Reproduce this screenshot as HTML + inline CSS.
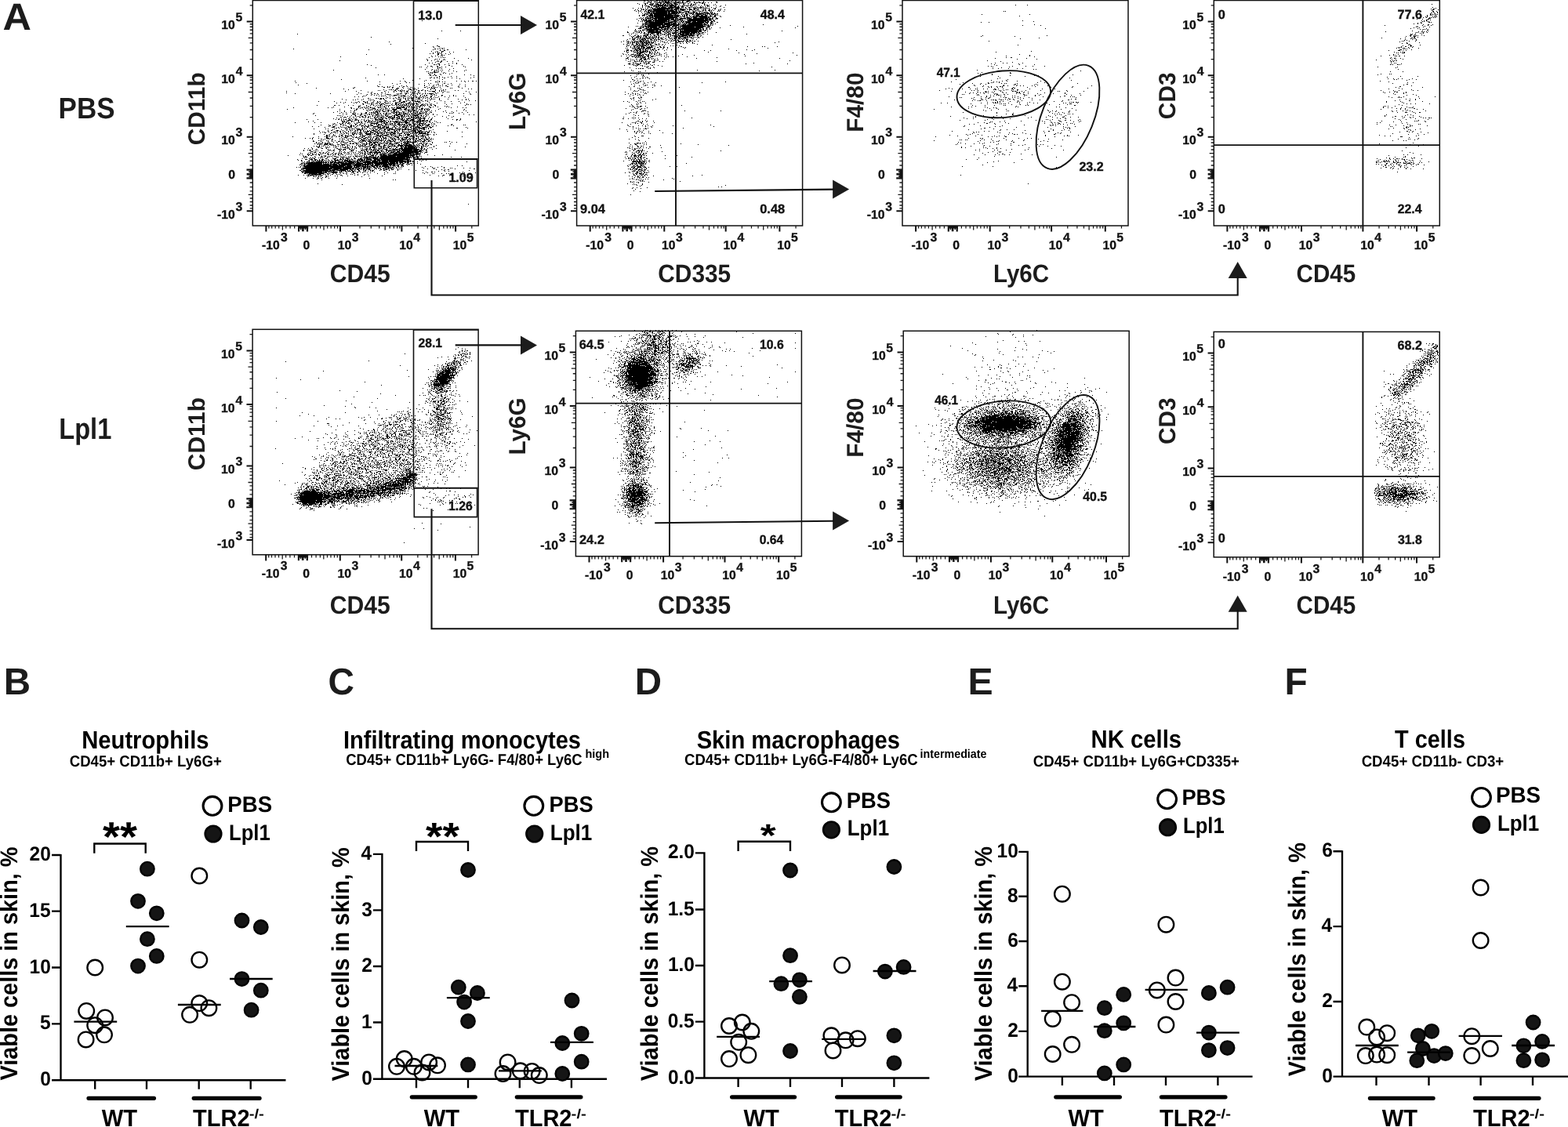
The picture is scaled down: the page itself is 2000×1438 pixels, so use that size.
<!DOCTYPE html>
<html><head><meta charset="utf-8"><title>Figure</title>
<style>html,body{margin:0;padding:0;background:#fff;width:2000px;height:1438px;overflow:hidden}svg{display:block}text{text-rendering:geometricPrecision}</style>
</head><body>
<svg xmlns="http://www.w3.org/2000/svg" width="2000" height="1438" viewBox="0 0 2000 1438" font-family="Liberation Sans, Arial, sans-serif" font-weight="bold">
<rect width="2000" height="1438" fill="#fff"/>
<path d="M821 1.5h2m3 0h1m3 0h1m6 0h2m2 0h1m2 0h2m1 0h3m2 0h2m3 0h1m3 0h1m8 0h2m4 0h4m17 0h1m-71 1h2m1 0h1m3 0h3m4 0h1m1 0h1m1 0h2m1 0h6m1 0h2m2 0h1m4 0h4m2 0h1m4 0h3m2 0h1m4 0h1m5 0h1m5 0h1m15 0h2m-94 1h1m3 0h2m2 0h2m6 0h7m1 0h1m1 0h8m2 0h1m1 0h2m2 0h3m1 0h1m1 0h4m1 0h1m4 0h1m5 0h2m1 0h2m1 0h3m1 0h3m1 0h1m3 0h1m3 0h1m6 0h1m-102 1h1m8 0h2m1 0h1m4 0h1m1 0h2m2 0h1m1 0h1m3 0h2m2 0h2m2 0h3m1 0h3m2 0h2m1 0h1m3 0h1m1 0h1m2 0h1m1 0h1m3 0h2m2 0h1m5 0h1m7 0h2m1 0h1m-84 1h1m7 0h1m4 0h5m3 0h5m1 0h1m2 0h2m1 0h2m1 0h4m1 0h2m2 0h5m1 0h1m4 0h2m8 0h2m1 0h1m1 0h1m11 0h1m13 0h1m913 0h1m-1008 1h1m2 0h2m5 0h1m1 0h3m1 0h1m1 0h13m1 0h1m2 0h6m1 0h2m8 0h1m1 0h1m3 0h2m1 0h2m2 0h2m1 0h1m3 0h1m6 0h2m1 0h2m1 0h1m5 0h1m14 0h1m369 0h1m14 0h1m-492 1h1m4 0h2m1 0h1m2 0h2m2 0h4m1 0h7m1 0h16m2 0h2m1 0h1m1 0h2m1 0h1m1 0h2m3 0h1m1 0h2m10 0h1m7 0h2m9 0h1m5 0h1m-101 1h1m3 0h1m2 0h3m4 0h2m1 0h5m1 0h1m1 0h4m1 0h1m1 0h1m2 0h4m1 0h2m1 0h1m1 0h2m3 0h3m5 0h1m3 0h1m4 0h1m1 0h1m4 0h1m2 0h1m2 0h1m2 0h1m1 0h1m13 0h1m-100 1h1m6 0h1m1 0h1m1 0h2m4 0h3m1 0h2m1 0h7m2 0h15m2 0h3m2 0h1m3 0h3m1 0h1m1 0h1m1 0h1m2 0h2m1 0h4m1 0h1m2 0h1m6 0h1m5 0h1m9 0h1m903 0h1m-1021 1h1m6 0h1m2 0h1m5 0h1m2 0h1m2 0h1m1 0h2m1 0h1m1 0h1m1 0h21m2 0h6m1 0h1m5 0h2m3 0h1m4 0h5m2 0h1m1 0h2m1 0h1m1 0h1m1 0h1m1 0h1m1 0h1m5 0h1m1 0h1m918 0h1m-1014 1h1m1 0h1m4 0h1m6 0h23m1 0h2m1 0h7m1 0h6m4 0h1m1 0h3m3 0h2m2 0h2m6 0h1m1 0h2m3 0h1m6 0h2m6 0h1m905 0h1m2 0h2m-1020 1h1m2 0h1m4 0h1m1 0h2m1 0h2m2 0h5m1 0h16m1 0h3m1 0h5m1 0h2m1 0h1m1 0h1m1 0h8m1 0h1m2 0h4m1 0h3m1 0h1m1 0h1m4 0h1m1 0h1m1 0h1m4 0h2m2 0h1m7 0h1m1 0h1m5 0h1m902 0h2m5 0h1m-1026 1h1m4 0h1m2 0h1m5 0h1m2 0h4m1 0h1m1 0h27m1 0h1m1 0h1m1 0h1m1 0h1m1 0h4m6 0h1m3 0h1m3 0h1m1 0h1m1 0h1m4 0h2m1 0h2m2 0h3m1 0h1m2 0h1m5 0h1m1 0h1m907 0h1m-1016 1h1m2 0h1m1 0h1m5 0h1m1 0h1m1 0h2m1 0h35m1 0h3m5 0h6m5 0h2m1 0h1m2 0h1m1 0h2m1 0h1m4 0h1m4 0h1m1 0h1m7 0h1m1 0h1m5 0h1m356 0h1m1 0h1m544 0h2m3 0h1m-1015 1h1m3 0h1m1 0h1m1 0h4m1 0h1m1 0h2m1 0h15m1 0h3m1 0h5m1 0h3m1 0h4m1 0h1m1 0h1m1 0h1m1 0h4m1 0h5m1 0h1m3 0h1m2 0h1m1 0h2m1 0h1m1 0h1m3 0h1m1 0h1m919 0h1m4 0h1m-1020 1h1m10 0h4m1 0h25m1 0h12m2 0h2m2 0h2m1 0h2m2 0h1m2 0h2m1 0h3m2 0h1m1 0h1m1 0h1m1 0h6m2 0h3m2 0h1m913 0h2m2 0h1m3 0h1m-1015 1h1m2 0h3m1 0h1m1 0h4m1 0h18m1 0h12m1 0h1m3 0h1m4 0h3m2 0h6m2 0h11m1 0h1m1 0h5m1 0h2m1 0h3m1 0h2m908 0h1m5 0h1m-1010 1h2m1 0h3m2 0h4m1 0h23m1 0h1m1 0h3m1 0h1m4 0h1m1 0h1m1 0h1m1 0h3m5 0h2m1 0h1m1 0h7m1 0h5m1 0h1m2 0h1m1 0h4m1 0h1m1 0h1m337 0h1m60 0h1m510 0h2m1 0h1m1 0h1m1 0h1m1 0h1m-1019 1h1m3 0h4m4 0h6m1 0h33m3 0h1m1 0h2m1 0h2m2 0h1m5 0h1m1 0h5m2 0h3m2 0h3m3 0h2m4 0h3m1 0h1m895 0h1m8 0h1m3 0h1m1 0h1m4 0h1m-1017 1h1m3 0h1m1 0h1m2 0h1m1 0h1m1 0h31m1 0h1m1 0h4m1 0h1m2 0h1m1 0h2m1 0h2m2 0h1m1 0h1m2 0h2m1 0h16m3 0h3m2 0h2m5 0h1m381 0h1m519 0h1m8 0h1m1 0h1m-1007 1h2m1 0h2m1 0h2m1 0h13m1 0h14m1 0h3m1 0h1m1 0h1m1 0h3m2 0h1m3 0h1m2 0h7m1 0h11m1 0h4m3 0h3m6 0h1m898 0h1m1 0h1m6 0h1m2 0h1m1 0h1m-1016 1h1m2 0h1m2 0h3m1 0h1m1 0h5m1 0h29m2 0h1m1 0h1m4 0h1m1 0h5m1 0h2m1 0h5m1 0h1m1 0h13m3 0h2m3 0h1m896 0h1m4 0h1m3 0h1m3 0h1m1 0h1m2 0h1m1 0h1m-1016 1h1m1 0h1m1 0h1m3 0h1m1 0h6m1 0h28m1 0h4m2 0h8m1 0h6m2 0h19m1 0h3m1 0h2m3 0h3m906 0h3m-1013 1h1m5 0h1m1 0h2m1 0h3m1 0h1m1 0h1m1 0h2m1 0h4m1 0h16m1 0h4m1 0h2m1 0h7m1 0h1m1 0h1m1 0h1m1 0h20m1 0h10m3 0h1m1 0h1m892 0h1m6 0h1m6 0h2m-1005 1h1m1 0h2m1 0h2m2 0h7m1 0h19m1 0h6m1 0h3m1 0h3m1 0h1m5 0h27m1 0h3m2 0h2m908 0h2m3 0h1m-1287 1h1m275 0h1m4 0h1m1 0h10m2 0h18m1 0h3m4 0h4m1 0h2m2 0h4m1 0h1m3 0h28m1 0h2m2 0h2m392 0h1m508 0h1m2 0h1m2 0h1m-1003 1h1m1 0h1m2 0h1m1 0h10m1 0h19m1 0h9m2 0h1m1 0h2m1 0h2m1 0h8m1 0h5m1 0h12m1 0h2m3 0h3m1 0h1m406 0h1m495 0h1m1 0h1m3 0h1m1 0h1m-1000 1h3m1 0h22m1 0h1m1 0h7m1 0h3m1 0h1m1 0h1m1 0h1m1 0h2m2 0h7m1 0h16m1 0h5m2 0h3m5 0h2m335 0h1m9 0h1m550 0h1m9 0h2m1 0h1m-1013 1h1m5 0h1m2 0h35m1 0h3m1 0h1m2 0h1m1 0h1m2 0h1m1 0h2m1 0h24m1 0h3m3 0h2m1 0h1m898 0h1m3 0h2m-994 1h2m1 0h2m1 0h1m1 0h18m1 0h8m1 0h5m1 0h1m2 0h2m1 0h1m2 0h1m1 0h3m2 0h18m2 0h2m2 0h1m3 0h3m3 0h1m890 0h1m4 0h1m-990 1h2m1 0h39m1 0h5m1 0h1m1 0h5m1 0h26m1 0h1m2 0h1m2 0h1m63 0h1m345 0h1m495 0h1m5 0h2m4 0h1m-1009 1h1m1 0h1m1 0h1m2 0h17m1 0h4m2 0h7m1 0h4m1 0h3m1 0h1m1 0h28m1 0h1m1 0h1m1 0h3m1 0h1m1 0h1m22 0h1m372 0h1m22 0h1m438 0h1m47 0h1m6 0h1m3 0h1m-1015 1h1m1 0h1m3 0h2m1 0h1m1 0h21m1 0h11m2 0h5m1 0h1m1 0h1m1 0h33m2 0h4m111 0h1m789 0h1m9 0h1m-1017 1h1m14 0h1m2 0h3m1 0h2m1 0h12m2 0h15m2 0h2m2 0h2m2 0h2m1 0h1m1 0h16m1 0h11m1 0h1m1 0h1m1 0h2m43 0h1m857 0h1m1 0h1m6 0h1m7 0h1m-1008 1h3m1 0h1m3 0h4m1 0h18m1 0h1m2 0h3m1 0h2m1 0h1m1 0h1m2 0h3m1 0h2m1 0h27m4 0h2m1 0h1m2 0h1m10 0h1m95 0h1m788 0h1m6 0h1m-997 1h4m4 0h4m1 0h5m1 0h8m2 0h2m2 0h6m1 0h1m1 0h2m1 0h2m1 0h1m2 0h2m1 0h26m2 0h2m2 0h2m3 0h1m427 0h1m465 0h1m8 0h1m10 0h1m-1010 1h1m9 0h1m1 0h1m1 0h19m1 0h6m1 0h2m1 0h2m1 0h1m3 0h1m3 0h27m1 0h2m1 0h2m3 0h1m3 0h1m905 0h1m3 0h1m1 0h1m3 0h1m-1012 1h1m5 0h1m2 0h2m1 0h1m2 0h15m1 0h4m2 0h1m1 0h3m3 0h2m1 0h2m1 0h1m1 0h3m1 0h2m1 0h1m1 0h23m1 0h2m1 0h2m1 0h1m911 0h1m5 0h1m-1258 1h1m23 0h1m221 0h1m1 0h1m2 0h1m1 0h2m2 0h1m3 0h2m1 0h8m1 0h4m1 0h2m1 0h1m1 0h2m1 0h1m2 0h3m1 0h1m3 0h5m2 0h23m1 0h4m3 0h2m97 0h1m803 0h1m19 0h1m-1022 1h1m9 0h1m1 0h1m2 0h1m2 0h1m7 0h17m2 0h2m2 0h3m1 0h1m1 0h1m2 0h1m2 0h2m2 0h1m1 0h28m7 0h1m864 0h1m41 0h1m3 0h2m1 0h1m2 0h1m-1020 1h2m6 0h1m3 0h1m1 0h2m2 0h1m2 0h2m3 0h17m4 0h2m2 0h3m1 0h1m1 0h1m1 0h6m2 0h13m1 0h8m1 0h2m3 0h3m1 0h1m13 0h1m892 0h1m1 0h1m6 0h1m4 0h1m-1014 1h1m9 0h1m3 0h2m4 0h1m2 0h5m2 0h4m1 0h2m5 0h2m1 0h1m1 0h1m2 0h4m1 0h1m2 0h4m1 0h17m1 0h2m1 0h3m1 0h1m909 0h1m5 0h1m1 0h1m1 0h1m-1437 1h1m422 0h1m2 0h1m4 0h1m1 0h1m8 0h1m1 0h5m1 0h2m1 0h1m5 0h3m1 0h1m2 0h1m1 0h2m3 0h4m2 0h2m3 0h1m1 0h1m1 0h6m1 0h5m1 0h3m1 0h2m4 0h3m2 0h1m1 0h1m4 0h1m49 0h1m846 0h1m1 0h1m-980 1h1m2 0h2m2 0h1m3 0h3m1 0h3m3 0h1m1 0h1m1 0h1m2 0h3m2 0h1m5 0h2m1 0h2m1 0h18m1 0h1m1 0h3m2 0h1m905 0h2m3 0h2m7 0h1m-1020 1h2m7 0h1m5 0h2m2 0h2m2 0h1m2 0h7m3 0h1m3 0h2m3 0h2m1 0h1m6 0h1m2 0h1m2 0h1m1 0h4m2 0h1m1 0h3m1 0h8m1 0h8m3 0h2m3 0h1m358 0h1m81 0h1m462 0h2m3 0h1m2 0h1m1 0h1m7 0h1m-1012 1h1m1 0h2m3 0h4m1 0h1m3 0h1m1 0h2m2 0h1m1 0h1m2 0h1m1 0h1m1 0h2m2 0h1m8 0h1m2 0h1m2 0h1m4 0h5m1 0h7m1 0h1m1 0h2m1 0h1m3 0h1m5 0h1m3 0h1m357 0h1m42 0h1m498 0h1m5 0h1m3 0h3m-1333 1h1m332 0h1m4 0h2m1 0h1m1 0h2m2 0h1m2 0h2m3 0h1m1 0h1m1 0h1m1 0h1m1 0h2m1 0h2m3 0h1m1 0h1m5 0h2m4 0h1m1 0h4m1 0h2m1 0h1m1 0h1m1 0h6m1 0h4m1 0h2m1 0h1m2 0h2m4 0h1m906 0h2m3 0h1m-1003 1h2m1 0h2m1 0h3m1 0h2m1 0h1m1 0h2m1 0h6m1 0h4m1 0h1m2 0h2m1 0h2m5 0h1m3 0h1m2 0h1m3 0h1m2 0h1m1 0h4m2 0h4m2 0h1m4 0h1m6 0h1m1 0h1m433 0h1m436 0h1m29 0h1m7 0h2m2 0h1m-1247 1h1m244 0h1m3 0h1m1 0h1m5 0h1m1 0h1m1 0h5m1 0h1m1 0h1m1 0h1m1 0h1m1 0h1m2 0h1m2 0h1m3 0h3m2 0h1m5 0h2m1 0h1m1 0h2m4 0h2m2 0h2m1 0h1m1 0h3m4 0h1m1 0h2m416 0h1m484 0h1m12 0h1m3 0h1m1 0h1m-1006 1h1m5 0h4m2 0h2m1 0h1m1 0h4m1 0h2m2 0h1m2 0h3m2 0h2m1 0h1m1 0h3m2 0h1m1 0h1m3 0h1m6 0h1m4 0h1m1 0h1m2 0h1m2 0h1m1 0h1m2 0h3m10 0h1m43 0h1m859 0h1m8 0h1m4 0h1m-1008 1h1m8 0h1m7 0h2m1 0h4m1 0h1m1 0h1m3 0h1m1 0h1m1 0h1m1 0h2m4 0h1m6 0h1m2 0h1m1 0h1m1 0h1m2 0h3m2 0h2m6 0h1m2 0h2m2 0h2m2 0h1m907 0h1m2 0h1m11 0h1m-1012 1h1m5 0h1m3 0h1m1 0h1m1 0h2m1 0h1m1 0h5m1 0h1m2 0h5m2 0h1m3 0h1m4 0h1m4 0h1m11 0h1m1 0h1m2 0h1m1 0h1m1 0h2m1 0h2m1 0h1m2 0h1m1 0h2m2 0h2m3 0h2m3 0h1m370 0h1m526 0h1m1 0h1m6 0h1m7 0h1m-1310 1h1m295 0h1m6 0h3m1 0h1m2 0h1m2 0h1m1 0h3m2 0h7m1 0h1m2 0h2m1 0h1m2 0h1m1 0h2m5 0h1m2 0h1m1 0h1m3 0h1m3 0h1m9 0h4m1 0h2m3 0h2m1 0h2m3 0h1m109 0h1m791 0h1m-985 1h1m2 0h1m1 0h4m1 0h1m1 0h2m1 0h1m1 0h2m1 0h8m1 0h4m13 0h1m1 0h1m13 0h2m10 0h1m7 0h1m104 0h1m805 0h1m15 0h1m-1269 1h1m257 0h2m1 0h1m2 0h1m4 0h2m1 0h1m1 0h1m1 0h4m1 0h4m1 0h1m1 0h1m1 0h1m2 0h1m4 0h1m11 0h1m4 0h1m1 0h1m2 0h1m4 0h2m2 0h1m4 0h1m6 0h1m1 0h1m902 0h1m5 0h2m-1298 1h1m296 0h1m3 0h1m6 0h2m3 0h3m1 0h1m2 0h3m3 0h1m2 0h1m1 0h2m5 0h2m2 0h1m4 0h1m2 0h1m40 0h1m907 0h1m-998 1h1m1 0h1m2 0h1m1 0h1m3 0h1m1 0h1m1 0h3m1 0h9m1 0h2m4 0h1m1 0h1m1 0h1m1 0h1m2 0h1m18 0h1m44 0h1m389 0h1m497 0h1m1 0h2m11 0h1m-1255 1h2m240 0h1m1 0h1m6 0h4m1 0h3m1 0h4m1 0h2m6 0h4m13 0h1m7 0h1m2 0h1m2 0h1m4 0h1m922 0h1m9 0h2m-1249 1h1m6 0h2m238 0h1m4 0h1m3 0h2m2 0h2m1 0h1m1 0h5m2 0h2m1 0h2m1 0h2m3 0h1m5 0h2m3 0h1m21 0h2m83 0h1m18 0h1m2 0h1m15 0h1m795 0h1m4 0h2m5 0h1m2 0h1m-1250 1h1m250 0h1m4 0h1m1 0h1m1 0h3m2 0h1m1 0h3m2 0h8m5 0h2m2 0h2m2 0h2m3 0h1m13 0h1m5 0h1m2 0h1m908 0h1m1 0h1m1 0h1m8 0h1m4 0h1m-1276 1h1m33 0h1m1 0h1m1 0h1m1 0h1m231 0h1m1 0h1m5 0h5m1 0h1m1 0h2m1 0h6m1 0h6m4 0h2m10 0h1m4 0h1m10 0h1m10 0h1m105 0h1m801 0h1m2 0h1m4 0h3m5 0h1m11 0h1m-1436 1h1m179 0h2m2 0h1m5 0h1m245 0h1m1 0h6m2 0h1m2 0h3m1 0h1m1 0h1m2 0h1m1 0h1m5 0h1m4 0h1m83 0h1m862 0h1m1 0h1m-1325 1h1m81 0h1m8 0h1m4 0h1m3 0h2m22 0h1m204 0h3m5 0h1m1 0h4m2 0h3m1 0h2m1 0h2m2 0h1m2 0h1m1 0h3m1 0h1m3 0h2m9 0h1m5 0h1m95 0h1m9 0h1m822 0h3m2 0h1m9 0h1m-1240 1h1m4 0h2m231 0h3m2 0h2m3 0h1m1 0h4m1 0h2m2 0h1m2 0h3m4 0h1m2 0h1m2 0h2m9 0h1m50 0h1m7 0h1m32 0h1m19 0h1m811 0h1m11 0h3m7 0h1m-1244 1h1m6 0h1m5 0h3m230 0h1m2 0h1m5 0h1m1 0h2m3 0h2m1 0h3m1 0h5m1 0h2m1 0h1m2 0h1m3 0h1m479 0h1m473 0h1m-1235 1h1m2 0h1m4 0h1m9 0h1m4 0h1m220 0h1m1 0h1m7 0h3m1 0h1m2 0h6m1 0h3m2 0h2m5 0h1m2 0h1m64 0h1m366 0h1m507 0h1m7 0h1m4 0h1m-1240 1h1m5 0h1m1 0h1m2 0h1m236 0h1m7 0h1m3 0h8m1 0h1m6 0h2m1 0h2m2 0h1m2 0h1m1 0h1m8 0h1m92 0h1m68 0h1m769 0h1m1 0h1m4 0h4m-1244 1h1m3 0h1m5 0h2m2 0h1m5 0h1m5 0h1m219 0h1m17 0h2m1 0h3m4 0h1m5 0h1m1 0h1m3 0h1m2 0h1m3 0h1m5 0h1m117 0h1m-499 1h1m90 0h2m3 0h1m8 0h1m222 0h1m2 0h1m2 0h1m3 0h4m1 0h1m1 0h1m1 0h3m2 0h2m2 0h2m1 0h2m3 0h1m2 0h2m5 0h1m1 0h1m6 0h1m19 0h1m78 0h1m350 0h1m476 0h1m5 0h1m-1226 1h1m4 0h2m1 0h1m237 0h1m4 0h2m1 0h7m1 0h1m3 0h1m1 0h2m1 0h1m7 0h1m1 0h1m1 0h1m43 0h1m130 0h1m296 0h1m458 0h1m4 0h1m1 0h1m-1230 1h1m4 0h1m6 0h1m229 0h1m6 0h1m2 0h1m2 0h1m1 0h1m1 0h1m1 0h2m1 0h3m1 0h3m4 0h3m2 0h1m1 0h2m1 0h1m7 0h1m3 0h1m2 0h1m14 0h1m84 0h1m332 0h1m29 0h1m447 0h1m19 0h1m2 0h2m5 0h1m-1358 1h1m116 0h1m7 0h1m4 0h1m241 0h2m1 0h1m1 0h1m1 0h2m1 0h2m1 0h1m1 0h3m2 0h2m2 0h3m19 0h1m5 0h1m17 0h1m442 0h1m459 0h1m-1233 1h1m14 0h1m2 0h1m1 0h1m232 0h2m8 0h2m1 0h1m1 0h1m1 0h1m1 0h4m4 0h1m1 0h1m19 0h1m64 0h1m368 0h1m5 0h2m483 0h1m-1196 1h1m17 0h1m200 0h3m16 0h2m1 0h1m1 0h2m2 0h2m3 0h1m1 0h1m4 0h1m49 0h1m105 0h1m274 0h1m39 0h1m463 0h1m4 0h2m6 0h1m-1243 1h1m10 0h1m1 0h1m2 0h1m5 0h1m234 0h1m2 0h1m6 0h2m3 0h3m2 0h3m2 0h1m1 0h1m2 0h1m3 0h1m11 0h1m449 0h1m24 0h1m452 0h1m4 0h1m8 0h1m-1245 1h1m8 0h1m10 0h1m1 0h1m33 0h1m196 0h1m7 0h1m1 0h1m6 0h1m1 0h1m3 0h4m9 0h1m3 0h2m915 0h1m-1323 1h1m111 0h1m4 0h1m7 0h1m4 0h1m20 0h1m219 0h1m4 0h1m2 0h1m2 0h1m2 0h2m14 0h1m1 0h1m170 0h1m251 0h1m513 0h1m2 0h1m1 0h1m1 0h2m-1225 1h1m1 0h1m2 0h2m6 0h1m6 0h1m223 0h1m1 0h1m5 0h3m1 0h1m1 0h1m1 0h2m1 0h1m2 0h2m1 0h1m1 0h2m4 0h1m6 0h1m3 0h1m68 0h1m361 0h1m497 0h1m2 0h1m-1223 1h1m5 0h2m244 0h1m13 0h1m1 0h1m3 0h1m4 0h3m456 0h1m482 0h1m-1228 1h1m3 0h1m25 0h1m4 0h1m220 0h1m4 0h1m1 0h2m4 0h2m3 0h1m2 0h1m1 0h3m132 0h1m307 0h1m9 0h1m4 0h1m19 0h1m473 0h1m1 0h1m-1223 1h3m11 0h1m9 0h1m218 0h3m3 0h1m4 0h3m1 0h1m5 0h1m1 0h1m1 0h1m124 0h1m52 0h1m259 0h1m34 0h1m474 0h1m12 0h1m-1320 1h1m73 0h1m10 0h2m1 0h1m3 0h1m6 0h1m21 0h1m213 0h1m2 0h1m1 0h1m2 0h1m1 0h3m8 0h1m4 0h1m4 0h1m433 0h1m31 0h1m18 0h1m453 0h1m2 0h1m5 0h2m1 0h1m-1313 1h1m86 0h1m11 0h2m222 0h1m11 0h1m1 0h1m1 0h2m3 0h1m1 0h1m11 0h2m6 0h1m431 0h1m-727 1h1m3 0h2m6 0h2m17 0h1m14 0h1m219 0h1m7 0h1m2 0h1m3 0h1m17 0h1m415 0h1m3 0h1m26 0h1m16 0h1m8 0h1m14 0h1m-798 1h1m1 0h1m13 0h1m6 0h1m4 0h1m4 0h1m24 0h1m230 0h1m1 0h1m6 0h1m150 0h1m281 0h1m20 0h1m469 0h1m24 0h1m-1304 1h1m64 0h1m13 0h1m1 0h2m241 0h1m21 0h1m3 0h1m4 0h1m442 0h1m502 0h1m-1223 1h1m4 0h1m14 0h1m232 0h1m2 0h1m1 0h2m1 0h2m6 0h1m1 0h1m436 0h1m6 0h1m12 0h1m10 0h1m6 0h1m-763 1h1m8 0h1m7 0h1m13 0h1m744 0h1m2 0h1m461 0h1m-1359 1h1m124 0h1m3 0h1m1 0h2m4 0h1m1 0h1m29 0h1m210 0h1m83 0h1m98 0h1m257 0h1m-693 1h1m4 0h1m12 0h1m5 0h1m13 0h1m214 0h1m15 0h1m144 0h1m307 0h1m101 0h1m-835 1h1m1 0h1m6 0h2m1 0h1m1 0h1m4 0h1m18 0h1m213 0h1m17 0h1m1 0h1m956 0h1m15 0h1m-1241 1h1m1 0h1m1 0h4m1 0h1m7 0h1m271 0h1m413 0h1m35 0h1m-743 1h2m1 0h1m1 0h1m13 0h1m2 0h1m7 0h1m240 0h1m429 0h1m10 0h1m29 0h2m-736 1h1m6 0h1m11 0h1m240 0h1m12 0h1m422 0h1m14 0h1m495 0h1m10 0h1m1 0h1m-1293 1h1m7 0h1m56 0h3m4 0h1m7 0h1m29 0h1m7 0h1m211 0h1m5 0h1m1 0h1m444 0h1m102 0h1m388 0h1m-1209 1h1m2 0h1m2 0h2m47 0h1m199 0h1m15 0h1m467 0h1m30 0h1m4 0h1m-765 1h1m14 0h1m6 0h1m228 0h1m7 0h1m1 0h1m428 0h1m22 0h1m33 0h1m478 0h1m21 0h1m-1259 1h1m6 0h1m2 0h1m3 0h1m6 0h1m32 0h1m204 0h1m15 0h1m943 0h1m-1304 1h1m81 0h2m3 0h2m2 0h1m8 0h2m8 0h1m5 0h1m17 0h1m204 0h1m13 0h2m2 0h1m2 0h1m448 0h1m88 0h1m-851 1h1m20 0h1m24 0h1m25 0h1m225 0h1m3 0h1m11 0h1m443 0h1m497 0h1m6 0h1m5 0h1m4 0h1m12 0h1m-1367 1h1m128 0h1m241 0h2m411 0h1m65 0h1m492 0h1m2 0h1m15 0h1m8 0h1m-1281 1h1m16 0h1m5 0h1m245 0h1m13 0h1m3 0h1m450 0h1m18 0h1m82 0h1m427 0h1m-1419 1h1m91 0h1m41 0h1m5 0h1m10 0h1m13 0h1m16 0h1m1 0h1m21 0h1m5 0h1m3 0h1m4 0h1m4 0h2m3 0h1m200 0h1m8 0h1m2 0h1m413 0h1m43 0h1m5 0h1m12 0h1m29 0h1m432 0h1m-1277 1h1m32 0h1m37 0h2m3 0h1m3 0h1m2 0h1m25 0h1m210 0h1m7 0h1m1 0h1m1 0h1m13 0h1m94 0h1m287 0h1m53 0h1m3 0h1m2 0h1m496 0h1m-1395 1h1m140 0h1m3 0h1m35 0h1m251 0h1m3 0h1m6 0h1m4 0h1m9 0h1m58 0h1m332 0h1m31 0h1m3 0h1m1 0h1m7 0h1m48 0h1m8 0h1m462 0h1m6 0h1m-1412 1h1m108 0h1m9 0h1m30 0h1m4 0h1m2 0h1m16 0h2m7 0h1m232 0h1m2 0h1m1 0h1m8 0h1m417 0h1m10 0h1m8 0h2m15 0h1m3 0h1m1 0h1m13 0h1m76 0h1m401 0h1m-1293 1h1m21 0h1m27 0h1m23 0h2m4 0h1m6 0h1m14 0h1m218 0h1m14 0h1m13 0h1m389 0h1m25 0h1m6 0h1m36 0h2m25 0h1m472 0h2m-1416 1h1m160 0h1m5 0h1m5 0h1m2 0h1m19 0h1m16 0h1m215 0h1m13 0h1m1 0h1m6 0h1m409 0h1m37 0h1m12 0h1m3 0h1m21 0h1m3 0h1m466 0h1m-1310 1h1m19 0h1m10 0h1m5 0h1m8 0h1m13 0h1m10 0h1m6 0h1m1 0h1m2 0h1m3 0h2m15 0h1m229 0h1m5 0h1m1 0h1m10 0h2m7 0h1m399 0h1m10 0h1m24 0h2m4 0h1m10 0h1m4 0h1m3 0h1m10 0h1m19 0h1m55 0h1m407 0h1m-1319 1h2m3 0h1m6 0h1m2 0h1m11 0h1m4 0h2m3 0h1m24 0h1m6 0h1m1 0h1m16 0h2m12 0h1m8 0h1m208 0h1m5 0h2m443 0h1m6 0h1m3 0h1m6 0h1m3 0h2m1 0h1m41 0h1m18 0h1m28 0h1m416 0h2m-1335 1h1m36 0h2m3 0h1m1 0h1m3 0h2m11 0h1m9 0h1m1 0h1m15 0h2m4 0h1m2 0h1m2 0h1m1 0h1m1 0h1m3 0h1m23 0h1m232 0h1m7 0h1m5 0h1m33 0h1m368 0h2m24 0h1m2 0h1m7 0h1m5 0h1m13 0h1m17 0h1m29 0h1m26 0h1m412 0h1m33 0h1m-1412 1h1m46 0h2m48 0h1m5 0h3m5 0h1m5 0h1m7 0h1m4 0h1m11 0h1m4 0h2m1 0h2m19 0h1m1 0h1m12 0h1m214 0h1m8 0h1m1 0h1m394 0h1m35 0h1m44 0h1m1 0h2m92 0h1m396 0h1m-1347 1h1m66 0h2m15 0h2m2 0h1m2 0h1m19 0h1m2 0h1m1 0h1m7 0h1m34 0h1m3 0h1m214 0h1m389 0h1m7 0h1m12 0h1m9 0h1m6 0h1m9 0h1m4 0h1m8 0h2m3 0h1m5 0h1m10 0h2m21 0h1m15 0h1m13 0h1m1 0h1m425 0h1m16 0h1m-1345 1h1m44 0h1m6 0h1m1 0h2m1 0h1m2 0h1m1 0h1m5 0h1m8 0h1m1 0h2m3 0h1m2 0h1m7 0h1m9 0h1m5 0h1m9 0h1m2 0h1m235 0h1m11 0h1m1 0h1m1 0h1m425 0h1m20 0h1m1 0h2m12 0h1m1 0h1m6 0h1m4 0h2m501 0h1m-1341 1h1m21 0h1m1 0h1m7 0h1m10 0h2m3 0h1m1 0h2m1 0h1m1 0h1m4 0h1m4 0h1m7 0h2m2 0h2m3 0h1m2 0h1m9 0h1m4 0h1m2 0h1m1 0h1m14 0h1m3 0h1m224 0h1m4 0h1m5 0h1m1 0h1m375 0h1m40 0h1m2 0h1m4 0h1m26 0h1m1 0h1m3 0h1m9 0h1m6 0h1m10 0h1m18 0h1m12 0h1m19 0h1m400 0h1m15 0h1m6 0h1m17 0h1m5 0h1m-1444 1h1m74 0h1m13 0h1m35 0h1m11 0h1m2 0h1m4 0h1m1 0h1m2 0h1m2 0h2m9 0h1m4 0h1m7 0h1m4 0h1m1 0h1m1 0h4m5 0h1m2 0h1m3 0h1m26 0h1m213 0h1m1 0h1m1 0h1m400 0h1m43 0h1m2 0h1m7 0h1m7 0h1m14 0h2m1 0h2m7 0h1m45 0h1m1 0h1m9 0h1m20 0h1m396 0h1m-1311 1h1m4 0h1m16 0h1m3 0h1m6 0h1m8 0h2m6 0h2m2 0h1m1 0h1m3 0h1m3 0h1m18 0h1m1 0h1m10 0h1m4 0h1m1 0h1m25 0h1m8 0h1m189 0h1m19 0h1m2 0h1m5 0h1m404 0h1m14 0h2m8 0h3m6 0h1m12 0h1m17 0h2m2 0h1m5 0h1m4 0h1m452 0h1m7 0h1m5 0h1m2 0h2m10 0h1m-1429 1h1m91 0h1m15 0h1m12 0h2m28 0h1m1 0h1m7 0h3m4 0h1m1 0h1m6 0h1m12 0h1m2 0h1m5 0h1m241 0h1m16 0h1m30 0h1m37 0h1m344 0h1m3 0h1m8 0h1m3 0h1m5 0h1m6 0h1m11 0h1m3 0h1m13 0h1m1 0h2m4 0h1m26 0h1m25 0h1m407 0h1m23 0h1m2 0h1m-1418 1h1m44 0h1m38 0h1m12 0h1m3 0h2m2 0h1m9 0h1m14 0h1m1 0h1m1 0h3m4 0h2m1 0h1m4 0h1m2 0h1m1 0h1m1 0h1m2 0h1m3 0h1m2 0h1m2 0h1m1 0h6m3 0h1m34 0h1m7 0h1m201 0h1m5 0h1m2 0h1m2 0h1m8 0h1m1 0h1m411 0h1m8 0h1m9 0h1m13 0h1m1 0h1m24 0h1m4 0h1m9 0h1m11 0h1m19 0h1m14 0h1m18 0h1m399 0h1m12 0h1m-1336 1h1m12 0h1m5 0h1m7 0h1m3 0h1m6 0h3m1 0h1m9 0h1m9 0h1m6 0h1m2 0h1m4 0h1m5 0h1m10 0h2m2 0h2m45 0h1m196 0h1m6 0h1m5 0h1m4 0h1m411 0h1m1 0h1m17 0h1m20 0h1m2 0h2m7 0h2m3 0h1m19 0h2m20 0h1m32 0h1m418 0h1m22 0h1m-1336 1h1m5 0h1m3 0h1m2 0h1m10 0h1m4 0h1m1 0h1m3 0h5m1 0h1m1 0h1m1 0h1m1 0h1m1 0h1m6 0h1m2 0h1m2 0h1m6 0h1m4 0h1m1 0h2m6 0h1m4 0h1m6 0h2m13 0h1m228 0h1m5 0h1m2 0h1m3 0h1m425 0h1m1 0h1m14 0h1m7 0h1m1 0h2m1 0h1m30 0h1m1 0h1m10 0h1m4 0h1m40 0h1m11 0h1m415 0h1m11 0h1m-1344 1h1m1 0h1m17 0h1m2 0h2m1 0h1m11 0h1m1 0h1m8 0h1m1 0h3m3 0h1m9 0h1m5 0h1m2 0h1m1 0h1m2 0h1m4 0h2m3 0h1m8 0h1m9 0h1m4 0h1m2 0h1m9 0h1m211 0h1m454 0h1m8 0h1m13 0h1m9 0h1m2 0h1m11 0h1m13 0h1m36 0h2m-907 1h1m4 0h1m4 0h1m29 0h1m4 0h1m10 0h1m1 0h1m1 0h1m2 0h1m1 0h1m4 0h1m1 0h1m2 0h1m1 0h1m1 0h1m3 0h1m3 0h1m2 0h1m6 0h2m8 0h1m7 0h1m249 0h1m392 0h1m40 0h1m6 0h1m4 0h1m12 0h1m21 0h1m31 0h1m21 0h1m12 0h1m2 0h1m1 0h1m400 0h1m12 0h1m5 0h1m18 0h1m20 0h1m-1337 1h1m9 0h1m3 0h2m4 0h1m5 0h1m3 0h1m1 0h1m3 0h2m1 0h1m1 0h1m1 0h1m2 0h1m3 0h2m3 0h1m3 0h1m1 0h1m1 0h1m14 0h1m20 0h1m214 0h1m5 0h1m2 0h2m405 0h1m1 0h1m15 0h1m14 0h1m4 0h1m17 0h1m1 0h2m7 0h1m2 0h1m6 0h1m10 0h1m59 0h1m402 0h1m7 0h1m1 0h1m1 0h1m-1319 1h2m8 0h2m1 0h1m2 0h2m1 0h2m2 0h1m4 0h1m3 0h2m2 0h1m5 0h1m2 0h1m1 0h2m2 0h1m1 0h1m1 0h3m6 0h3m3 0h1m2 0h1m4 0h1m2 0h1m9 0h1m243 0h1m2 0h2m6 0h1m423 0h1m11 0h1m8 0h2m24 0h1m11 0h1m6 0h1m10 0h1m19 0h1m473 0h1m-1375 1h1m19 0h1m6 0h1m8 0h1m11 0h3m2 0h1m17 0h4m6 0h1m2 0h1m4 0h1m1 0h1m2 0h1m1 0h1m1 0h1m10 0h1m4 0h1m1 0h1m1 0h1m5 0h1m10 0h1m12 0h1m9 0h1m2 0h1m207 0h1m11 0h1m18 0h1m404 0h1m10 0h1m4 0h1m16 0h1m7 0h1m4 0h2m3 0h1m8 0h1m64 0h1m4 0h2m420 0h1m4 0h1m6 0h1m-1365 1h1m8 0h1m2 0h1m7 0h1m8 0h1m3 0h1m1 0h1m13 0h1m11 0h1m7 0h2m5 0h1m2 0h1m4 0h3m6 0h1m1 0h1m1 0h1m9 0h2m10 0h1m28 0h1m4 0h1m213 0h1m23 0h1m384 0h1m25 0h1m7 0h1m1 0h1m10 0h1m1 0h2m1 0h2m5 0h2m1 0h1m5 0h1m7 0h1m22 0h1m9 0h1m35 0h2m421 0h1m19 0h1m-1334 1h1m4 0h1m13 0h2m10 0h2m4 0h2m7 0h1m1 0h1m1 0h1m2 0h3m1 0h1m2 0h1m4 0h1m4 0h2m1 0h1m16 0h1m35 0h1m7 0h1m207 0h1m1 0h1m423 0h1m6 0h1m1 0h2m7 0h1m11 0h1m27 0h1m4 0h1m51 0h1m423 0h1m17 0h2m-1393 1h1m19 0h1m30 0h1m5 0h2m3 0h1m7 0h1m4 0h1m2 0h1m7 0h1m1 0h1m2 0h1m3 0h2m6 0h2m3 0h3m1 0h1m4 0h1m5 0h7m3 0h1m5 0h1m8 0h1m12 0h1m7 0h1m9 0h1m209 0h1m4 0h1m10 0h1m7 0h1m1 0h1m450 0h1m2 0h1m3 0h1m8 0h1m9 0h1m45 0h1m9 0h1m413 0h1m17 0h1m27 0h1m-1381 1h1m5 0h1m7 0h1m4 0h1m1 0h1m2 0h1m6 0h2m1 0h1m6 0h1m5 0h2m2 0h1m4 0h2m12 0h1m1 0h1m1 0h1m2 0h6m5 0h1m4 0h1m5 0h1m1 0h1m11 0h1m44 0h1m209 0h1m10 0h1m2 0h1m442 0h1m6 0h1m2 0h1m2 0h1m2 0h1m21 0h1m2 0h1m12 0h1m50 0h1m1 0h1m1 0h2m2 0h2m1 0h1m15 0h1m376 0h1m19 0h1m-1360 1h1m8 0h1m12 0h1m2 0h1m11 0h1m1 0h1m4 0h2m1 0h1m3 0h1m3 0h1m7 0h1m1 0h2m1 0h1m6 0h3m2 0h1m1 0h2m7 0h5m2 0h1m2 0h2m2 0h1m1 0h1m20 0h1m9 0h1m19 0h1m229 0h1m5 0h1m376 0h1m7 0h1m42 0h1m15 0h1m1 0h2m1 0h1m13 0h1m23 0h1m7 0h1m4 0h1m11 0h1m20 0h1m2 0h1m14 0h1m415 0h1m-1329 1h2m5 0h1m1 0h1m2 0h1m4 0h1m1 0h1m2 0h1m1 0h4m1 0h1m1 0h1m6 0h1m3 0h2m2 0h1m1 0h1m3 0h1m2 0h3m1 0h1m3 0h2m1 0h1m2 0h2m6 0h1m2 0h1m1 0h1m3 0h1m1 0h1m25 0h1m18 0h1m216 0h1m1 0h1m407 0h2m14 0h1m20 0h1m15 0h1m1 0h1m2 0h1m1 0h1m17 0h1m63 0h3m427 0h1m4 0h1m5 0h1m17 0h1m-1361 1h1m9 0h2m1 0h1m8 0h2m3 0h1m8 0h1m4 0h2m1 0h2m2 0h1m1 0h1m1 0h1m2 0h1m2 0h1m1 0h2m1 0h1m4 0h1m1 0h1m3 0h3m1 0h1m3 0h1m3 0h1m3 0h1m15 0h1m25 0h1m1 0h1m2 0h1m204 0h1m6 0h1m410 0h2m65 0h1m10 0h1m8 0h1m27 0h1m12 0h1m9 0h1m422 0h1m-1381 1h1m21 0h2m4 0h1m11 0h1m5 0h1m8 0h1m7 0h1m4 0h1m3 0h1m3 0h1m1 0h1m1 0h2m1 0h1m4 0h1m1 0h1m1 0h2m2 0h1m1 0h1m2 0h2m2 0h2m1 0h2m1 0h4m1 0h1m2 0h1m2 0h2m2 0h1m1 0h1m3 0h2m1 0h2m1 0h1m2 0h1m3 0h2m3 0h2m37 0h1m212 0h1m62 0h1m370 0h1m15 0h1m11 0h1m11 0h1m1 0h1m25 0h1m2 0h1m58 0h2m416 0h1m-1332 1h2m8 0h1m1 0h1m8 0h1m6 0h1m4 0h1m1 0h1m2 0h1m12 0h1m2 0h1m2 0h1m4 0h1m1 0h2m2 0h1m4 0h1m2 0h1m1 0h2m1 0h1m2 0h1m5 0h1m7 0h1m11 0h1m2 0h1m232 0h1m3 0h1m4 0h2m2 0h3m4 0h1m420 0h1m51 0h1m35 0h1m432 0h1m1 0h1m2 0h1m8 0h1m-1355 1h1m13 0h1m17 0h1m1 0h1m4 0h1m5 0h1m1 0h1m8 0h1m1 0h1m1 0h1m1 0h1m1 0h2m4 0h1m9 0h3m1 0h1m1 0h6m1 0h1m1 0h1m1 0h1m1 0h2m1 0h2m2 0h2m1 0h2m11 0h1m1 0h1m2 0h1m5 0h1m10 0h1m2 0h1m10 0h1m222 0h1m1 0h1m5 0h1m1 0h1m396 0h1m21 0h1m3 0h1m16 0h1m38 0h1m2 0h1m48 0h1m3 0h1m412 0h1m29 0h1m7 0h1m-1429 1h1m43 0h1m4 0h1m23 0h2m8 0h1m3 0h2m2 0h1m1 0h2m3 0h2m1 0h1m1 0h1m4 0h2m1 0h1m5 0h2m6 0h2m1 0h2m2 0h6m1 0h3m2 0h1m2 0h1m3 0h2m1 0h1m1 0h1m4 0h1m2 0h1m9 0h2m25 0h1m14 0h1m3 0h1m214 0h1m3 0h1m11 0h1m433 0h1m7 0h1m2 0h1m88 0h1m404 0h1m5 0h1m4 0h1m11 0h1m9 0h1m1 0h1m1 0h1m-1354 1h1m2 0h1m3 0h1m3 0h1m6 0h1m3 0h1m4 0h4m7 0h1m1 0h1m2 0h1m1 0h1m2 0h1m4 0h1m3 0h7m4 0h3m5 0h1m1 0h1m4 0h2m4 0h3m2 0h1m1 0h1m1 0h1m14 0h1m236 0h1m11 0h1m1 0h1m5 0h1m3 0h1m412 0h1m26 0h1m8 0h1m95 0h1m413 0h1m4 0h1m5 0h1m10 0h2m-1439 1h1m66 0h1m20 0h2m7 0h1m5 0h1m3 0h1m1 0h1m2 0h1m2 0h1m1 0h1m1 0h1m3 0h1m2 0h1m1 0h1m5 0h6m5 0h1m3 0h4m1 0h1m1 0h1m2 0h3m2 0h1m3 0h2m1 0h2m2 0h1m2 0h2m1 0h1m11 0h1m32 0h1m214 0h1m8 0h2m373 0h1m81 0h1m9 0h1m69 0h1m407 0h1m24 0h1m5 0h1m14 0h1m7 0h1m-1364 1h1m1 0h1m12 0h1m3 0h2m1 0h1m2 0h1m1 0h1m1 0h1m3 0h1m1 0h2m2 0h1m3 0h2m4 0h5m4 0h1m1 0h1m3 0h2m2 0h2m1 0h1m1 0h1m1 0h2m2 0h1m4 0h1m1 0h1m2 0h2m1 0h1m1 0h2m43 0h1m213 0h1m16 0h1m431 0h1m9 0h1m71 0h1m35 0h1m422 0h1m-1363 1h1m5 0h1m7 0h1m4 0h1m15 0h2m10 0h1m1 0h3m3 0h1m4 0h3m2 0h2m2 0h2m3 0h1m10 0h1m1 0h3m1 0h1m1 0h5m2 0h1m3 0h1m7 0h1m4 0h1m4 0h1m12 0h1m13 0h1m11 0h1m224 0h3m1 0h1m49 0h1m45 0h1m337 0h1m26 0h1m1 0h1m50 0h1m4 0h1m4 0h1m16 0h1m410 0h1m5 0h1m7 0h1m3 0h1m4 0h1m19 0h1m-1389 1h1m8 0h1m11 0h1m24 0h1m1 0h4m2 0h1m3 0h4m3 0h1m5 0h3m1 0h2m1 0h1m4 0h2m1 0h1m4 0h1m1 0h2m2 0h1m3 0h2m3 0h2m1 0h1m2 0h3m3 0h1m16 0h1m10 0h1m235 0h1m5 0h1m7 0h1m512 0h1m6 0h1m16 0h1m412 0h1m24 0h1m-1377 1h1m9 0h1m5 0h1m5 0h1m3 0h1m14 0h2m3 0h1m1 0h2m1 0h1m1 0h1m1 0h2m1 0h1m9 0h1m5 0h2m1 0h1m1 0h3m1 0h2m1 0h1m2 0h2m4 0h1m2 0h1m4 0h1m1 0h1m1 0h1m2 0h1m3 0h1m1 0h1m1 0h1m5 0h2m18 0h1m8 0h1m10 0h1m6 0h1m207 0h1m3 0h1m2 0h1m416 0h1m42 0h1m66 0h1m11 0h1m4 0h1m7 0h1m418 0h1m9 0h3m8 0h1m6 0h2m-1412 1h1m32 0h1m3 0h1m12 0h1m1 0h2m6 0h2m4 0h2m6 0h1m1 0h3m2 0h2m2 0h1m3 0h1m2 0h2m1 0h1m1 0h1m3 0h3m1 0h2m2 0h2m1 0h1m1 0h1m1 0h3m1 0h1m4 0h1m3 0h2m1 0h1m1 0h5m1 0h1m2 0h1m3 0h1m25 0h1m1 0h1m1 0h1m7 0h1m216 0h1m8 0h1m10 0h1m3 0h1m444 0h1m20 0h1m49 0h1m14 0h1m447 0h1m-1407 1h1m41 0h2m6 0h3m4 0h1m4 0h1m2 0h1m1 0h1m3 0h2m1 0h1m5 0h1m1 0h1m1 0h1m1 0h1m3 0h1m1 0h3m2 0h1m1 0h1m6 0h1m2 0h2m1 0h1m2 0h4m1 0h1m2 0h1m1 0h2m3 0h1m1 0h1m1 0h1m1 0h2m2 0h1m2 0h2m1 0h1m6 0h1m38 0h1m206 0h1m22 0h1m461 0h1m7 0h1m53 0h1m2 0h1m2 0h1m10 0h1m1 0h1m3 0h1m-932 1h1m13 0h3m5 0h3m6 0h1m2 0h1m2 0h1m1 0h1m2 0h4m3 0h1m4 0h1m1 0h1m1 0h1m7 0h9m1 0h1m1 0h1m2 0h1m1 0h1m1 0h1m3 0h2m1 0h1m1 0h4m2 0h1m5 0h1m2 0h1m5 0h1m4 0h1m40 0h1m5 0h1m203 0h1m17 0h2m463 0h2m60 0h1m414 0h1m26 0h1m3 0h1m-1398 1h1m27 0h1m1 0h1m1 0h1m13 0h1m4 0h1m5 0h1m4 0h3m8 0h1m2 0h1m1 0h1m1 0h1m1 0h1m1 0h1m1 0h1m2 0h2m1 0h1m5 0h1m1 0h2m1 0h3m3 0h3m1 0h2m3 0h1m2 0h1m1 0h1m2 0h5m3 0h2m2 0h1m3 0h1m27 0h1m237 0h1m3 0h1m439 0h1m16 0h1m35 0h1m29 0h1m8 0h1m12 0h1m406 0h1m25 0h1m9 0h1m-1367 1h1m6 0h1m2 0h1m6 0h1m1 0h1m1 0h1m3 0h2m3 0h1m3 0h1m1 0h1m2 0h1m2 0h1m2 0h1m1 0h1m3 0h1m1 0h1m2 0h3m1 0h1m1 0h2m2 0h2m3 0h3m1 0h3m1 0h1m2 0h1m1 0h2m2 0h1m2 0h1m1 0h2m1 0h3m2 0h1m1 0h1m2 0h2m10 0h1m9 0h1m13 0h1m248 0h1m384 0h1m31 0h1m9 0h1m12 0h1m9 0h1m12 0h1m48 0h1m17 0h1m408 0h1m12 0h2m7 0h1m21 0h1m-1377 1h1m4 0h2m9 0h2m6 0h2m2 0h2m2 0h1m2 0h2m6 0h1m1 0h1m1 0h2m2 0h3m1 0h1m5 0h4m1 0h1m1 0h2m2 0h1m1 0h2m2 0h1m1 0h2m1 0h1m4 0h1m1 0h4m3 0h1m1 0h1m2 0h1m3 0h1m6 0h1m21 0h1m6 0h1m218 0h1m12 0h1m432 0h1m2 0h1m15 0h1m54 0h1m18 0h1m7 0h1m12 0h2m8 0h1m9 0h1m400 0h1m14 0h1m6 0h1m3 0h1m9 0h1m-1384 1h1m5 0h1m2 0h1m2 0h1m3 0h2m7 0h1m10 0h1m3 0h1m2 0h1m4 0h2m1 0h1m3 0h1m1 0h2m1 0h1m1 0h2m2 0h1m1 0h1m1 0h5m1 0h3m1 0h1m2 0h2m7 0h1m2 0h1m2 0h10m1 0h1m1 0h3m8 0h1m254 0h1m3 0h1m3 0h1m67 0h1m346 0h1m33 0h1m47 0h1m36 0h1m9 0h1m430 0h1m9 0h1m15 0h1m2 0h1m3 0h2m1 0h1m-1401 1h1m6 0h1m11 0h1m3 0h1m2 0h1m1 0h1m19 0h1m1 0h1m2 0h2m2 0h2m1 0h1m1 0h2m3 0h2m3 0h1m1 0h3m5 0h4m1 0h2m1 0h1m2 0h6m2 0h2m2 0h1m3 0h1m1 0h2m1 0h3m4 0h1m3 0h1m20 0h1m15 0h1m206 0h2m5 0h1m6 0h1m10 0h1m4 0h1m408 0h1m7 0h1m23 0h1m13 0h1m8 0h1m63 0h1m6 0h1m419 0h1m25 0h1m-1415 1h1m13 0h1m22 0h1m2 0h2m2 0h1m2 0h1m1 0h2m3 0h2m2 0h1m3 0h3m5 0h1m2 0h1m4 0h1m8 0h4m1 0h6m7 0h1m3 0h2m1 0h1m1 0h3m3 0h3m1 0h1m3 0h1m4 0h3m1 0h1m3 0h1m1 0h3m4 0h1m7 0h2m26 0h1m4 0h2m3 0h1m227 0h1m443 0h1m7 0h1m66 0h1m1 0h1m5 0h1m34 0h1m406 0h1m8 0h1m27 0h1m-1387 1h1m2 0h1m3 0h1m1 0h4m4 0h3m1 0h2m6 0h1m2 0h1m2 0h1m4 0h1m3 0h1m1 0h1m1 0h1m1 0h2m2 0h2m2 0h1m17 0h1m1 0h3m1 0h5m1 0h4m6 0h4m1 0h4m2 0h2m3 0h1m32 0h1m3 0h1m236 0h1m400 0h1m31 0h1m64 0h1m17 0h1m10 0h1m7 0h2m5 0h1m9 0h1m410 0h1m22 0h1m-1411 1h1m36 0h1m2 0h1m3 0h2m3 0h2m7 0h1m2 0h1m4 0h1m1 0h1m1 0h4m1 0h1m4 0h1m1 0h1m1 0h1m1 0h7m3 0h1m1 0h2m1 0h1m3 0h5m4 0h2m1 0h3m3 0h2m2 0h4m1 0h3m1 0h6m1 0h4m1 0h2m5 0h1m258 0h2m4 0h1m5 0h1m7 0h1m447 0h1m20 0h1m26 0h1m21 0h2m25 0h1m383 0h1m41 0h1m1 0h1m1 0h1m8 0h1m-1425 1h1m42 0h4m1 0h2m5 0h1m2 0h1m5 0h1m3 0h1m3 0h2m3 0h1m2 0h2m1 0h3m2 0h1m1 0h6m1 0h1m1 0h1m2 0h1m2 0h1m2 0h6m2 0h3m3 0h5m1 0h1m3 0h1m1 0h1m1 0h1m1 0h6m2 0h1m1 0h1m5 0h2m7 0h1m50 0h1m203 0h1m4 0h1m2 0h1m4 0h1m438 0h1m1 0h1m9 0h1m56 0h1m7 0h1m12 0h1m15 0h1m6 0h1m400 0h1m9 0h1m30 0h1m-1443 1h1m24 0h1m7 0h1m20 0h1m6 0h1m3 0h1m2 0h2m9 0h1m1 0h2m1 0h2m6 0h2m1 0h2m1 0h1m5 0h3m3 0h1m2 0h2m1 0h3m2 0h1m5 0h1m1 0h5m1 0h4m1 0h5m1 0h1m3 0h2m3 0h2m1 0h1m1 0h1m3 0h1m2 0h2m3 0h1m2 0h1m6 0h1m2 0h1m231 0h1m12 0h1m1 0h1m1 0h1m6 0h2m15 0h1m412 0h1m7 0h1m6 0h1m19 0h1m58 0h1m3 0h1m3 0h1m10 0h1m395 0h1m3 0h1m33 0h1m-1369 1h1m6 0h1m2 0h2m2 0h1m2 0h2m1 0h1m5 0h1m2 0h1m4 0h1m1 0h1m2 0h1m7 0h9m5 0h1m1 0h3m1 0h1m3 0h1m1 0h2m2 0h2m3 0h2m7 0h3m1 0h1m4 0h2m1 0h1m2 0h1m1 0h7m1 0h1m7 0h1m2 0h1m256 0h1m2 0h1m4 0h1m439 0h2m8 0h1m17 0h1m45 0h1m9 0h1m7 0h2m13 0h1m1 0h1m420 0h1m-1365 1h2m1 0h1m6 0h2m1 0h1m7 0h1m7 0h2m4 0h1m4 0h1m7 0h2m3 0h1m2 0h1m1 0h2m2 0h1m4 0h3m1 0h1m1 0h2m1 0h1m2 0h1m2 0h5m1 0h2m1 0h2m1 0h1m2 0h4m3 0h2m1 0h1m2 0h2m2 0h1m2 0h2m3 0h2m6 0h1m21 0h1m227 0h1m15 0h1m4 0h1m410 0h1m5 0h1m26 0h1m76 0h1m2 0h1m2 0h1m3 0h1m13 0h1m385 0h1m38 0h1m13 0h1m1 0h1m-1403 1h1m9 0h1m9 0h1m4 0h1m3 0h1m1 0h1m6 0h2m4 0h1m4 0h2m1 0h1m3 0h1m3 0h2m2 0h1m1 0h1m4 0h1m1 0h5m1 0h1m2 0h2m1 0h1m2 0h1m1 0h1m1 0h1m1 0h2m3 0h3m1 0h1m1 0h3m2 0h2m1 0h2m4 0h2m2 0h5m1 0h3m2 0h5m2 0h1m1 0h1m22 0h2m14 0h1m1 0h1m206 0h1m105 0h1m399 0h1m32 0h1m2 0h2m17 0h1m410 0h1m7 0h1m17 0h1m-1379 1h2m2 0h1m2 0h1m9 0h1m3 0h1m5 0h2m1 0h2m3 0h2m4 0h3m2 0h1m3 0h1m1 0h4m5 0h2m4 0h2m1 0h1m1 0h1m2 0h1m5 0h1m1 0h1m1 0h1m3 0h1m1 0h1m3 0h1m1 0h3m2 0h1m1 0h2m1 0h2m3 0h1m2 0h2m1 0h1m3 0h1m1 0h3m9 0h1m14 0h1m6 0h1m222 0h1m12 0h1m4 0h1m3 0h1m2 0h1m5 0h1m25 0h1m371 0h1m19 0h1m27 0h1m61 0h1m5 0h1m443 0h1m8 0h1m1 0h1m18 0h1m-1423 1h1m7 0h1m12 0h1m5 0h2m7 0h1m8 0h2m1 0h3m2 0h1m2 0h1m6 0h1m2 0h2m1 0h4m5 0h7m1 0h2m3 0h3m1 0h1m1 0h1m6 0h2m2 0h1m3 0h1m2 0h4m1 0h1m1 0h1m3 0h1m1 0h1m2 0h1m1 0h4m2 0h1m5 0h1m1 0h1m1 0h2m2 0h2m250 0h1m3 0h1m15 0h1m6 0h1m79 0h1m318 0h1m39 0h1m5 0h1m80 0h1m14 0h1m401 0h1m1 0h1m18 0h1m3 0h1m-1385 1h1m8 0h4m4 0h1m3 0h1m1 0h1m1 0h1m1 0h1m2 0h2m1 0h2m4 0h1m8 0h1m2 0h1m2 0h2m6 0h1m1 0h1m3 0h4m1 0h4m1 0h4m4 0h1m1 0h1m1 0h1m4 0h1m3 0h3m1 0h2m1 0h1m2 0h2m4 0h7m2 0h7m3 0h3m43 0h1m212 0h1m23 0h1m430 0h1m33 0h1m39 0h1m22 0h1m3 0h1m429 0h2m1 0h1m-1369 1h2m2 0h1m7 0h1m1 0h1m2 0h2m5 0h1m1 0h1m1 0h1m5 0h1m1 0h1m6 0h1m2 0h2m1 0h1m3 0h3m1 0h1m1 0h1m1 0h1m2 0h5m1 0h1m1 0h1m3 0h2m2 0h1m1 0h1m1 0h1m3 0h3m5 0h1m3 0h1m1 0h1m2 0h5m1 0h3m4 0h1m2 0h1m32 0h2m12 0h1m214 0h1m2 0h1m8 0h1m2 0h1m44 0h1m383 0h2m99 0h1m4 0h1m2 0h1m412 0h1m12 0h1m3 0h1m-1395 1h1m14 0h1m2 0h1m7 0h1m13 0h1m1 0h1m5 0h3m4 0h1m1 0h2m2 0h2m3 0h2m4 0h1m3 0h1m1 0h2m4 0h4m1 0h3m1 0h1m2 0h5m3 0h1m1 0h2m1 0h2m2 0h1m2 0h2m1 0h3m2 0h1m1 0h1m1 0h5m2 0h1m1 0h5m1 0h1m2 0h1m243 0h1m16 0h1m8 0h1m4 0h1m1 0h2m426 0h1m15 0h1m72 0h1m23 0h1m406 0h1m19 0h1m19 0h1m-1388 1h1m10 0h1m6 0h1m2 0h2m5 0h1m2 0h6m1 0h1m1 0h1m9 0h1m1 0h1m2 0h3m2 0h1m5 0h2m2 0h4m1 0h5m1 0h1m1 0h4m1 0h7m1 0h5m2 0h2m1 0h1m1 0h1m1 0h1m5 0h2m10 0h1m246 0h1m14 0h1m420 0h1m40 0h1m7 0h1m8 0h1m49 0h1m13 0h1m438 0h1m1 0h1m6 0h1m-1388 1h1m3 0h2m5 0h3m5 0h1m4 0h1m4 0h1m1 0h1m3 0h1m1 0h2m2 0h2m2 0h1m4 0h1m2 0h1m2 0h4m1 0h1m2 0h2m2 0h1m1 0h1m1 0h1m3 0h3m6 0h1m1 0h2m2 0h1m3 0h1m6 0h1m4 0h2m1 0h3m1 0h2m1 0h3m9 0h1m1 0h1m265 0h1m4 0h1m20 0h1m433 0h1m31 0h1m35 0h1m10 0h1m8 0h1m435 0h1m-1393 1h1m10 0h1m8 0h1m1 0h2m2 0h2m2 0h1m1 0h1m4 0h1m2 0h1m4 0h2m5 0h2m2 0h1m1 0h2m1 0h3m1 0h2m2 0h4m1 0h1m1 0h1m5 0h3m4 0h1m1 0h1m3 0h3m2 0h1m1 0h1m3 0h1m1 0h1m5 0h1m1 0h3m2 0h3m2 0h5m1 0h1m1 0h1m1 0h2m2 0h1m22 0h1m229 0h1m8 0h1m3 0h1m3 0h1m9 0h1m386 0h1m40 0h1m5 0h1m69 0h1m5 0h2m455 0h2m6 0h1m-1392 1h1m1 0h1m5 0h1m5 0h2m7 0h1m5 0h1m3 0h1m6 0h1m3 0h2m2 0h1m4 0h1m2 0h3m2 0h1m1 0h1m4 0h3m2 0h2m1 0h1m3 0h1m1 0h2m4 0h2m2 0h2m1 0h1m6 0h2m2 0h3m1 0h2m3 0h1m2 0h2m1 0h4m1 0h3m2 0h1m2 0h3m2 0h1m2 0h1m35 0h1m219 0h1m2 0h1m2 0h1m3 0h1m421 0h1m3 0h1m2 0h1m23 0h1m92 0h1m419 0h1m11 0h1m3 0h1m10 0h1m-1405 1h1m5 0h2m6 0h2m3 0h2m1 0h1m3 0h1m2 0h2m2 0h2m4 0h1m1 0h2m1 0h2m4 0h4m3 0h3m4 0h5m2 0h1m1 0h2m1 0h1m1 0h2m1 0h2m1 0h2m1 0h9m3 0h2m3 0h1m2 0h2m2 0h1m1 0h1m1 0h1m1 0h1m3 0h4m1 0h5m1 0h3m2 0h2m7 0h1m256 0h1m6 0h1m8 0h1m17 0h1m396 0h1m32 0h1m11 0h1m16 0h1m27 0h1m16 0h1m3 0h1m467 0h1m-1422 1h1m20 0h1m13 0h1m3 0h1m2 0h1m1 0h1m4 0h1m1 0h2m1 0h1m1 0h1m2 0h1m1 0h1m4 0h7m4 0h2m2 0h3m1 0h2m1 0h1m1 0h1m2 0h1m4 0h1m2 0h4m2 0h1m1 0h4m2 0h2m1 0h1m1 0h1m2 0h1m1 0h1m1 0h1m1 0h1m1 0h1m2 0h10m1 0h1m265 0h1m9 0h1m7 0h1m27 0h1m382 0h1m50 0h1m16 0h1m37 0h1m5 0h1m423 0h1m31 0h1m-1409 1h1m12 0h1m6 0h1m4 0h1m7 0h1m3 0h1m6 0h1m4 0h3m2 0h1m3 0h3m1 0h1m4 0h7m1 0h1m1 0h2m1 0h1m1 0h1m4 0h2m4 0h3m1 0h5m1 0h1m5 0h1m7 0h1m1 0h4m7 0h1m2 0h2m4 0h1m2 0h1m1 0h3m1 0h1m4 0h1m2 0h1m675 0h1m4 0h1m9 0h1m38 0h1m6 0h2m2 0h1m16 0h1m29 0h2m450 0h1m19 0h1m-1401 1h2m1 0h1m5 0h1m1 0h1m7 0h2m3 0h1m6 0h1m2 0h2m8 0h1m1 0h1m3 0h1m1 0h1m1 0h1m1 0h1m7 0h3m2 0h3m1 0h5m1 0h1m3 0h1m2 0h1m1 0h1m1 0h1m1 0h4m2 0h1m1 0h2m1 0h4m1 0h1m2 0h1m1 0h1m1 0h1m4 0h1m1 0h2m1 0h1m2 0h3m6 0h1m657 0h1m22 0h1m17 0h1m80 0h1m27 0h1m13 0h1m383 0h1m49 0h1m-1394 1h2m2 0h1m3 0h1m1 0h1m5 0h2m1 0h2m3 0h6m1 0h2m10 0h1m2 0h4m5 0h1m1 0h1m4 0h1m1 0h6m1 0h1m1 0h1m1 0h4m2 0h1m1 0h2m1 0h1m1 0h1m4 0h1m1 0h2m7 0h1m3 0h3m3 0h3m1 0h1m2 0h4m1 0h1m266 0h1m8 0h3m400 0h1m22 0h1m23 0h1m5 0h1m6 0h1m51 0h1m23 0h1m3 0h1m1 0h1m402 0h1m6 0h1m32 0h1m-1434 1h1m32 0h1m7 0h1m1 0h2m1 0h1m3 0h1m4 0h2m2 0h1m4 0h1m2 0h1m2 0h1m5 0h1m1 0h1m2 0h1m3 0h1m1 0h1m1 0h1m1 0h1m4 0h2m1 0h1m3 0h1m1 0h1m1 0h1m3 0h2m1 0h2m6 0h2m6 0h6m5 0h1m3 0h2m2 0h3m1 0h1m1 0h1m2 0h1m1 0h1m2 0h1m1 0h1m1 0h1m1 0h1m3 0h1m42 0h1m220 0h1m382 0h1m66 0h1m4 0h1m5 0h1m10 0h2m61 0h1m440 0h3m-1390 1h1m16 0h2m5 0h1m11 0h1m3 0h4m7 0h1m2 0h3m1 0h1m3 0h2m3 0h2m1 0h1m1 0h1m1 0h1m2 0h1m3 0h3m2 0h1m2 0h2m1 0h2m4 0h3m1 0h1m4 0h3m2 0h1m1 0h1m1 0h6m5 0h3m4 0h1m5 0h1m2 0h2m3 0h1m258 0h1m7 0h1m982 0h1m-1409 1h1m5 0h1m2 0h1m7 0h1m9 0h4m1 0h1m11 0h1m3 0h1m4 0h1m3 0h1m1 0h1m7 0h1m1 0h2m3 0h4m1 0h1m3 0h1m2 0h1m3 0h2m2 0h1m2 0h1m2 0h4m5 0h1m1 0h1m1 0h2m4 0h1m3 0h2m3 0h2m3 0h1m1 0h1m1 0h2m2 0h2m1 0h1m3 0h2m1 0h1m2 0h1m3 0h1m2 0h1m276 0h1m407 0h1m14 0h1m2 0h1m26 0h1m18 0h1m10 0h1m4 0h1m493 0h1m-1412 1h1m10 0h2m3 0h1m3 0h1m1 0h1m2 0h2m11 0h1m2 0h1m4 0h1m2 0h1m2 0h1m6 0h1m2 0h2m2 0h1m4 0h1m2 0h1m1 0h1m3 0h6m2 0h1m2 0h1m2 0h1m2 0h1m3 0h3m1 0h2m1 0h1m1 0h2m2 0h5m1 0h1m2 0h3m2 0h1m1 0h1m1 0h2m2 0h1m1 0h1m1 0h1m2 0h1m1 0h4m2 0h1m2 0h1m249 0h1m7 0h1m441 0h1m11 0h1m59 0h1m12 0h1m445 0h1m12 0h1m1 0h1m9 0h1m-1397 1h1m10 0h1m9 0h1m3 0h1m5 0h1m5 0h1m7 0h1m3 0h4m1 0h2m2 0h3m1 0h2m2 0h2m3 0h2m1 0h1m1 0h1m2 0h1m4 0h1m3 0h1m1 0h1m1 0h1m3 0h1m2 0h1m1 0h2m1 0h2m1 0h2m2 0h1m3 0h1m2 0h1m3 0h3m3 0h2m1 0h1m1 0h1m2 0h1m1 0h1m263 0h1m409 0h1m1 0h1m4 0h1m1 0h1m21 0h1m27 0h1m22 0h1m48 0h1m448 0h1m-1406 1h1m6 0h1m1 0h1m1 0h1m5 0h1m1 0h1m4 0h1m3 0h1m8 0h1m4 0h1m2 0h1m3 0h1m10 0h2m1 0h4m3 0h1m1 0h1m1 0h2m1 0h3m1 0h3m1 0h4m1 0h1m1 0h1m2 0h5m2 0h2m1 0h1m5 0h2m1 0h1m1 0h1m3 0h1m2 0h1m6 0h2m1 0h2m3 0h1m3 0h2m3 0h2m267 0h1m375 0h1m58 0h1m15 0h1m7 0h1m16 0h1m13 0h1m25 0h1m444 0h1m13 0h1m2 0h1m-1395 1h2m8 0h1m8 0h1m4 0h1m7 0h3m1 0h2m1 0h1m6 0h3m1 0h2m7 0h1m2 0h3m1 0h2m2 0h4m2 0h1m3 0h1m2 0h1m3 0h1m3 0h1m2 0h1m3 0h4m1 0h2m7 0h2m3 0h1m1 0h4m1 0h1m3 0h1m1 0h3m1 0h1m1 0h2m1 0h4m2 0h1m1 0h2m1 0h1m23 0h1m249 0h1m423 0h1m23 0h1m1 0h1m16 0h1m36 0h1m8 0h1m-934 1h1m7 0h1m7 0h1m5 0h1m3 0h1m7 0h2m4 0h1m8 0h1m4 0h1m1 0h2m6 0h1m3 0h4m1 0h6m2 0h1m4 0h2m2 0h3m1 0h1m5 0h2m1 0h1m1 0h2m4 0h4m1 0h12m8 0h2m10 0h1m15 0h1m1 0h1m6 0h1m5 0h1m639 0h1m40 0h1m3 0h1m24 0h2m-891 1h1m2 0h2m1 0h1m1 0h1m2 0h2m1 0h2m1 0h1m9 0h1m3 0h2m3 0h4m3 0h2m2 0h1m2 0h3m5 0h2m4 0h1m3 0h3m2 0h3m2 0h2m2 0h2m1 0h1m2 0h1m1 0h1m3 0h3m5 0h3m3 0h2m2 0h1m1 0h4m5 0h2m4 0h1m3 0h2m3 0h1m1 0h1m1 0h1m5 0h1m250 0h1m9 0h3m1 0h1m2 0h1m1 0h1m2 0h1m400 0h1m23 0h1m5 0h1m546 0h1m-1402 1h1m3 0h1m2 0h1m1 0h1m3 0h5m1 0h2m1 0h1m22 0h2m1 0h3m2 0h2m1 0h1m5 0h3m1 0h2m1 0h2m2 0h2m1 0h2m4 0h2m1 0h1m1 0h1m1 0h1m1 0h3m1 0h3m1 0h1m1 0h5m1 0h1m3 0h1m2 0h8m3 0h1m7 0h2m1 0h1m1 0h2m2 0h2m3 0h1m25 0h1m20 0h1m213 0h2m1 0h1m3 0h1m51 0h1m352 0h1m9 0h1m10 0h1m10 0h1m19 0h1m15 0h1m469 0h1m-1355 1h1m1 0h2m1 0h1m2 0h5m2 0h3m1 0h1m5 0h3m2 0h5m1 0h1m1 0h1m11 0h1m3 0h1m2 0h1m1 0h1m1 0h2m3 0h1m1 0h3m2 0h3m1 0h3m5 0h1m5 0h1m1 0h4m6 0h2m2 0h1m1 0h2m1 0h3m1 0h4m6 0h1m1 0h1m4 0h2m2 0h2m5 0h2m253 0h1m5 0h2m9 0h1m2 0h1m65 0h1m328 0h1m51 0h1m35 0h1m15 0h1m3 0h1m2 0h1m467 0h1m16 0h1m-1409 1h1m5 0h1m4 0h1m3 0h1m1 0h2m1 0h1m6 0h1m1 0h2m1 0h1m3 0h1m1 0h1m8 0h1m2 0h1m1 0h1m1 0h2m2 0h2m4 0h4m1 0h3m1 0h1m1 0h3m4 0h4m2 0h1m4 0h1m1 0h2m3 0h7m1 0h11m2 0h2m1 0h2m1 0h2m3 0h2m2 0h1m2 0h1m9 0h1m255 0h1m29 0h1m86 0h1m325 0h1m33 0h1m9 0h1m4 0h1m40 0h1m449 0h1m-1396 1h1m2 0h1m3 0h1m2 0h1m1 0h1m2 0h1m11 0h1m3 0h1m11 0h1m5 0h1m7 0h1m1 0h1m1 0h1m1 0h3m4 0h1m5 0h2m1 0h1m4 0h1m1 0h1m2 0h2m3 0h1m1 0h5m1 0h3m2 0h2m1 0h5m1 0h12m1 0h1m3 0h1m3 0h2m1 0h1m1 0h1m2 0h1m7 0h1m19 0h1m229 0h1m2 0h1m6 0h1m3 0h2m1 0h1m417 0h1m15 0h1m7 0h1m62 0h1m10 0h1m16 0h1m455 0h1m-1406 1h4m9 0h1m2 0h1m4 0h1m2 0h2m4 0h1m1 0h2m2 0h2m1 0h1m2 0h1m2 0h1m2 0h2m4 0h2m2 0h1m3 0h4m1 0h2m1 0h4m1 0h1m2 0h1m1 0h3m1 0h2m1 0h1m3 0h2m5 0h1m2 0h2m4 0h2m1 0h1m1 0h3m1 0h13m1 0h1m2 0h2m1 0h1m2 0h1m9 0h1m39 0h1m219 0h2m13 0h2m396 0h1m-830 1h1m8 0h1m2 0h1m5 0h2m1 0h1m8 0h1m10 0h3m2 0h2m4 0h1m4 0h1m10 0h1m6 0h1m2 0h4m7 0h1m2 0h2m1 0h1m1 0h2m3 0h1m5 0h2m4 0h3m1 0h15m1 0h1m2 0h1m2 0h2m9 0h1m1 0h1m249 0h1m1 0h1m3 0h1m9 0h2m2 0h1m3 0h1m18 0h1m382 0h1m4 0h1m22 0h1m2 0h1m13 0h1m40 0h1m480 0h1m-1406 1h1m4 0h1m4 0h1m11 0h2m4 0h1m12 0h2m3 0h1m6 0h1m1 0h1m1 0h1m2 0h1m3 0h1m1 0h1m5 0h1m1 0h1m4 0h2m2 0h2m4 0h1m1 0h1m2 0h5m1 0h2m3 0h1m2 0h3m2 0h1m2 0h1m4 0h5m1 0h17m4 0h3m2 0h1m3 0h1m10 0h1m246 0h1m5 0h1m1 0h1m1 0h1m1 0h1m11 0h1m431 0h1m6 0h1m4 0h1m4 0h1m64 0h1m-944 1h1m4 0h2m13 0h1m7 0h1m4 0h3m1 0h1m2 0h3m4 0h2m2 0h1m1 0h1m10 0h1m2 0h4m2 0h1m1 0h1m2 0h3m1 0h1m2 0h1m4 0h1m1 0h4m6 0h10m1 0h24m2 0h1m2 0h2m1 0h1m7 0h1m254 0h1m2 0h2m8 0h1m429 0h1m40 0h1m20 0h1m-925 1h1m4 0h1m1 0h3m5 0h1m15 0h1m1 0h2m3 0h1m7 0h2m2 0h2m1 0h1m6 0h2m1 0h1m9 0h2m1 0h2m2 0h1m2 0h1m1 0h3m1 0h1m1 0h2m1 0h3m1 0h3m4 0h3m1 0h4m1 0h3m1 0h2m2 0h2m1 0h14m1 0h7m1 0h4m4 0h2m35 0h1m227 0h1m5 0h1m1 0h1m2 0h1m424 0h1m23 0h1m3 0h1m10 0h1m23 0h1m48 0h1m-970 1h1m7 0h1m4 0h1m2 0h1m1 0h1m4 0h1m8 0h1m3 0h1m1 0h2m6 0h1m14 0h3m3 0h1m6 0h2m2 0h1m1 0h2m6 0h3m1 0h1m1 0h2m3 0h1m1 0h1m3 0h2m1 0h2m1 0h1m1 0h2m1 0h2m1 0h5m1 0h21m1 0h3m1 0h1m1 0h1m2 0h1m259 0h1m4 0h1m3 0h4m1 0h3m1 0h1m97 0h1m329 0h1m538 0h1m-1393 1h3m3 0h1m14 0h1m15 0h1m1 0h1m3 0h1m6 0h1m1 0h1m8 0h1m1 0h1m4 0h2m2 0h2m2 0h3m3 0h3m2 0h2m1 0h2m1 0h1m2 0h1m2 0h2m1 0h2m1 0h3m2 0h4m1 0h2m1 0h24m6 0h1m253 0h1m12 0h1m3 0h1m2 0h1m6 0h1m18 0h1m421 0h1m7 0h1m1 0h1m-882 1h1m4 0h3m4 0h2m3 0h1m3 0h1m2 0h1m5 0h1m6 0h1m5 0h1m1 0h1m2 0h2m5 0h1m2 0h1m4 0h1m1 0h1m1 0h1m2 0h2m2 0h1m1 0h4m1 0h10m2 0h1m1 0h1m2 0h2m3 0h5m1 0h7m1 0h22m2 0h1m1 0h1m3 0h3m252 0h1m1 0h1m6 0h1m4 0h1m2 0h2m2 0h1m441 0h1m14 0h1m12 0h1m509 0h1m-1416 1h1m9 0h1m2 0h1m1 0h1m4 0h1m5 0h1m1 0h2m1 0h2m2 0h1m5 0h1m2 0h1m1 0h1m2 0h1m1 0h2m3 0h1m5 0h1m2 0h1m2 0h1m5 0h1m2 0h1m1 0h1m2 0h1m2 0h1m2 0h2m1 0h2m1 0h2m1 0h2m1 0h1m1 0h1m2 0h1m1 0h3m1 0h1m1 0h5m1 0h5m1 0h20m1 0h5m1 0h1m5 0h1m266 0h2m3 0h1m3 0h1m2 0h2m1 0h2m7 0h1m420 0h1m18 0h1m529 0h1m-1418 1h1m6 0h1m2 0h1m2 0h1m1 0h1m5 0h1m1 0h1m8 0h2m3 0h1m1 0h1m2 0h2m2 0h2m2 0h1m5 0h1m1 0h2m8 0h1m1 0h1m3 0h1m2 0h1m1 0h3m2 0h2m1 0h1m4 0h2m1 0h2m3 0h6m1 0h1m2 0h1m1 0h1m3 0h24m1 0h3m1 0h7m262 0h1m6 0h1m7 0h1m1 0h1m3 0h1m457 0h2m22 0h1m-921 1h1m9 0h3m3 0h2m2 0h2m2 0h2m2 0h1m7 0h2m1 0h1m3 0h1m1 0h1m3 0h1m2 0h1m1 0h2m8 0h1m1 0h1m3 0h1m5 0h1m6 0h1m3 0h1m1 0h2m1 0h3m3 0h1m3 0h3m1 0h5m1 0h28m1 0h10m1 0h1m10 0h1m18 0h1m233 0h1m7 0h1m2 0h2m4 0h3m1 0h2m1 0h1m419 0h1m13 0h1m12 0h1m4 0h1m6 0h1m5 0h1m28 0h1m473 0h1m4 0h1m16 0h1m-1446 1h1m18 0h1m6 0h1m2 0h2m9 0h1m5 0h1m1 0h1m8 0h1m7 0h1m7 0h1m12 0h1m1 0h1m4 0h1m1 0h1m1 0h1m2 0h1m5 0h4m1 0h2m5 0h9m1 0h34m2 0h1m3 0h1m18 0h1m250 0h1m2 0h4m1 0h3m1 0h2m2 0h1m2 0h1m23 0h1m14 0h1m907 0h1m-1385 1h1m1 0h2m10 0h1m7 0h2m3 0h2m2 0h1m1 0h1m1 0h1m3 0h3m5 0h1m3 0h1m5 0h1m2 0h1m2 0h1m2 0h3m1 0h3m1 0h1m2 0h2m1 0h1m3 0h2m1 0h1m1 0h1m2 0h1m2 0h2m1 0h20m1 0h16m1 0h1m1 0h3m3 0h3m1 0h1m1 0h1m262 0h1m4 0h1m3 0h3m2 0h1m2 0h2m449 0h1m523 0h1m-1406 1h1m1 0h1m1 0h1m10 0h1m7 0h2m1 0h1m3 0h1m1 0h1m4 0h1m4 0h3m3 0h3m1 0h1m1 0h1m3 0h2m4 0h1m3 0h1m5 0h1m2 0h1m1 0h14m1 0h2m2 0h40m1 0h8m41 0h1m12 0h1m208 0h1m6 0h1m3 0h2m2 0h1m1 0h1m1 0h3m3 0h1m59 0h1m464 0h1m431 0h1m10 0h1m1 0h1m-1405 1h1m1 0h1m4 0h2m1 0h2m1 0h1m4 0h1m1 0h2m7 0h1m10 0h1m5 0h1m2 0h2m2 0h1m1 0h2m7 0h1m6 0h1m1 0h1m1 0h7m1 0h1m1 0h1m1 0h7m1 0h34m1 0h5m1 0h1m2 0h2m3 0h2m3 0h1m263 0h2m3 0h1m3 0h1m2 0h1m2 0h2m2 0h2m426 0h1m519 0h1m3 0h1m27 0h1m2 0h2m-1420 1h1m8 0h1m2 0h1m2 0h2m9 0h1m3 0h2m7 0h5m5 0h1m1 0h2m3 0h3m1 0h1m2 0h1m2 0h3m3 0h1m1 0h3m3 0h1m1 0h7m1 0h8m1 0h37m1 0h1m4 0h1m4 0h2m7 0h1m256 0h1m2 0h1m1 0h2m2 0h1m1 0h2m3 0h1m2 0h2m5 0h2m22 0h1m907 0h1m15 0h1m4 0h1m3 0h2m1 0h1m3 0h1m12 0h1m11 0h1m-1435 1h1m9 0h3m3 0h4m2 0h3m3 0h1m2 0h3m5 0h1m7 0h2m2 0h1m2 0h3m1 0h2m1 0h1m2 0h2m1 0h1m1 0h2m6 0h7m1 0h2m1 0h7m3 0h8m1 0h37m7 0h1m2 0h1m271 0h1m1 0h1m1 0h1m2 0h1m1 0h2m1 0h1m4 0h1m409 0h1m13 0h1m56 0h1m456 0h1m12 0h1m5 0h1m8 0h1m1 0h2m2 0h1m-1415 1h1m3 0h1m9 0h1m2 0h2m2 0h2m1 0h2m1 0h2m1 0h2m2 0h1m1 0h1m2 0h1m2 0h2m2 0h7m1 0h1m1 0h1m2 0h5m1 0h2m2 0h1m1 0h1m1 0h1m1 0h4m1 0h6m1 0h2m1 0h1m1 0h3m1 0h4m1 0h34m1 0h1m1 0h4m1 0h1m11 0h1m3 0h1m3 0h1m258 0h1m2 0h1m2 0h1m2 0h2m2 0h2m1 0h1m3 0h1m5 0h1m929 0h1m7 0h1m1 0h1m2 0h1m8 0h1m2 0h1m7 0h1m5 0h1m3 0h1m-1418 1h2m7 0h2m4 0h2m1 0h1m1 0h1m1 0h2m1 0h4m1 0h1m3 0h1m1 0h1m3 0h1m2 0h2m1 0h1m1 0h1m3 0h2m1 0h10m1 0h1m1 0h1m2 0h2m1 0h5m1 0h1m1 0h7m1 0h11m2 0h8m1 0h22m1 0h6m1 0h1m10 0h1m257 0h1m11 0h4m1 0h2m1 0h2m2 0h2m1 0h1m1 0h1m2 0h1m445 0h1m482 0h1m7 0h2m2 0h1m1 0h1m6 0h1m2 0h1m11 0h1m6 0h1m2 0h1m8 0h1m-1424 1h1m2 0h2m1 0h1m2 0h3m1 0h1m1 0h8m1 0h1m2 0h2m1 0h1m2 0h8m2 0h6m1 0h3m1 0h16m1 0h2m1 0h11m1 0h8m1 0h25m1 0h13m1 0h1m2 0h2m4 0h1m62 0h1m210 0h13m1 0h3m5 0h1m438 0h1m487 0h1m2 0h1m3 0h1m2 0h3m1 0h1m1 0h2m4 0h1m3 0h1m1 0h1m8 0h1m1 0h1m27 0h1m-1438 1h1m1 0h1m2 0h1m1 0h25m1 0h2m1 0h4m1 0h13m1 0h3m1 0h8m1 0h1m1 0h5m1 0h1m1 0h33m1 0h7m1 0h3m1 0h5m2 0h2m1 0h3m285 0h1m3 0h1m2 0h2m1 0h3m1 0h1m2 0h1m434 0h1m33 0h1m461 0h2m3 0h1m16 0h3m2 0h2m1 0h2m3 0h1m2 0h1m3 0h1m1 0h2m1 0h1m7 0h1m2 0h1m-1430 1h2m1 0h2m1 0h21m1 0h1m2 0h1m1 0h1m1 0h1m1 0h2m2 0h3m1 0h4m1 0h19m1 0h9m2 0h2m1 0h8m1 0h17m1 0h13m2 0h2m1 0h3m3 0h2m2 0h3m1 0h2m3 0h1m272 0h3m1 0h1m1 0h2m1 0h8m1 0h1m37 0h1m13 0h1m892 0h2m5 0h1m5 0h1m8 0h3m2 0h4m4 0h1m-1421 1h1m1 0h1m2 0h3m1 0h19m1 0h8m1 0h9m1 0h3m1 0h14m1 0h1m1 0h21m1 0h3m1 0h26m2 0h2m1 0h2m1 0h3m3 0h1m1 0h3m13 0h1m267 0h1m1 0h2m1 0h4m3 0h1m1 0h1m1 0h1m2 0h1m931 0h1m2 0h1m9 0h1m4 0h1m7 0h1m3 0h1m7 0h2m4 0h1m2 0h1m5 0h2m-1428 1h1m1 0h1m2 0h2m2 0h32m1 0h7m1 0h16m1 0h12m1 0h9m1 0h4m2 0h7m1 0h1m1 0h7m1 0h4m1 0h5m1 0h2m2 0h3m5 0h1m5 0h1m2 0h1m273 0h1m1 0h1m8 0h1m2 0h4m1 0h1m431 0h1m508 0h1m3 0h2m6 0h1m2 0h1m5 0h2m15 0h1m5 0h1m9 0h1m-1432 1h1m1 0h54m1 0h7m2 0h13m1 0h2m1 0h2m1 0h1m1 0h10m1 0h2m1 0h9m1 0h2m1 0h4m2 0h3m3 0h3m68 0h1m5 0h1m210 0h1m6 0h3m1 0h3m3 0h2m1 0h1m946 0h1m3 0h1m13 0h1m1 0h1m3 0h1m1 0h1m-1411 1h1m3 0h52m1 0h10m1 0h2m1 0h6m1 0h12m1 0h4m2 0h2m1 0h3m1 0h10m1 0h1m3 0h1m1 0h1m2 0h2m3 0h1m1 0h1m27 0h1m6 0h1m13 0h1m237 0h1m4 0h1m1 0h1m1 0h1m2 0h5m1 0h1m1 0h2m31 0h1m8 0h1m363 0h1m38 0h1m65 0h1m431 0h1m11 0h1m1 0h1m7 0h1m15 0h1m-1425 1h1m2 0h1m1 0h1m2 0h1m1 0h32m1 0h28m2 0h7m1 0h1m1 0h1m1 0h4m1 0h2m1 0h1m1 0h1m2 0h3m1 0h2m2 0h1m1 0h1m3 0h7m1 0h1m1 0h2m3 0h1m2 0h1m1 0h1m1 0h1m25 0h1m12 0h1m6 0h1m7 0h1m238 0h2m1 0h2m3 0h5m2 0h1m1 0h2m3 0h1m519 0h1m419 0h2m5 0h1m11 0h1m4 0h1m3 0h1m-1410 1h50m1 0h15m1 0h3m1 0h2m1 0h2m1 0h10m4 0h3m2 0h2m1 0h1m2 0h2m1 0h2m2 0h6m1 0h1m2 0h1m34 0h1m11 0h1m1 0h1m11 0h1m7 0h1m1 0h1m14 0h1m7 0h1m207 0h3m2 0h2m3 0h2m3 0h1m1 0h1m936 0h1m11 0h1m3 0h1m15 0h1m-1410 1h40m1 0h23m1 0h3m1 0h1m1 0h5m1 0h1m1 0h2m3 0h1m1 0h2m2 0h1m4 0h2m2 0h1m1 0h1m3 0h2m1 0h4m3 0h1m1 0h1m5 0h1m1 0h1m1 0h1m33 0h1m7 0h1m26 0h1m23 0h2m195 0h1m1 0h2m2 0h1m2 0h3m2 0h1m3 0h1m4 0h1m951 0h1m6 0h1m9 0h1m5 0h1m15 0h1m-1432 1h1m1 0h1m3 0h32m1 0h9m1 0h11m2 0h4m1 0h1m1 0h1m1 0h3m2 0h1m2 0h2m1 0h2m1 0h4m4 0h1m7 0h2m2 0h1m1 0h3m2 0h1m2 0h3m5 0h1m13 0h1m34 0h1m6 0h1m3 0h1m3 0h2m231 0h1m1 0h1m2 0h1m1 0h2m1 0h5m2 0h3m-442 1h2m2 0h33m1 0h8m1 0h12m2 0h1m1 0h1m2 0h2m2 0h1m4 0h2m4 0h1m1 0h2m5 0h1m1 0h3m7 0h1m4 0h2m5 0h1m10 0h1m22 0h1m8 0h1m26 0h1m31 0h1m209 0h1m1 0h1m3 0h1m3 0h2m2 0h1m3 0h1m-443 1h2m1 0h36m1 0h3m1 0h1m4 0h1m1 0h2m1 0h1m1 0h2m1 0h5m1 0h3m1 0h1m3 0h2m5 0h1m1 0h1m2 0h1m2 0h1m1 0h2m16 0h1m66 0h1m7 0h1m4 0h1m233 0h1m1 0h2m3 0h1m1 0h3m2 0h2m-437 1h3m1 0h22m1 0h1m1 0h3m1 0h1m1 0h1m1 0h9m2 0h3m5 0h1m7 0h3m3 0h2m2 0h1m3 0h1m1 0h1m11 0h1m26 0h1m38 0h1m6 0h2m2 0h1m35 0h1m211 0h1m4 0h1m3 0h3m4 0h1m3 0h1m4 0h1m954 0h1m-1398 1h1m2 0h29m2 0h1m1 0h1m1 0h7m3 0h1m3 0h1m4 0h1m5 0h1m1 0h1m5 0h1m5 0h1m5 0h1m3 0h1m17 0h1m3 0h1m44 0h1m5 0h1m40 0h1m5 0h1m13 0h1m190 0h1m5 0h1m8 0h2m1 0h1m1 0h1m3 0h2m1 0h2m-438 1h3m1 0h1m1 0h11m1 0h7m4 0h2m1 0h1m4 0h1m2 0h1m5 0h1m3 0h1m2 0h1m9 0h2m28 0h1m20 0h1m1 0h1m36 0h1m9 0h1m1 0h1m9 0h1m5 0h1m2 0h1m234 0h1m2 0h3m2 0h4m1 0h1m-428 1h3m1 0h13m2 0h1m1 0h1m3 0h1m4 0h2m4 0h1m2 0h1m9 0h1m4 0h1m1 0h1m6 0h1m8 0h1m3 0h1m20 0h1m84 0h1m23 0h1m208 0h1m2 0h2m4 0h1m1 0h2m2 0h2m-445 1h1m6 0h1m3 0h3m1 0h5m1 0h3m1 0h1m1 0h3m1 0h1m3 0h1m2 0h1m2 0h1m8 0h1m3 0h2m16 0h1m3 0h1m7 0h1m83 0h1m16 0h2m8 0h1m17 0h1m214 0h2m5 0h1m1 0h2m3 0h1m2 0h1m69 0h1m329 0h1m-833 1h2m1 0h1m2 0h2m2 0h1m2 0h1m2 0h2m5 0h1m10 0h1m8 0h1m6 0h1m26 0h1m16 0h1m71 0h1m4 0h1m25 0h1m211 0h1m7 0h1m2 0h1m5 0h1m2 0h1m10 0h1m49 0h1m-492 1h1m7 0h1m1 0h1m3 0h1m1 0h1m6 0h2m1 0h1m11 0h1m30 0h1m137 0h1m206 0h1m6 0h2m1 0h1m3 0h1m-416 1h1m5 0h1m3 0h1m393 0h1m3 0h1m1 0h1m3 0h2m3 0h1m2 0h1m-439 1h1m9 0h1m5 0h2m2 0h2m8 0h1m9 0h1m41 0h1m334 0h1m8 0h1m1 0h1m39 0h1m-454 1h1m398 0h1m2 0h1m1 0h1m3 0h1m10 0h1m2 0h1m32 0h1m-450 1h1m90 0h1m2 0h1m306 0h1m2 0h1m1 0h1m1 0h1m1 0h1m25 0h1m-31 1h1m2 0h1m-239 1h1m222 0h1m3 0h1m8 0h1m1 0h1m1 0h1m45 0h1m-64 1h1m1 0h1m5 0h1m1 0h1m12 0h1m-20 1h1m5 0h1m-410 1h1m394 0h1m18 0h1m491 0h1m-876 1h1m370 0h1m1 0h1m1 0h1m7 0h1m-8 1h1m5 0h1m106 0h1m-110 1h1m99 1h1m3 0h1m-114 1h1m4 0h1m12 0h1m-20 1h1m10 0h1m-8 1h1m-3 2h1m7 1h1m-13 4h1m-208 12h1m211 161h1m13 0h1m1 0h1m3 0h1m6 0h1m3 0h1m3 0h1m3 0h1m3 0h1m4 0h1m4 0h1m459 0h1m-522 1h1m18 0h1m2 0h2m6 0h1m3 0h2m1 0h1m1 0h1m3 0h2m5 0h1m-33 1h1m2 0h1m5 0h2m2 0h1m6 0h1m1 0h2m1 0h2m23 0h1m69 0h1m348 0h1m-468 1h2m1 0h3m4 0h2m5 0h1m1 0h1m5 0h2m6 0h1m3 0h1m-44 1h1m7 0h1m1 0h2m5 0h1m1 0h1m5 0h1m2 0h3m2 0h1m5 0h1m2 0h1m102 0h1m53 0h1m257 0h1m-461 1h1m4 0h1m3 0h1m3 0h1m2 0h1m7 0h2m3 0h3m31 0h1m10 0h1m386 0h1m18 0h1m-491 1h1m8 0h1m7 0h6m2 0h1m1 0h1m2 0h1m3 0h1m4 0h2m1 0h2m1 0h1m5 0h1m5 0h1m431 0h1m13 0h1m11 0h1m-526 1h1m22 0h1m2 0h1m6 0h6m2 0h8m5 0h1m4 0h1m3 0h3m3 0h1m5 0h1m31 0h1m-116 1h1m5 0h1m17 0h1m10 0h1m5 0h1m3 0h2m2 0h3m4 0h2m1 0h1m8 0h1m2 0h2m2 0h1m3 0h1m12 0h1m9 0h1m370 0h1m47 0h1m-496 1h1m4 0h1m2 0h1m1 0h1m5 0h1m2 0h1m3 0h3m2 0h1m1 0h3m2 0h1m5 0h2m8 0h2m34 0h1m49 0h1m347 0h1m-490 1h1m2 0h2m4 0h1m1 0h2m5 0h2m2 0h2m1 0h1m2 0h2m3 0h2m4 0h1m4 0h1m-48 1h1m1 0h1m1 0h2m3 0h2m9 0h1m8 0h6m1 0h3m2 0h1m1 0h1m2 0h1m9 0h1m5 0h1m12 0h1m-67 1h1m5 0h1m5 0h1m2 0h1m1 0h1m1 0h2m1 0h3m4 0h1m2 0h1m4 0h1m5 0h1m2 0h1m-55 1h1m4 0h1m1 0h2m6 0h1m2 0h2m2 0h1m2 0h1m1 0h1m1 0h1m5 0h1m2 0h2m2 0h1m3 0h1m1 0h1m1 0h1m1 0h1m32 0h1m389 0h1m-488 1h1m8 0h1m17 0h2m2 0h1m1 0h1m3 0h1m2 0h3m1 0h1m2 0h1m2 0h2m3 0h1m1 0h3m2 0h1m9 0h1m20 0h1m5 0h1m407 0h1m6 0h1m19 0h1m-551 1h1m34 0h2m3 0h1m3 0h2m3 0h1m1 0h1m3 0h5m7 0h1m2 0h1m1 0h3m2 0h1m23 0h1m2 0h1m20 0h1m5 0h1m364 0h1m-459 1h2m2 0h1m3 0h1m1 0h1m5 0h5m4 0h2m1 0h1m1 0h1m4 0h2m3 0h1m6 0h1m28 0h1m33 0h1m89 0h1m225 0h1m-441 1h1m9 0h1m2 0h1m1 0h1m3 0h2m2 0h2m1 0h3m2 0h1m1 0h1m1 0h2m4 0h3m3 0h1m1 0h1m2 0h1m1 0h1m2 0h1m2 0h1m8 0h1m1 0h1m17 0h2m417 0h1m510 0h1m3 0h1m3 0h2m-1021 1h1m1 0h1m1 0h1m1 0h1m7 0h1m2 0h2m1 0h3m1 0h3m1 0h1m2 0h3m1 0h1m1 0h2m1 0h3m2 0h1m1 0h1m2 0h1m5 0h1m22 0h1m8 0h1m347 0h1m582 0h1m3 0h1m-1033 1h1m19 0h1m2 0h1m3 0h6m1 0h5m1 0h1m4 0h1m3 0h3m3 0h1m4 0h2m6 0h1m3 0h1m10 0h1m25 0h1m400 0h1m512 0h1m3 0h1m4 0h1m1 0h1m-1029 1h1m3 0h1m8 0h1m1 0h2m3 0h2m2 0h3m1 0h1m1 0h5m2 0h1m2 0h1m5 0h1m1 0h1m1 0h1m18 0h1m7 0h1m5 0h1m323 0h1m617 0h1m1 0h2m-1034 1h2m4 0h1m10 0h1m1 0h1m13 0h4m2 0h2m4 0h2m1 0h1m1 0h2m4 0h1m3 0h1m1 0h1m5 0h1m11 0h1m1 0h1m15 0h1m9 0h1m8 0h1m910 0h3m1 0h2m-1250 1h1m214 0h1m2 0h1m8 0h1m5 0h1m7 0h5m1 0h1m1 0h1m1 0h3m1 0h2m1 0h1m1 0h5m2 0h4m1 0h1m21 0h2m4 0h1m21 0h1m11 0h1m376 0h1m531 0h2m2 0h2m-1244 1h1m196 0h1m24 0h1m4 0h1m8 0h2m1 0h2m1 0h1m2 0h7m3 0h1m6 0h1m4 0h1m7 0h1m4 0h1m16 0h1m17 0h1m54 0h1m54 0h1m212 0h1m597 0h1m3 0h3m-1251 1h1m11 0h1m201 0h1m11 0h1m5 0h2m2 0h1m3 0h3m1 0h2m1 0h1m1 0h3m3 0h1m2 0h2m3 0h2m3 0h1m5 0h1m11 0h1m3 0h1m3 0h1m7 0h1m2 0h1m39 0h1m4 0h1m340 0h1m31 0h1m512 0h1m12 0h1m1 0h1m-1244 1h1m207 0h1m10 0h1m3 0h1m2 0h1m1 0h1m6 0h1m1 0h4m4 0h3m2 0h2m1 0h1m2 0h1m5 0h1m7 0h1m12 0h1m11 0h1m6 0h1m18 0h1m398 0h1m502 0h1m1 0h1m6 0h3m1 0h2m-1238 1h1m3 0h1m1 0h2m182 0h1m11 0h1m14 0h1m3 0h2m1 0h2m3 0h1m2 0h3m1 0h1m4 0h1m3 0h4m1 0h1m1 0h2m1 0h1m2 0h2m2 0h2m3 0h1m7 0h1m9 0h1m12 0h1m33 0h1m8 0h1m38 0h1m264 0h1m59 0h1m34 0h1m484 0h1m9 0h1m1 0h1m1 0h1m3 0h2m-1248 1h1m2 0h1m2 0h1m192 0h1m10 0h1m1 0h2m1 0h1m5 0h1m1 0h1m5 0h1m1 0h3m1 0h4m1 0h3m2 0h1m2 0h4m7 0h2m1 0h3m4 0h1m2 0h1m5 0h1m7 0h1m10 0h1m1 0h1m2 0h1m3 0h1m32 0h1m10 0h1m338 0h1m60 0h1m7 0h1m466 0h1m5 0h1m3 0h1m3 0h1m1 0h1m3 0h3m-1249 1h1m8 0h1m4 0h1m187 0h2m1 0h1m4 0h1m1 0h1m5 0h1m1 0h2m1 0h1m6 0h1m2 0h1m2 0h1m2 0h1m1 0h1m5 0h1m1 0h3m1 0h4m1 0h3m1 0h1m2 0h2m1 0h1m18 0h1m15 0h1m9 0h1m919 0h1m2 0h1m3 0h2m2 0h1m3 0h2m-1249 1h1m3 0h1m8 0h1m190 0h1m5 0h1m1 0h2m1 0h1m1 0h1m5 0h2m4 0h1m2 0h2m1 0h1m1 0h1m1 0h1m2 0h2m2 0h1m1 0h1m4 0h2m2 0h3m3 0h1m2 0h1m3 0h2m6 0h1m8 0h2m2 0h1m8 0h2m1 0h1m2 0h1m62 0h1m318 0h1m65 0h1m479 0h1m1 0h3m2 0h2m1 0h1m2 0h1m-1318 1h1m72 0h1m1 0h3m1 0h2m2 0h1m183 0h1m8 0h1m7 0h1m8 0h1m2 0h1m2 0h1m1 0h1m1 0h1m2 0h4m1 0h2m2 0h1m1 0h5m3 0h3m1 0h1m1 0h1m15 0h1m1 0h1m5 0h1m6 0h1m1 0h1m2 0h1m4 0h2m5 0h1m3 0h1m340 0h1m575 0h1m1 0h1m2 0h1m3 0h2m1 0h1m4 0h1m-1254 1h1m3 0h1m2 0h2m4 0h1m1 0h1m3 0h1m175 0h1m15 0h1m8 0h1m2 0h1m2 0h1m3 0h2m1 0h1m1 0h4m1 0h1m2 0h1m7 0h2m1 0h3m1 0h2m8 0h1m8 0h4m2 0h3m8 0h1m4 0h2m7 0h1m8 0h1m1 0h1m344 0h1m34 0h1m45 0h1m495 0h5m7 0h1m-1253 1h1m2 0h2m2 0h1m2 0h1m190 0h1m11 0h1m9 0h1m3 0h1m4 0h2m2 0h4m1 0h2m1 0h2m2 0h1m5 0h2m5 0h1m2 0h1m6 0h1m2 0h1m2 0h1m12 0h1m1 0h1m1 0h1m1 0h2m1 0h1m10 0h1m8 0h1m4 0h1m337 0h1m572 0h1m1 0h1m1 0h1m3 0h1m1 0h3m2 0h1m2 0h1m-1257 1h1m10 0h1m1 0h1m1 0h2m197 0h2m6 0h1m4 0h2m2 0h1m2 0h1m4 0h1m2 0h4m1 0h1m1 0h1m3 0h2m1 0h1m1 0h1m3 0h1m6 0h1m17 0h2m5 0h2m1 0h1m5 0h3m6 0h1m14 0h1m54 0h1m852 0h1m6 0h3m1 0h1m4 0h1m-1267 1h1m7 0h1m8 0h1m8 0h1m4 0h1m3 0h2m189 0h1m9 0h2m4 0h1m3 0h1m1 0h1m1 0h6m1 0h2m5 0h1m2 0h4m3 0h1m2 0h1m1 0h2m7 0h1m1 0h1m3 0h1m2 0h1m2 0h1m11 0h1m2 0h2m2 0h1m6 0h3m1 0h1m3 0h1m355 0h1m44 0h1m5 0h1m12 0h1m497 0h1m4 0h1m3 0h2m1 0h2m1 0h1m-1273 1h1m21 0h1m2 0h1m1 0h1m2 0h1m5 0h1m1 0h1m182 0h1m5 0h1m4 0h1m5 0h1m4 0h1m1 0h1m1 0h1m2 0h2m1 0h1m2 0h5m1 0h1m1 0h2m1 0h1m1 0h2m1 0h2m2 0h2m3 0h2m5 0h1m2 0h2m2 0h1m1 0h1m7 0h1m2 0h1m2 0h1m2 0h1m2 0h3m1 0h2m1 0h3m1 0h1m6 0h1m1 0h1m2 0h1m425 0h1m489 0h1m2 0h1m5 0h3m2 0h1m-1250 1h3m9 0h1m6 0h1m186 0h1m8 0h1m4 0h1m2 0h1m1 0h1m1 0h4m1 0h3m2 0h6m1 0h1m3 0h1m1 0h1m1 0h1m1 0h2m1 0h1m7 0h1m5 0h1m3 0h1m15 0h1m2 0h1m1 0h13m2 0h2m4 0h1m357 0h1m556 0h1m5 0h5m2 0h1m1 0h1m2 0h2m2 0h1m-1262 1h1m7 0h1m6 0h2m1 0h1m169 0h1m29 0h1m6 0h1m4 0h1m2 0h6m2 0h3m1 0h8m3 0h4m1 0h2m2 0h2m1 0h2m4 0h1m1 0h2m4 0h1m1 0h1m1 0h2m8 0h1m4 0h1m2 0h1m1 0h4m2 0h2m1 0h3m2 0h1m922 0h2m2 0h1m1 0h1m1 0h2m5 0h1m1 0h1m-1254 1h1m8 0h1m1 0h1m2 0h1m198 0h1m5 0h2m7 0h11m2 0h2m2 0h1m1 0h3m2 0h3m1 0h2m1 0h2m1 0h2m14 0h1m9 0h1m1 0h2m1 0h1m3 0h2m1 0h1m1 0h2m1 0h1m1 0h1m1 0h1m1 0h2m3 0h1m371 0h1m24 0h1m513 0h1m1 0h2m1 0h1m1 0h1m3 0h1m2 0h2m1 0h1m2 0h1m1 0h1m-1359 1h1m107 0h3m1 0h2m3 0h1m3 0h1m9 0h1m181 0h1m4 0h1m3 0h1m6 0h3m1 0h3m1 0h2m2 0h3m1 0h8m1 0h2m1 0h8m4 0h3m5 0h1m3 0h2m3 0h1m2 0h1m6 0h2m1 0h4m2 0h2m2 0h1m2 0h8m1 0h1m13 0h1m2 0h1m344 0h1m41 0h1m513 0h1m3 0h3m2 0h1m1 0h1m1 0h2m1 0h2m1 0h1m2 0h2m-1469 1h1m204 0h1m7 0h1m1 0h1m1 0h2m1 0h2m9 0h2m192 0h2m3 0h1m1 0h3m3 0h2m1 0h7m1 0h12m1 0h1m2 0h1m2 0h1m1 0h2m1 0h1m5 0h1m7 0h1m3 0h1m6 0h1m2 0h1m1 0h1m3 0h1m3 0h2m2 0h3m1 0h2m4 0h2m431 0h1m479 0h1m2 0h1m4 0h1m1 0h2m1 0h3m1 0h2m2 0h4m6 0h1m-1261 1h1m1 0h1m1 0h3m1 0h1m2 0h1m1 0h2m4 0h2m192 0h1m7 0h1m2 0h1m2 0h2m1 0h17m1 0h6m1 0h3m3 0h1m1 0h4m1 0h1m7 0h1m2 0h1m13 0h1m3 0h1m4 0h1m1 0h4m1 0h3m1 0h1m1 0h1m1 0h3m914 0h1m2 0h3m2 0h3m1 0h3m1 0h1m4 0h1m2 0h1m1 0h1m-1266 1h1m2 0h2m3 0h1m1 0h2m2 0h2m1 0h2m195 0h1m8 0h1m4 0h2m3 0h4m1 0h2m1 0h8m1 0h10m6 0h2m1 0h2m1 0h1m2 0h1m2 0h1m10 0h1m4 0h1m5 0h2m1 0h5m2 0h3m1 0h5m1 0h2m14 0h1m897 0h1m1 0h1m2 0h1m1 0h1m3 0h2m1 0h2m2 0h1m3 0h1m-1257 1h1m1 0h1m2 0h1m1 0h2m1 0h3m5 0h2m3 0h1m2 0h1m201 0h2m3 0h4m1 0h1m1 0h2m1 0h3m1 0h11m1 0h2m2 0h1m1 0h5m1 0h1m6 0h1m11 0h1m3 0h3m1 0h7m1 0h1m2 0h3m5 0h3m3 0h3m392 0h1m12 0h1m7 0h1m489 0h1m7 0h1m3 0h1m1 0h2m2 0h2m1 0h1m1 0h1m2 0h4m3 0h1m-1273 1h1m5 0h1m5 0h2m3 0h1m3 0h1m2 0h2m3 0h1m201 0h2m1 0h2m1 0h2m4 0h29m1 0h1m1 0h1m1 0h1m1 0h2m2 0h2m1 0h1m2 0h1m5 0h1m5 0h1m6 0h1m2 0h5m1 0h4m1 0h2m1 0h1m3 0h1m5 0h1m12 0h1m84 0h1m267 0h1m15 0h1m529 0h1m1 0h1m1 0h1m1 0h1m1 0h1m1 0h1m4 0h1m1 0h1m2 0h1m-1316 1h1m43 0h1m8 0h1m6 0h5m1 0h2m3 0h1m4 0h3m200 0h1m6 0h21m1 0h1m1 0h1m1 0h8m4 0h1m2 0h3m4 0h1m1 0h1m16 0h2m1 0h1m2 0h4m2 0h2m1 0h6m2 0h1m9 0h1m3 0h1m4 0h1m20 0h1m350 0h1m516 0h1m8 0h2m1 0h1m2 0h2m2 0h3m7 0h1m-1266 1h1m6 0h2m1 0h2m1 0h1m6 0h4m2 0h1m205 0h2m3 0h3m1 0h2m1 0h21m1 0h8m2 0h1m3 0h1m8 0h1m2 0h1m3 0h1m8 0h1m5 0h1m2 0h7m1 0h6m3 0h2m15 0h1m38 0h1m327 0h1m21 0h1m9 0h1m497 0h1m7 0h2m4 0h2m5 0h3m-1264 1h1m1 0h1m3 0h1m1 0h2m1 0h4m3 0h1m3 0h1m203 0h1m2 0h4m1 0h2m1 0h5m1 0h26m1 0h1m1 0h2m4 0h1m3 0h1m12 0h1m1 0h1m1 0h1m1 0h2m1 0h1m6 0h7m1 0h2m6 0h1m352 0h1m8 0h1m9 0h1m10 0h1m520 0h1m9 0h1m1 0h1m5 0h1m3 0h1m8 0h1m-1266 1h1m4 0h1m1 0h2m1 0h3m1 0h2m1 0h6m1 0h1m3 0h2m186 0h1m8 0h1m2 0h1m5 0h1m5 0h34m3 0h1m2 0h1m5 0h1m4 0h1m6 0h1m3 0h1m2 0h2m1 0h1m1 0h1m3 0h1m1 0h1m1 0h1m1 0h1m1 0h2m6 0h4m103 0h1m278 0h2m6 0h1m34 0h1m483 0h1m7 0h3m2 0h1m11 0h1m-1272 1h1m5 0h2m1 0h1m1 0h1m1 0h9m1 0h1m198 0h1m12 0h1m4 0h2m1 0h33m1 0h2m2 0h1m25 0h2m4 0h3m4 0h1m1 0h1m3 0h1m384 0h1m19 0h1m55 0h1m458 0h1m2 0h2m1 0h1m2 0h1m1 0h1m2 0h1m-1272 1h1m17 0h2m1 0h3m1 0h3m1 0h7m1 0h1m5 0h1m201 0h1m2 0h1m1 0h1m2 0h3m1 0h25m1 0h7m2 0h2m2 0h1m4 0h2m1 0h1m11 0h3m3 0h1m2 0h2m1 0h3m1 0h2m2 0h1m3 0h1m1 0h1m373 0h2m526 0h1m3 0h1m4 0h4m1 0h2m1 0h3m1 0h1m1 0h3m2 0h1m2 0h3m-1305 1h1m36 0h1m1 0h2m2 0h1m2 0h10m2 0h4m5 0h1m185 0h1m10 0h1m2 0h1m1 0h1m2 0h1m2 0h1m4 0h32m1 0h1m1 0h3m1 0h3m27 0h1m1 0h1m2 0h3m1 0h1m1 0h1m4 0h1m426 0h1m18 0h1m463 0h1m3 0h1m4 0h10m1 0h2m5 0h1m-1410 1h1m144 0h1m4 0h1m1 0h2m1 0h8m1 0h3m1 0h1m4 0h1m189 0h1m7 0h1m3 0h1m5 0h2m1 0h2m1 0h36m1 0h5m1 0h2m5 0h1m5 0h1m9 0h1m2 0h4m2 0h3m5 0h1m362 0h1m30 0h1m8 0h1m50 0h1m428 0h1m25 0h1m3 0h3m3 0h3m1 0h1m3 0h1m1 0h2m5 0h1m4 0h1m-1272 1h1m4 0h1m1 0h3m1 0h12m1 0h1m1 0h1m1 0h2m1 0h1m194 0h1m12 0h3m1 0h2m1 0h31m1 0h4m1 0h5m6 0h1m1 0h1m14 0h1m8 0h1m4 0h2m2 0h1m2 0h1m8 0h1m21 0h1m98 0h1m271 0h1m17 0h1m489 0h1m2 0h3m1 0h2m2 0h2m1 0h1m2 0h4m-1257 1h1m2 0h6m1 0h12m1 0h2m1 0h1m185 0h1m8 0h1m11 0h1m2 0h2m1 0h3m1 0h26m1 0h7m5 0h1m19 0h1m1 0h2m3 0h1m3 0h3m10 0h1m2 0h1m1 0h1m389 0h1m52 0h1m457 0h1m7 0h2m1 0h2m2 0h2m1 0h3m1 0h2m-1257 1h1m2 0h6m1 0h8m1 0h2m3 0h2m206 0h1m2 0h3m1 0h4m1 0h27m1 0h8m2 0h1m1 0h1m1 0h2m5 0h1m6 0h1m8 0h1m10 0h1m2 0h2m418 0h1m491 0h1m3 0h1m1 0h1m3 0h2m4 0h1m2 0h4m2 0h1m-1263 1h1m1 0h16m1 0h1m1 0h2m2 0h1m1 0h1m208 0h1m4 0h1m1 0h2m2 0h35m2 0h1m10 0h2m1 0h1m4 0h1m14 0h1m2 0h1m9 0h1m315 0h1m570 0h1m3 0h1m13 0h1m4 0h1m1 0h1m3 0h1m2 0h1m4 0h1m9 0h1m4 0h1m-1268 1h4m1 0h10m1 0h7m202 0h1m4 0h2m3 0h4m1 0h42m2 0h3m3 0h1m4 0h1m9 0h1m2 0h1m5 0h1m1 0h1m3 0h1m20 0h1m33 0h1m326 0h1m10 0h1m16 0h1m11 0h1m488 0h2m6 0h1m1 0h2m1 0h2m2 0h1m3 0h2m1 0h1m-1259 1h1m1 0h23m3 0h1m199 0h1m1 0h3m3 0h3m1 0h1m1 0h35m1 0h4m2 0h1m3 0h1m1 0h1m4 0h1m10 0h1m4 0h1m80 0h1m300 0h1m61 0h1m2 0h1m474 0h1m5 0h2m2 0h1m1 0h6m2 0h2m3 0h1m9 0h1m-1303 1h1m27 0h1m3 0h1m1 0h1m1 0h3m1 0h13m1 0h1m2 0h1m207 0h1m1 0h1m2 0h1m1 0h2m3 0h8m1 0h23m1 0h1m1 0h1m2 0h1m1 0h1m25 0h1m1 0h1m2 0h1m4 0h1m14 0h1m5 0h1m379 0h1m514 0h1m5 0h3m3 0h1m1 0h1m4 0h2m-1265 1h1m9 0h23m173 0h1m34 0h2m4 0h2m2 0h37m1 0h1m2 0h1m3 0h1m26 0h1m5 0h1m105 0h1m250 0h1m58 0h1m21 0h1m479 0h1m2 0h1m4 0h3m2 0h3m1 0h2m2 0h1m-1463 1h1m53 0h1m150 0h20m1 0h2m208 0h1m1 0h1m2 0h1m1 0h3m1 0h1m1 0h26m1 0h5m1 0h3m8 0h1m3 0h1m2 0h2m5 0h2m5 0h1m4 0h1m392 0h1m118 0h1m402 0h1m5 0h1m1 0h2m2 0h2m1 0h3m7 0h1m3 0h1m-1269 1h1m6 0h1m1 0h15m1 0h4m195 0h1m9 0h1m7 0h1m3 0h1m4 0h36m2 0h4m1 0h1m2 0h2m1 0h1m1 0h1m15 0h1m368 0h1m36 0h1m2 0h1m34 0h1m480 0h1m1 0h3m1 0h5m1 0h1m1 0h2m-1423 1h1m170 0h18m1 0h1m1 0h1m214 0h2m1 0h1m2 0h3m1 0h32m3 0h4m34 0h1m383 0h1m526 0h2m4 0h1m5 0h3m1 0h2m2 0h1m7 0h1m-1264 1h2m1 0h1m1 0h1m1 0h2m1 0h11m1 0h5m1 0h1m210 0h2m3 0h1m1 0h1m2 0h32m2 0h2m2 0h1m8 0h1m29 0h1m372 0h1m8 0h1m44 0h1m1 0h1m472 0h1m19 0h1m1 0h2m5 0h2m-1257 1h2m1 0h5m1 0h14m2 0h1m1 0h1m184 0h1m14 0h2m7 0h2m6 0h1m1 0h5m1 0h1m1 0h21m1 0h5m2 0h5m2 0h1m39 0h1m396 0h1m35 0h1m463 0h1m2 0h1m7 0h2m2 0h5m1 0h1m4 0h2m1 0h1m-1343 1h1m83 0h1m2 0h1m1 0h5m1 0h13m209 0h1m7 0h1m2 0h2m2 0h3m1 0h38m1 0h1m1 0h1m5 0h1m11 0h1m10 0h1m2 0h1m31 0h1m97 0h1m251 0h1m25 0h2m10 0h1m46 0h1m423 0h1m20 0h1m3 0h1m3 0h1m2 0h3m1 0h3m3 0h1m4 0h1m-1269 1h1m1 0h1m3 0h1m2 0h2m1 0h1m1 0h2m1 0h11m1 0h1m3 0h1m2 0h1m201 0h1m2 0h1m2 0h1m1 0h2m4 0h2m1 0h4m1 0h2m1 0h4m1 0h21m1 0h2m1 0h1m2 0h1m2 0h3m11 0h1m402 0h1m7 0h1m18 0h1m32 0h1m25 0h1m434 0h1m2 0h1m6 0h1m3 0h1m2 0h1m4 0h1m3 0h1m2 0h1m-1262 1h1m3 0h20m203 0h1m10 0h1m2 0h1m5 0h1m4 0h32m1 0h2m2 0h1m9 0h1m8 0h1m6 0h1m114 0h1m235 0h1m50 0h1m28 0h1m25 0h1m39 0h1m408 0h2m8 0h1m3 0h1m2 0h1m2 0h2m1 0h3m4 0h2m2 0h1m-1263 1h1m3 0h1m3 0h1m1 0h15m1 0h3m2 0h2m215 0h1m3 0h2m1 0h1m1 0h2m1 0h10m1 0h14m1 0h1m2 0h3m10 0h1m34 0h1m383 0h1m119 0h1m383 0h1m7 0h1m2 0h1m1 0h1m6 0h3m1 0h7m1 0h1m3 0h1m-1318 1h1m60 0h1m1 0h2m2 0h9m1 0h5m6 0h1m198 0h1m14 0h1m2 0h1m2 0h1m3 0h35m4 0h1m16 0h1m435 0h1m485 0h1m3 0h2m4 0h1m2 0h1m1 0h3m1 0h1m1 0h2m1 0h2m-1255 1h1m5 0h13m3 0h2m10 0h1m207 0h1m1 0h1m2 0h1m3 0h2m2 0h1m1 0h1m1 0h2m1 0h20m2 0h1m4 0h1m1 0h1m12 0h1m393 0h1m532 0h1m3 0h1m1 0h1m1 0h1m1 0h1m2 0h1m2 0h1m4 0h1m1 0h2m3 0h1m1 0h1m-1262 1h1m2 0h2m2 0h1m1 0h1m1 0h2m2 0h1m1 0h3m5 0h3m202 0h1m7 0h1m1 0h1m8 0h3m1 0h1m1 0h1m1 0h2m1 0h18m1 0h2m1 0h1m2 0h3m7 0h1m2 0h1m54 0h1m350 0h1m81 0h1m431 0h1m7 0h1m10 0h2m1 0h1m1 0h4m3 0h1m1 0h1m2 0h1m-1249 1h4m1 0h1m1 0h4m2 0h1m1 0h1m12 0h1m204 0h1m4 0h5m2 0h1m2 0h1m1 0h1m1 0h1m2 0h1m1 0h11m1 0h1m2 0h1m1 0h2m1 0h2m4 0h1m2 0h1m25 0h1m395 0h1m56 0h1m42 0h1m25 0h1m385 0h2m6 0h1m2 0h1m4 0h1m1 0h2m1 0h2m3 0h1m-1261 1h1m10 0h2m2 0h1m1 0h2m1 0h1m2 0h3m1 0h1m3 0h3m1 0h1m218 0h3m1 0h1m1 0h2m1 0h4m1 0h1m1 0h12m1 0h2m1 0h1m1 0h1m15 0h1m2 0h1m27 0h1m115 0h1m280 0h1m10 0h1m9 0h1m21 0h1m87 0h1m370 0h1m3 0h1m1 0h1m3 0h1m1 0h1m3 0h3m6 0h1m-1247 1h3m2 0h2m1 0h5m227 0h1m3 0h3m2 0h1m2 0h2m1 0h1m1 0h10m2 0h1m1 0h1m1 0h1m1 0h3m1 0h2m1 0h2m5 0h1m44 0h1m58 0h1m299 0h1m16 0h1m34 0h1m86 0h1m12 0h1m373 0h1m6 0h1m1 0h2m5 0h2m1 0h1m2 0h1m2 0h1m2 0h1m-1255 1h1m2 0h1m1 0h1m6 0h1m1 0h6m1 0h1m1 0h1m224 0h1m5 0h1m2 0h3m2 0h4m3 0h3m1 0h3m2 0h5m1 0h1m2 0h1m4 0h1m446 0h2m485 0h1m4 0h3m3 0h1m5 0h1m2 0h1m1 0h1m4 0h1m4 0h1m-1371 1h1m116 0h1m4 0h1m2 0h3m3 0h1m1 0h1m2 0h2m2 0h2m3 0h1m3 0h1m216 0h2m2 0h2m1 0h11m1 0h3m3 0h1m2 0h2m3 0h1m5 0h1m6 0h1m9 0h1m12 0h1m386 0h1m17 0h1m24 0h1m52 0h1m6 0h1m19 0h1m10 0h1m1 0h1m380 0h1m4 0h1m3 0h1m2 0h1m1 0h1m1 0h2m-1335 1h1m90 0h1m1 0h1m3 0h2m2 0h2m3 0h3m2 0h5m6 0h1m211 0h1m7 0h1m4 0h1m1 0h1m1 0h1m2 0h2m2 0h1m5 0h4m2 0h2m1 0h2m1 0h1m1 0h1m2 0h1m2 0h1m469 0h1m82 0h1m380 0h1m5 0h1m1 0h2m1 0h1m2 0h1m3 0h3m5 0h1m-1447 1h1m193 0h1m7 0h2m1 0h1m2 0h1m1 0h3m3 0h1m219 0h1m4 0h2m1 0h2m5 0h1m1 0h1m2 0h2m2 0h1m3 0h1m1 0h1m3 0h2m18 0h1m450 0h2m33 0h1m41 0h1m7 0h1m9 0h1m21 0h1m366 0h3m1 0h1m1 0h1m1 0h1m4 0h1m2 0h2m-1257 1h1m6 0h1m1 0h1m7 0h1m1 0h3m1 0h1m5 0h1m6 0h1m226 0h2m2 0h1m1 0h1m1 0h2m2 0h4m1 0h2m3 0h1m1 0h2m2 0h1m4 0h2m5 0h1m56 0h1m353 0h1m37 0h1m18 0h1m26 0h1m25 0h1m14 0h1m394 0h1m1 0h2m1 0h3m2 0h1m3 0h1m1 0h1m3 0h1m-1309 1h1m63 0h1m7 0h2m22 0h1m210 0h1m1 0h1m4 0h2m3 0h3m7 0h1m2 0h2m1 0h1m1 0h2m7 0h1m5 0h2m38 0h1m383 0h1m102 0h1m411 0h1m2 0h1m1 0h5m2 0h1m-1243 1h1m3 0h1m11 0h2m4 0h1m4 0h1m1 0h1m9 0h1m212 0h2m13 0h1m2 0h3m2 0h1m2 0h1m1 0h1m4 0h1m3 0h1m1 0h1m71 0h1m371 0h1m5 0h1m39 0h1m30 0h1m23 0h1m394 0h4m1 0h1m2 0h1m6 0h2m-1290 1h1m30 0h1m4 0h1m1 0h1m8 0h1m7 0h1m2 0h2m3 0h1m8 0h1m1 0h1m203 0h2m7 0h1m7 0h4m3 0h2m2 0h1m1 0h1m2 0h2m1 0h3m1 0h1m2 0h1m1 0h2m2 0h2m3 0h1m4 0h1m125 0h1m286 0h1m31 0h1m74 0h1m12 0h1m1 0h1m2 0h1m13 0h1m372 0h1m7 0h1m2 0h2m2 0h1m1 0h2m1 0h1m-1234 1h1m3 0h1m1 0h1m2 0h2m6 0h1m9 0h1m5 0h1m196 0h1m16 0h1m3 0h1m1 0h1m9 0h2m1 0h4m8 0h2m4 0h1m3 0h1m402 0h1m23 0h2m7 0h1m13 0h1m13 0h2m44 0h1m8 0h1m3 0h1m400 0h1m4 0h1m12 0h2m3 0h1m-1338 1h1m96 0h1m6 0h1m7 0h2m3 0h1m212 0h1m4 0h1m6 0h1m14 0h2m2 0h1m1 0h2m3 0h1m1 0h4m1 0h1m9 0h2m3 0h1m3 0h1m145 0h1m265 0h1m8 0h1m17 0h1m23 0h1m60 0h1m5 0h1m10 0h1m375 0h1m16 0h1m-1225 1h1m1 0h1m1 0h1m6 0h3m5 0h1m180 0h1m47 0h1m3 0h1m4 0h1m4 0h1m3 0h1m13 0h1m3 0h2m404 0h1m46 0h1m66 0h1m9 0h1m22 0h1m369 0h1m15 0h1m3 0h1m5 0h1m-1425 1h1m116 0h1m62 0h1m2 0h1m3 0h1m1 0h2m7 0h1m1 0h1m1 0h2m2 0h1m1 0h1m215 0h1m12 0h1m3 0h1m5 0h1m6 0h2m6 0h1m2 0h1m2 0h1m5 0h1m13 0h1m431 0h2m20 0h1m6 0h1m3 0h1m53 0h1m405 0h1m2 0h1m3 0h1m1 0h1m11 0h1m-1253 1h1m4 0h2m10 0h1m1 0h1m3 0h1m2 0h1m4 0h1m215 0h1m4 0h1m11 0h1m2 0h1m2 0h1m6 0h1m7 0h1m4 0h1m1 0h1m7 0h1m366 0h1m48 0h1m3 0h1m1 0h1m19 0h1m5 0h2m6 0h1m38 0h1m7 0h1m14 0h1m5 0h1m9 0h1m14 0h1m378 0h1m8 0h2m4 0h1m-1243 1h1m9 0h1m3 0h2m2 0h1m5 0h2m218 0h1m6 0h1m12 0h2m2 0h1m3 0h1m4 0h1m81 0h1m318 0h1m24 0h1m8 0h1m17 0h1m4 0h1m2 0h1m1 0h1m6 0h1m16 0h1m33 0h1m3 0h1m3 0h1m14 0h1m20 0h1m8 0h1m374 0h1m-1333 1h1m101 0h1m6 0h1m2 0h1m1 0h1m3 0h1m1 0h3m1 0h3m11 0h1m6 0h1m218 0h1m1 0h1m10 0h1m421 0h1m17 0h1m9 0h1m4 0h1m4 0h1m28 0h2m2 0h1m19 0h1m26 0h1m1 0h1m8 0h1m8 0h1m10 0h1m387 0h1m6 0h1m18 0h1m-1261 1h1m5 0h1m2 0h4m2 0h2m4 0h3m2 0h2m1 0h1m23 0h1m195 0h1m2 0h1m4 0h1m6 0h1m1 0h1m424 0h1m10 0h1m2 0h1m24 0h1m4 0h1m4 0h2m2 0h1m39 0h1m47 0h1m1 0h1m7 0h1m398 0h1m-1311 1h1m47 0h1m22 0h1m6 0h1m1 0h1m3 0h2m2 0h2m3 0h1m1 0h1m4 0h1m2 0h1m214 0h1m19 0h1m438 0h1m4 0h1m2 0h1m6 0h1m7 0h1m3 0h2m5 0h2m1 0h1m10 0h1m4 0h1m4 0h1m14 0h2m28 0h1m22 0h1m2 0h1m398 0h1m8 0h1m2 0h1m2 0h1m1 0h1m-1255 1h1m5 0h1m6 0h1m6 0h2m2 0h2m248 0h1m15 0h1m415 0h1m6 0h1m20 0h1m5 0h2m1 0h1m4 0h1m2 0h1m16 0h1m2 0h1m9 0h1m2 0h1m6 0h1m2 0h1m25 0h1m9 0h1m3 0h1m1 0h1m15 0h1m366 0h1m20 0h1m8 0h1m4 0h1m-1349 1h1m103 0h1m4 0h1m3 0h2m1 0h3m14 0h1m203 0h1m11 0h1m1 0h1m6 0h1m2 0h1m2 0h3m2 0h1m1 0h2m8 0h1m3 0h1m2 0h1m5 0h1m400 0h1m12 0h1m2 0h1m1 0h1m3 0h1m6 0h4m3 0h1m12 0h1m22 0h1m2 0h1m1 0h1m13 0h1m3 0h1m14 0h1m13 0h2m1 0h2m9 0h1m407 0h1m7 0h1m1 0h1m-1266 1h1m22 0h1m1 0h1m2 0h1m1 0h2m7 0h1m3 0h1m1 0h1m219 0h1m6 0h1m1 0h2m3 0h1m2 0h2m3 0h1m1 0h2m429 0h1m6 0h1m6 0h1m4 0h1m6 0h1m2 0h1m2 0h1m3 0h1m3 0h1m1 0h2m2 0h2m7 0h1m9 0h1m22 0h1m7 0h1m8 0h1m15 0h1m1 0h1m1 0h1m3 0h1m391 0h1m-1363 1h1m134 0h1m4 0h1m4 0h4m5 0h2m2 0h2m206 0h1m8 0h1m4 0h1m3 0h1m1 0h1m1 0h1m1 0h1m4 0h1m1 0h3m2 0h1m2 0h2m6 0h1m23 0h1m358 0h1m35 0h1m26 0h1m6 0h1m6 0h1m1 0h1m2 0h1m1 0h2m1 0h1m3 0h1m3 0h2m7 0h1m12 0h1m9 0h1m24 0h1m9 0h2m1 0h1m29 0h1m358 0h1m21 0h1m-1346 1h1m115 0h1m2 0h1m1 0h1m1 0h1m1 0h1m225 0h1m1 0h1m1 0h1m2 0h4m4 0h2m2 0h1m2 0h1m1 0h1m4 0h2m1 0h1m5 0h1m33 0h1m368 0h1m9 0h1m7 0h1m9 0h1m5 0h1m1 0h1m3 0h1m6 0h2m4 0h1m1 0h1m2 0h1m2 0h1m5 0h1m2 0h1m1 0h1m4 0h1m2 0h1m5 0h2m19 0h1m5 0h1m6 0h1m4 0h1m6 0h1m8 0h1m2 0h1m3 0h2m1 0h1m1 0h1m369 0h1m30 0h1m17 0h1m-1353 1h1m18 0h1m81 0h2m3 0h3m1 0h1m3 0h2m9 0h1m218 0h1m8 0h2m1 0h1m2 0h1m1 0h1m1 0h2m1 0h3m2 0h1m1 0h1m401 0h1m1 0h1m4 0h1m4 0h1m17 0h2m1 0h2m3 0h1m1 0h1m1 0h1m4 0h1m3 0h1m4 0h1m7 0h1m6 0h1m2 0h1m2 0h1m29 0h1m1 0h1m10 0h1m14 0h1m7 0h1m1 0h1m18 0h2m388 0h1m3 0h1m10 0h1m-1445 1h1m100 0h1m25 0h1m40 0h1m18 0h1m14 0h1m1 0h3m6 0h2m3 0h1m1 0h2m1 0h1m221 0h1m3 0h2m1 0h3m1 0h1m1 0h1m5 0h1m2 0h3m4 0h1m365 0h1m34 0h1m11 0h1m6 0h1m4 0h1m2 0h1m12 0h1m1 0h1m4 0h2m2 0h1m2 0h1m7 0h1m1 0h6m10 0h2m1 0h1m1 0h1m6 0h1m3 0h1m4 0h2m21 0h2m4 0h1m4 0h1m1 0h1m4 0h1m9 0h1m3 0h1m3 0h1m11 0h1m9 0h1m370 0h1m21 0h1m-1272 1h1m24 0h3m1 0h1m5 0h1m1 0h1m1 0h1m6 0h1m3 0h1m214 0h1m5 0h1m3 0h1m4 0h1m1 0h1m2 0h3m1 0h2m1 0h1m4 0h1m1 0h1m10 0h1m368 0h1m20 0h1m9 0h1m7 0h1m3 0h1m3 0h1m2 0h1m5 0h1m3 0h1m4 0h2m3 0h1m1 0h1m1 0h1m1 0h1m2 0h1m2 0h2m3 0h1m8 0h1m7 0h1m2 0h2m2 0h1m6 0h1m2 0h1m21 0h1m1 0h1m2 0h1m1 0h1m4 0h2m6 0h3m4 0h2m386 0h1m3 0h1m11 0h1m13 0h2m-1307 1h1m29 0h1m11 0h1m5 0h1m14 0h5m1 0h2m1 0h2m2 0h1m1 0h1m3 0h1m215 0h1m2 0h1m5 0h1m1 0h1m2 0h1m2 0h2m1 0h1m2 0h2m1 0h3m1 0h3m1 0h1m7 0h1m359 0h1m29 0h1m3 0h1m2 0h1m4 0h1m1 0h1m3 0h1m8 0h2m2 0h1m2 0h1m6 0h1m2 0h1m1 0h1m1 0h1m8 0h2m3 0h1m4 0h2m6 0h5m15 0h1m1 0h1m4 0h1m23 0h1m1 0h2m10 0h2m3 0h1m2 0h2m2 0h1m5 0h1m4 0h1m10 0h2m1 0h1m3 0h1m358 0h1m15 0h1m24 0h2m-1260 1h1m4 0h1m5 0h1m3 0h2m1 0h2m2 0h1m221 0h1m7 0h2m2 0h3m1 0h1m4 0h2m3 0h1m4 0h2m1 0h2m72 0h1m298 0h1m7 0h1m22 0h1m15 0h1m7 0h1m2 0h1m2 0h2m2 0h1m2 0h1m2 0h1m9 0h3m5 0h2m7 0h1m1 0h1m3 0h2m2 0h2m1 0h1m1 0h1m1 0h1m2 0h1m2 0h1m7 0h2m1 0h1m10 0h1m14 0h1m2 0h1m7 0h1m1 0h1m2 0h1m4 0h2m1 0h1m4 0h1m8 0h1m377 0h1m4 0h1m12 0h1m17 0h1m-1327 1h1m32 0h1m5 0h1m31 0h2m7 0h3m2 0h4m17 0h1m201 0h2m5 0h1m1 0h1m3 0h1m3 0h4m1 0h2m1 0h1m1 0h1m1 0h2m388 0h1m15 0h1m8 0h1m3 0h1m7 0h1m1 0h2m3 0h1m3 0h1m1 0h2m3 0h1m1 0h1m2 0h2m1 0h4m5 0h6m3 0h3m3 0h2m3 0h1m2 0h3m3 0h1m1 0h1m4 0h2m5 0h1m9 0h1m15 0h1m10 0h1m1 0h1m3 0h2m5 0h1m2 0h1m7 0h2m6 0h1m12 0h1m367 0h1m11 0h1m7 0h1m-1287 1h1m1 0h1m2 0h1m6 0h1m13 0h1m4 0h1m7 0h1m5 0h3m1 0h1m1 0h1m2 0h1m6 0h1m231 0h1m2 0h2m1 0h1m2 0h1m2 0h1m2 0h2m1 0h1m4 0h1m5 0h1m15 0h1m378 0h1m8 0h1m4 0h1m4 0h2m3 0h1m1 0h1m7 0h1m1 0h3m1 0h4m1 0h2m2 0h2m3 0h2m2 0h2m1 0h1m3 0h3m3 0h1m1 0h1m2 0h4m1 0h1m1 0h2m1 0h1m1 0h2m6 0h1m1 0h1m26 0h1m2 0h1m4 0h2m1 0h1m1 0h1m1 0h1m1 0h4m2 0h1m1 0h2m3 0h2m5 0h2m378 0h1m4 0h1m18 0h1m2 0h1m8 0h1m2 0h1m6 0h1m8 0h1m-1437 1h1m54 0h1m80 0h1m1 0h1m22 0h1m7 0h2m2 0h1m1 0h1m1 0h2m2 0h3m1 0h1m2 0h2m1 0h1m11 0h1m182 0h1m26 0h3m4 0h1m3 0h2m4 0h1m1 0h1m1 0h2m3 0h2m6 0h1m404 0h1m5 0h3m1 0h1m1 0h1m3 0h1m1 0h3m1 0h1m2 0h3m1 0h1m3 0h2m3 0h1m1 0h3m1 0h4m2 0h1m2 0h2m2 0h2m1 0h2m5 0h2m1 0h2m2 0h1m1 0h1m3 0h3m10 0h1m29 0h1m1 0h1m1 0h2m2 0h4m2 0h2m8 0h4m5 0h2m362 0h1m10 0h1m9 0h1m3 0h1m2 0h1m14 0h1m4 0h1m14 0h1m-1310 1h1m8 0h1m28 0h1m5 0h1m1 0h1m3 0h2m3 0h1m1 0h1m1 0h4m216 0h1m6 0h1m11 0h2m1 0h2m1 0h1m12 0h4m385 0h1m8 0h2m12 0h1m4 0h1m1 0h2m1 0h1m3 0h1m4 0h4m1 0h2m1 0h2m4 0h2m1 0h2m1 0h2m1 0h7m1 0h2m2 0h2m1 0h3m1 0h7m6 0h1m6 0h1m2 0h2m8 0h1m15 0h1m2 0h1m3 0h1m2 0h1m2 0h1m2 0h2m1 0h1m3 0h1m1 0h2m1 0h1m3 0h1m2 0h2m1 0h1m8 0h1m2 0h1m358 0h1m11 0h1m13 0h1m6 0h1m3 0h1m10 0h1m-1415 1h1m111 0h1m7 0h1m2 0h1m3 0h2m21 0h1m5 0h1m3 0h1m3 0h3m3 0h4m22 0h1m203 0h1m2 0h2m4 0h2m2 0h1m2 0h2m1 0h1m3 0h2m16 0h1m380 0h1m1 0h1m5 0h1m1 0h3m3 0h1m4 0h1m1 0h1m1 0h2m3 0h1m4 0h1m2 0h1m1 0h2m6 0h2m3 0h2m1 0h1m1 0h1m1 0h7m1 0h1m2 0h5m1 0h1m1 0h5m1 0h2m1 0h1m1 0h2m1 0h1m3 0h1m3 0h1m1 0h1m15 0h1m12 0h1m2 0h1m4 0h1m5 0h4m3 0h2m2 0h4m2 0h3m1 0h1m6 0h1m7 0h1m15 0h1m340 0h1m16 0h1m2 0h1m22 0h1m25 0h1m-1354 1h1m12 0h1m15 0h1m3 0h1m12 0h1m5 0h1m4 0h1m16 0h1m4 0h1m2 0h1m1 0h1m1 0h1m1 0h1m1 0h6m4 0h1m3 0h1m213 0h1m11 0h1m2 0h1m1 0h2m1 0h4m1 0h3m1 0h1m1 0h1m377 0h1m38 0h1m8 0h1m5 0h1m2 0h1m1 0h2m3 0h2m1 0h2m1 0h9m1 0h4m1 0h1m1 0h4m1 0h1m1 0h3m1 0h3m1 0h1m1 0h4m1 0h2m2 0h1m1 0h2m4 0h1m1 0h1m1 0h1m22 0h1m6 0h1m2 0h1m2 0h2m1 0h1m1 0h2m2 0h1m2 0h1m2 0h2m1 0h1m2 0h3m2 0h1m14 0h1m3 0h1m364 0h1m7 0h2m7 0h1m7 0h1m6 0h1m4 0h1m9 0h1m-1434 1h1m17 0h1m101 0h1m6 0h1m2 0h1m8 0h1m2 0h2m3 0h1m20 0h2m4 0h1m1 0h1m2 0h1m1 0h1m2 0h1m3 0h1m226 0h1m3 0h1m9 0h3m1 0h1m3 0h1m1 0h1m3 0h1m2 0h1m388 0h2m13 0h1m3 0h1m1 0h1m8 0h2m3 0h1m3 0h4m1 0h3m1 0h10m1 0h4m1 0h2m1 0h5m1 0h5m1 0h3m1 0h1m6 0h3m1 0h3m7 0h2m4 0h3m1 0h1m12 0h1m8 0h1m2 0h1m2 0h1m2 0h1m3 0h6m2 0h1m1 0h1m1 0h1m1 0h1m3 0h1m1 0h2m3 0h1m5 0h1m375 0h1m11 0h1m12 0h1m-1297 1h1m2 0h1m11 0h1m4 0h1m33 0h4m4 0h3m1 0h1m2 0h1m2 0h1m27 0h1m203 0h2m1 0h1m1 0h1m2 0h1m1 0h2m6 0h1m371 0h1m24 0h1m8 0h1m8 0h1m1 0h1m1 0h2m4 0h1m1 0h2m2 0h1m1 0h17m1 0h2m1 0h22m1 0h5m1 0h2m4 0h5m1 0h1m1 0h1m3 0h1m5 0h1m1 0h3m1 0h1m1 0h1m2 0h1m2 0h1m1 0h1m7 0h2m1 0h1m2 0h1m2 0h9m1 0h2m1 0h2m1 0h3m4 0h2m4 0h2m5 0h1m361 0h1m4 0h1m14 0h2m8 0h1m1 0h1m10 0h1m-1387 1h1m37 0h1m6 0h1m7 0h1m23 0h1m1 0h1m7 0h1m4 0h1m2 0h1m4 0h1m1 0h1m32 0h2m1 0h1m1 0h3m5 0h2m1 0h1m223 0h1m7 0h1m3 0h2m1 0h1m1 0h1m3 0h3m2 0h1m1 0h1m1 0h1m3 0h1m1 0h1m396 0h1m2 0h3m2 0h1m1 0h2m3 0h2m1 0h3m3 0h20m1 0h24m1 0h9m1 0h1m1 0h5m1 0h2m1 0h1m1 0h1m2 0h2m4 0h1m11 0h1m1 0h1m2 0h1m13 0h4m2 0h1m1 0h1m1 0h1m1 0h2m1 0h1m1 0h3m6 0h2m23 0h1m349 0h1m32 0h1m-1334 1h1m25 0h1m4 0h1m4 0h1m1 0h1m7 0h1m1 0h2m4 0h1m1 0h2m29 0h1m7 0h1m1 0h3m1 0h1m2 0h1m3 0h1m1 0h3m1 0h1m224 0h3m3 0h4m2 0h2m2 0h2m2 0h1m2 0h1m395 0h2m3 0h1m4 0h1m3 0h2m4 0h1m2 0h1m1 0h3m3 0h1m1 0h4m1 0h3m1 0h18m1 0h11m1 0h3m1 0h7m1 0h9m1 0h1m1 0h1m2 0h2m1 0h3m3 0h3m9 0h1m3 0h2m3 0h1m9 0h1m1 0h1m1 0h5m1 0h3m1 0h1m1 0h1m2 0h2m2 0h1m2 0h1m13 0h1m372 0h1m3 0h1m15 0h1m-1377 1h1m11 0h1m4 0h1m47 0h1m4 0h2m18 0h1m2 0h2m4 0h1m1 0h1m3 0h1m3 0h1m3 0h1m21 0h1m2 0h1m3 0h2m1 0h6m1 0h1m2 0h1m1 0h2m212 0h1m4 0h1m6 0h1m2 0h1m2 0h3m2 0h1m2 0h1m1 0h1m5 0h1m2 0h1m3 0h1m373 0h1m7 0h1m9 0h1m1 0h1m10 0h1m3 0h2m5 0h4m1 0h58m1 0h1m1 0h3m3 0h7m1 0h1m4 0h1m16 0h1m5 0h1m2 0h2m5 0h2m1 0h8m3 0h3m1 0h1m1 0h1m2 0h1m6 0h2m369 0h2m1 0h1m12 0h1m3 0h2m7 0h1m2 0h1m14 0h1m-1346 1h1m33 0h1m7 0h2m6 0h1m1 0h1m1 0h1m3 0h1m4 0h2m5 0h1m12 0h2m3 0h1m1 0h1m2 0h3m2 0h2m2 0h1m3 0h1m2 0h1m12 0h1m216 0h1m1 0h1m1 0h3m2 0h2m2 0h1m1 0h1m4 0h2m1 0h1m3 0h1m1 0h1m367 0h1m3 0h1m18 0h1m1 0h1m1 0h1m4 0h1m1 0h3m1 0h4m4 0h2m1 0h1m1 0h4m1 0h36m1 0h6m1 0h10m1 0h4m2 0h1m3 0h4m3 0h1m1 0h1m15 0h2m2 0h3m6 0h1m1 0h5m1 0h10m3 0h1m2 0h1m3 0h1m1 0h2m2 0h1m16 0h1m358 0h1m5 0h2m1 0h1m1 0h1m1 0h4m8 0h1m8 0h1m8 0h1m-1350 1h1m27 0h1m17 0h1m1 0h2m3 0h1m5 0h2m4 0h1m2 0h1m1 0h1m14 0h1m4 0h1m1 0h1m5 0h1m2 0h1m1 0h1m5 0h1m1 0h1m222 0h1m3 0h2m1 0h2m2 0h2m1 0h3m3 0h3m3 0h1m1 0h1m373 0h1m9 0h1m4 0h1m5 0h1m3 0h1m5 0h1m1 0h1m3 0h2m2 0h1m1 0h1m2 0h3m1 0h58m1 0h6m1 0h1m1 0h4m9 0h1m5 0h1m1 0h1m2 0h1m8 0h1m1 0h1m5 0h1m2 0h4m2 0h6m3 0h2m1 0h2m1 0h1m6 0h1m376 0h1m8 0h1m9 0h3m1 0h1m2 0h1m11 0h1m-1454 1h1m52 0h1m83 0h1m12 0h1m1 0h1m1 0h1m3 0h2m5 0h1m2 0h1m5 0h1m20 0h1m1 0h2m4 0h1m2 0h3m1 0h2m232 0h1m1 0h1m2 0h1m2 0h1m1 0h4m1 0h1m3 0h1m2 0h1m1 0h1m1 0h1m2 0h1m1 0h2m392 0h1m4 0h1m4 0h1m2 0h3m2 0h2m2 0h23m1 0h50m3 0h2m2 0h1m3 0h1m4 0h1m1 0h1m3 0h1m7 0h1m1 0h1m1 0h1m3 0h1m6 0h6m1 0h3m1 0h3m4 0h3m2 0h1m5 0h1m2 0h1m359 0h1m15 0h1m3 0h1m14 0h1m5 0h1m24 0h1m-1344 1h1m11 0h1m5 0h1m1 0h1m6 0h2m1 0h1m2 0h1m13 0h1m13 0h1m3 0h1m9 0h1m4 0h2m3 0h2m2 0h2m2 0h1m2 0h2m212 0h1m12 0h1m2 0h4m1 0h2m2 0h1m5 0h1m5 0h2m47 0h1m333 0h1m24 0h1m1 0h2m1 0h1m1 0h2m2 0h7m1 0h19m1 0h51m4 0h1m1 0h1m2 0h1m3 0h1m12 0h2m1 0h1m1 0h1m4 0h8m2 0h1m2 0h7m2 0h1m1 0h2m2 0h2m379 0h1m1 0h1m10 0h1m12 0h1m1 0h3m2 0h3m3 0h1m-1362 1h1m45 0h1m4 0h1m4 0h2m2 0h1m3 0h1m14 0h2m2 0h1m13 0h1m2 0h1m1 0h1m3 0h1m6 0h1m5 0h2m3 0h1m2 0h1m9 0h1m211 0h1m7 0h4m2 0h1m1 0h2m2 0h2m1 0h1m1 0h3m6 0h1m2 0h1m373 0h1m16 0h2m1 0h1m2 0h1m6 0h7m1 0h9m1 0h11m1 0h35m1 0h10m1 0h3m1 0h12m13 0h1m1 0h2m2 0h1m3 0h2m3 0h4m1 0h2m1 0h1m1 0h2m1 0h6m1 0h3m4 0h2m5 0h1m364 0h1m10 0h1m8 0h1m1 0h2m8 0h1m3 0h3m1 0h1m1 0h2m2 0h1m3 0h1m2 0h1m-1392 1h3m46 0h1m11 0h1m4 0h1m6 0h1m5 0h1m18 0h1m10 0h1m2 0h1m17 0h1m2 0h1m2 0h1m2 0h1m1 0h2m1 0h2m6 0h2m1 0h1m1 0h1m1 0h1m207 0h1m4 0h1m10 0h1m1 0h2m2 0h2m2 0h5m1 0h1m5 0h2m376 0h1m10 0h1m3 0h1m7 0h1m3 0h2m1 0h2m1 0h5m5 0h5m1 0h4m1 0h1m1 0h60m2 0h3m2 0h4m4 0h1m2 0h1m9 0h2m2 0h3m5 0h8m1 0h8m1 0h1m1 0h1m1 0h1m1 0h1m1 0h1m1 0h1m4 0h1m3 0h1m362 0h1m6 0h1m3 0h1m4 0h2m11 0h2m5 0h1m6 0h1m4 0h1m2 0h1m1 0h2m-1323 1h1m7 0h4m2 0h1m1 0h4m4 0h1m3 0h1m8 0h1m9 0h1m7 0h1m4 0h3m7 0h1m1 0h1m1 0h1m1 0h4m234 0h1m2 0h1m1 0h3m2 0h1m1 0h2m2 0h1m1 0h1m4 0h1m358 0h1m29 0h1m10 0h1m6 0h1m6 0h3m2 0h1m2 0h3m1 0h58m1 0h10m2 0h2m1 0h2m2 0h3m3 0h1m1 0h2m3 0h2m2 0h1m2 0h2m1 0h1m1 0h20m1 0h5m1 0h1m3 0h1m4 0h1m2 0h1m371 0h1m3 0h1m7 0h1m2 0h1m5 0h1m1 0h4m1 0h1m5 0h1m-1381 1h1m17 0h1m44 0h1m1 0h3m2 0h1m1 0h1m2 0h1m2 0h2m3 0h1m1 0h1m4 0h1m2 0h2m13 0h1m4 0h1m4 0h1m2 0h1m14 0h1m2 0h2m1 0h2m5 0h1m3 0h1m9 0h1m12 0h1m196 0h1m8 0h1m1 0h1m1 0h1m5 0h3m1 0h2m1 0h1m3 0h2m2 0h1m367 0h1m16 0h2m16 0h2m1 0h3m1 0h4m1 0h10m2 0h52m1 0h1m1 0h9m1 0h3m1 0h1m3 0h1m2 0h1m1 0h1m3 0h1m2 0h1m3 0h2m5 0h2m1 0h1m2 0h10m1 0h7m1 0h2m2 0h1m1 0h3m15 0h1m362 0h1m14 0h1m1 0h2m1 0h1m10 0h3m4 0h1m3 0h1m4 0h1m7 0h1m-1417 1h1m29 0h1m26 0h1m26 0h1m7 0h3m7 0h1m6 0h1m13 0h1m1 0h1m27 0h1m3 0h1m1 0h1m1 0h1m1 0h3m14 0h1m218 0h1m2 0h1m2 0h1m2 0h8m1 0h1m1 0h2m1 0h1m7 0h1m337 0h1m20 0h1m10 0h1m10 0h1m11 0h2m5 0h3m2 0h3m1 0h7m1 0h2m1 0h8m1 0h2m1 0h53m4 0h4m2 0h1m1 0h1m10 0h1m1 0h1m1 0h2m4 0h1m1 0h1m1 0h1m2 0h21m1 0h6m2 0h1m1 0h1m4 0h1m374 0h1m9 0h2m4 0h1m1 0h1m1 0h1m6 0h1m13 0h1m2 0h1m-1390 1h1m66 0h1m1 0h1m10 0h1m4 0h2m1 0h1m2 0h1m3 0h1m3 0h1m1 0h2m4 0h1m3 0h1m9 0h1m8 0h1m2 0h1m5 0h1m1 0h1m1 0h1m2 0h1m3 0h1m5 0h1m15 0h1m197 0h1m2 0h3m2 0h1m4 0h1m3 0h1m3 0h1m1 0h4m1 0h1m3 0h1m9 0h1m383 0h2m9 0h2m2 0h2m1 0h5m1 0h5m2 0h18m1 0h28m1 0h14m1 0h6m1 0h4m1 0h1m2 0h1m4 0h1m1 0h1m2 0h3m7 0h1m2 0h1m1 0h15m1 0h12m3 0h1m3 0h1m4 0h1m2 0h1m366 0h1m4 0h3m5 0h3m3 0h1m2 0h2m1 0h1m7 0h2m4 0h2m2 0h1m5 0h1m4 0h1m-1335 1h1m8 0h1m8 0h1m3 0h1m2 0h1m4 0h1m9 0h1m2 0h1m4 0h1m2 0h1m8 0h1m2 0h1m3 0h1m1 0h1m2 0h2m1 0h1m2 0h1m4 0h1m3 0h1m2 0h1m1 0h1m11 0h1m214 0h3m4 0h4m3 0h1m1 0h1m2 0h1m1 0h1m1 0h1m2 0h1m6 0h1m370 0h1m3 0h1m9 0h1m3 0h1m2 0h1m3 0h1m1 0h1m1 0h1m2 0h1m1 0h1m1 0h1m1 0h2m1 0h2m1 0h2m1 0h5m1 0h39m1 0h7m1 0h12m1 0h3m2 0h1m2 0h1m3 0h2m1 0h1m9 0h1m1 0h3m1 0h2m1 0h5m1 0h7m1 0h1m1 0h6m2 0h1m1 0h4m3 0h4m3 0h1m366 0h1m14 0h1m2 0h1m2 0h1m2 0h1m4 0h1m4 0h1m5 0h1m2 0h1m9 0h1m-1355 1h1m29 0h1m3 0h1m3 0h1m2 0h1m3 0h1m6 0h1m1 0h2m11 0h1m2 0h1m7 0h1m9 0h1m2 0h1m2 0h1m4 0h1m1 0h1m1 0h1m3 0h1m1 0h1m1 0h2m11 0h1m212 0h1m6 0h1m6 0h3m2 0h2m2 0h2m2 0h1m4 0h1m5 0h1m32 0h1m26 0h1m315 0h1m6 0h1m1 0h1m13 0h3m1 0h2m2 0h1m3 0h1m1 0h2m1 0h48m1 0h17m1 0h4m4 0h1m1 0h2m5 0h1m5 0h1m1 0h1m4 0h1m1 0h2m1 0h1m2 0h17m2 0h5m1 0h1m3 0h1m3 0h1m366 0h1m14 0h2m5 0h1m3 0h1m9 0h1m2 0h2m6 0h1m2 0h1m-1343 1h1m12 0h1m4 0h1m6 0h1m5 0h1m1 0h1m2 0h1m5 0h2m2 0h1m15 0h1m1 0h1m5 0h1m9 0h1m4 0h1m6 0h1m4 0h1m2 0h2m4 0h1m1 0h1m3 0h1m225 0h3m3 0h2m1 0h2m2 0h7m2 0h1m5 0h1m38 0h1m355 0h1m6 0h1m2 0h3m2 0h1m3 0h1m1 0h2m1 0h1m1 0h2m2 0h25m1 0h9m1 0h8m1 0h1m1 0h3m1 0h7m2 0h1m2 0h2m1 0h3m2 0h1m1 0h1m7 0h1m6 0h1m2 0h1m1 0h2m2 0h1m1 0h1m1 0h2m1 0h9m1 0h12m1 0h4m2 0h1m5 0h1m370 0h1m2 0h1m3 0h1m1 0h3m6 0h2m2 0h2m5 0h1m7 0h2m10 0h1m1 0h1m-1388 1h1m47 0h2m10 0h1m3 0h1m5 0h1m12 0h1m1 0h1m7 0h1m1 0h1m2 0h1m4 0h1m3 0h1m16 0h1m3 0h5m1 0h1m6 0h1m2 0h1m4 0h1m21 0h1m192 0h1m8 0h1m3 0h2m1 0h3m1 0h2m2 0h6m6 0h1m371 0h1m9 0h1m10 0h1m2 0h2m2 0h2m5 0h1m1 0h2m3 0h1m2 0h1m1 0h3m2 0h17m1 0h32m1 0h4m5 0h1m2 0h1m3 0h2m5 0h1m1 0h1m5 0h3m6 0h1m1 0h2m1 0h2m1 0h3m1 0h19m1 0h3m3 0h2m1 0h2m6 0h1m1 0h1m371 0h1m23 0h2m7 0h1m10 0h1m2 0h1m-1362 1h1m16 0h2m3 0h1m2 0h1m3 0h1m4 0h1m5 0h1m7 0h1m4 0h1m6 0h5m1 0h1m1 0h1m1 0h1m10 0h1m2 0h1m16 0h1m1 0h1m4 0h1m3 0h1m13 0h1m5 0h1m23 0h1m185 0h1m3 0h3m1 0h1m3 0h3m1 0h1m2 0h1m3 0h1m2 0h1m1 0h1m8 0h1m3 0h1m67 0h1m24 0h1m277 0h2m5 0h1m1 0h1m3 0h1m3 0h1m2 0h1m1 0h2m4 0h1m3 0h2m1 0h1m1 0h2m4 0h1m2 0h13m2 0h3m1 0h2m1 0h11m1 0h10m2 0h12m3 0h2m5 0h1m1 0h1m2 0h1m1 0h1m6 0h1m6 0h2m1 0h2m2 0h2m1 0h4m1 0h12m1 0h2m1 0h4m2 0h1m1 0h1m2 0h1m1 0h2m1 0h2m4 0h1m2 0h2m6 0h1m356 0h1m13 0h1m3 0h1m5 0h1m2 0h1m22 0h1m5 0h1m-1424 1h1m47 0h1m33 0h1m11 0h1m1 0h1m6 0h1m2 0h1m3 0h1m2 0h1m1 0h2m5 0h1m6 0h1m8 0h2m4 0h1m1 0h1m1 0h1m7 0h1m4 0h2m16 0h1m2 0h1m5 0h1m210 0h1m1 0h1m4 0h1m2 0h5m1 0h5m1 0h1m5 0h1m1 0h1m1 0h1m1 0h1m13 0h1m357 0h1m7 0h1m7 0h1m11 0h1m1 0h2m8 0h1m1 0h2m1 0h1m1 0h1m1 0h2m1 0h7m1 0h6m1 0h3m1 0h1m1 0h4m1 0h7m1 0h2m1 0h1m1 0h1m2 0h13m1 0h1m1 0h2m2 0h1m1 0h2m20 0h1m1 0h1m4 0h1m1 0h14m1 0h5m1 0h2m1 0h8m3 0h2m2 0h1m2 0h1m385 0h1m2 0h1m6 0h2m5 0h2m-1337 1h1m6 0h1m2 0h1m4 0h1m1 0h2m1 0h1m1 0h1m2 0h1m8 0h1m1 0h1m2 0h1m6 0h2m9 0h2m1 0h2m5 0h2m4 0h1m4 0h1m17 0h1m2 0h2m6 0h1m1 0h1m4 0h1m1 0h2m10 0h1m12 0h1m200 0h1m1 0h2m4 0h1m1 0h6m2 0h1m1 0h1m3 0h1m7 0h1m367 0h1m28 0h1m3 0h1m1 0h1m2 0h1m1 0h1m2 0h1m1 0h1m2 0h2m1 0h2m1 0h2m1 0h7m1 0h7m1 0h2m1 0h1m1 0h1m1 0h1m1 0h5m1 0h6m2 0h2m1 0h1m5 0h2m2 0h2m1 0h1m3 0h2m2 0h1m3 0h1m1 0h1m1 0h1m1 0h1m1 0h1m5 0h1m1 0h1m2 0h2m2 0h1m2 0h2m1 0h28m1 0h1m2 0h1m14 0h1m370 0h1m2 0h1m4 0h2m3 0h1m4 0h1m6 0h1m1 0h1m4 0h4m3 0h1m-1387 1h1m16 0h1m18 0h1m6 0h1m4 0h1m5 0h1m5 0h1m7 0h1m6 0h1m3 0h2m11 0h1m1 0h1m3 0h2m12 0h1m3 0h1m3 0h1m12 0h1m5 0h2m1 0h1m3 0h1m225 0h1m5 0h1m1 0h1m1 0h1m1 0h4m7 0h2m3 0h1m7 0h1m2 0h1m337 0h1m15 0h1m16 0h1m17 0h1m4 0h1m2 0h1m2 0h1m1 0h4m3 0h4m2 0h2m1 0h1m1 0h7m1 0h1m1 0h2m1 0h1m1 0h3m1 0h6m2 0h1m2 0h1m1 0h1m1 0h11m4 0h7m7 0h1m1 0h1m2 0h1m1 0h1m1 0h1m15 0h1m1 0h3m1 0h1m1 0h7m2 0h6m1 0h11m2 0h3m1 0h1m2 0h3m373 0h1m11 0h1m1 0h1m3 0h1m2 0h2m1 0h3m2 0h1m2 0h1m2 0h1m7 0h1m2 0h1m-1394 1h1m43 0h1m4 0h1m2 0h1m3 0h1m7 0h1m4 0h1m1 0h1m6 0h1m2 0h1m1 0h1m2 0h1m1 0h2m4 0h2m1 0h1m5 0h2m1 0h1m14 0h1m8 0h1m3 0h1m2 0h1m7 0h3m1 0h1m4 0h1m6 0h1m14 0h1m3 0h1m205 0h1m2 0h1m1 0h3m3 0h4m1 0h1m5 0h1m5 0h1m4 0h1m392 0h1m2 0h1m3 0h1m2 0h1m3 0h2m1 0h1m2 0h1m2 0h2m1 0h1m2 0h1m1 0h2m2 0h2m1 0h1m4 0h5m2 0h4m2 0h1m1 0h1m2 0h4m2 0h2m2 0h3m6 0h2m2 0h2m1 0h1m3 0h1m2 0h1m5 0h1m1 0h1m6 0h2m3 0h2m1 0h1m2 0h3m1 0h3m1 0h25m2 0h1m3 0h1m388 0h1m6 0h3m9 0h1m5 0h1m2 0h1m-1387 1h1m10 0h1m12 0h1m10 0h1m15 0h1m6 0h1m7 0h1m9 0h2m4 0h2m3 0h1m4 0h2m1 0h1m3 0h1m2 0h5m14 0h1m1 0h1m7 0h1m1 0h1m1 0h1m2 0h1m2 0h1m2 0h2m5 0h2m6 0h1m213 0h1m1 0h2m9 0h1m1 0h1m1 0h2m3 0h3m1 0h1m2 0h2m7 0h1m362 0h1m17 0h1m4 0h1m3 0h1m1 0h1m3 0h1m8 0h1m2 0h1m2 0h1m1 0h1m3 0h1m4 0h2m1 0h1m6 0h3m1 0h3m4 0h1m1 0h1m2 0h1m1 0h3m3 0h3m1 0h2m3 0h2m1 0h2m3 0h6m1 0h1m7 0h1m2 0h2m3 0h1m2 0h1m3 0h1m17 0h12m1 0h9m1 0h5m1 0h4m3 0h1m2 0h1m376 0h1m7 0h1m2 0h1m4 0h1m9 0h2m3 0h2m4 0h1m-1374 1h1m13 0h1m24 0h1m3 0h5m4 0h1m1 0h1m4 0h1m4 0h2m4 0h1m4 0h1m6 0h3m2 0h1m1 0h1m11 0h1m24 0h1m2 0h1m2 0h1m1 0h2m238 0h2m3 0h6m1 0h1m1 0h1m2 0h1m3 0h1m1 0h1m2 0h1m395 0h1m4 0h1m8 0h1m4 0h3m1 0h2m7 0h3m2 0h1m2 0h4m2 0h1m1 0h4m1 0h2m4 0h4m1 0h1m1 0h2m1 0h2m6 0h1m7 0h1m1 0h1m3 0h2m1 0h2m4 0h3m6 0h1m3 0h1m5 0h13m1 0h1m1 0h5m1 0h10m1 0h2m1 0h1m1 0h2m4 0h1m3 0h1m375 0h1m1 0h1m6 0h1m2 0h2m1 0h1m2 0h1m8 0h3m1 0h1m5 0h1m9 0h1m-1378 1h1m22 0h1m7 0h1m8 0h1m2 0h1m10 0h4m3 0h1m2 0h1m1 0h1m3 0h2m2 0h1m3 0h1m1 0h1m1 0h1m4 0h1m4 0h1m7 0h2m3 0h2m1 0h1m8 0h3m8 0h1m235 0h1m1 0h2m3 0h1m3 0h3m1 0h1m3 0h1m90 0h1m274 0h1m13 0h1m6 0h2m15 0h2m9 0h1m1 0h1m7 0h2m5 0h1m2 0h1m3 0h1m1 0h4m1 0h3m3 0h1m1 0h1m1 0h1m1 0h5m2 0h3m3 0h1m2 0h1m2 0h2m4 0h2m6 0h1m4 0h1m3 0h1m17 0h1m1 0h1m4 0h3m1 0h26m1 0h2m1 0h2m1 0h1m5 0h1m1 0h1m379 0h2m1 0h1m2 0h1m11 0h1m1 0h2m2 0h1m1 0h3m16 0h1m-1432 1h1m43 0h1m10 0h2m1 0h1m15 0h1m7 0h3m4 0h1m4 0h1m3 0h2m1 0h1m6 0h2m1 0h1m3 0h1m1 0h2m1 0h1m8 0h1m7 0h1m1 0h1m4 0h1m3 0h1m24 0h1m1 0h1m6 0h2m4 0h1m221 0h2m2 0h1m2 0h3m2 0h1m1 0h4m1 0h1m2 0h1m5 0h1m3 0h1m35 0h1m340 0h1m9 0h1m11 0h2m6 0h1m1 0h1m6 0h1m2 0h1m3 0h2m2 0h2m1 0h2m1 0h1m1 0h1m3 0h1m8 0h5m1 0h1m2 0h3m10 0h1m4 0h1m1 0h1m3 0h2m2 0h1m3 0h1m2 0h3m6 0h1m1 0h1m5 0h1m2 0h1m2 0h3m1 0h2m2 0h7m1 0h2m1 0h12m1 0h3m1 0h2m7 0h1m368 0h1m15 0h1m3 0h1m2 0h1m4 0h1m7 0h2m4 0h1m1 0h1m3 0h1m-1393 1h1m8 0h1m5 0h1m29 0h1m2 0h1m12 0h1m4 0h2m1 0h1m3 0h1m2 0h1m4 0h2m1 0h2m7 0h1m1 0h1m1 0h1m1 0h1m11 0h1m30 0h2m8 0h1m1 0h1m5 0h1m225 0h1m7 0h2m3 0h1m1 0h3m1 0h2m6 0h1m1 0h1m397 0h1m4 0h1m1 0h1m2 0h1m4 0h2m8 0h1m4 0h1m2 0h1m2 0h1m2 0h2m1 0h1m2 0h1m3 0h1m1 0h2m1 0h2m1 0h1m1 0h1m1 0h4m2 0h1m1 0h2m12 0h1m4 0h1m1 0h1m1 0h1m14 0h1m4 0h2m1 0h1m4 0h1m3 0h1m1 0h2m1 0h21m1 0h6m4 0h1m4 0h1m383 0h1m2 0h2m2 0h3m4 0h1m5 0h1m6 0h1m1 0h1m-1429 1h1m27 0h1m1 0h1m15 0h1m3 0h1m18 0h1m11 0h2m8 0h1m1 0h1m2 0h2m7 0h1m1 0h1m3 0h3m1 0h2m1 0h2m3 0h1m3 0h1m1 0h2m1 0h2m2 0h1m4 0h1m10 0h1m1 0h1m10 0h1m14 0h1m3 0h1m7 0h1m10 0h1m9 0h1m195 0h1m7 0h1m7 0h1m1 0h1m1 0h1m6 0h2m1 0h5m1 0h1m2 0h1m2 0h2m392 0h2m9 0h1m1 0h2m1 0h1m1 0h1m2 0h1m5 0h1m3 0h1m2 0h1m4 0h2m2 0h1m4 0h1m1 0h3m1 0h1m2 0h1m5 0h1m1 0h1m2 0h2m1 0h1m7 0h1m13 0h1m3 0h1m10 0h1m5 0h1m2 0h1m3 0h1m1 0h1m1 0h5m1 0h27m3 0h1m1 0h1m3 0h1m7 0h1m371 0h1m13 0h2m1 0h1m2 0h1m3 0h1m1 0h1m3 0h1m1 0h1m8 0h1m8 0h1m-1388 1h1m6 0h1m24 0h1m2 0h1m6 0h4m4 0h1m4 0h1m2 0h2m15 0h1m3 0h1m1 0h1m1 0h1m1 0h1m4 0h1m5 0h1m2 0h1m3 0h1m14 0h2m11 0h1m5 0h1m2 0h1m25 0h1m200 0h1m4 0h1m1 0h1m3 0h1m1 0h2m3 0h1m9 0h1m379 0h1m5 0h1m11 0h1m9 0h1m6 0h1m3 0h1m1 0h1m2 0h1m1 0h1m1 0h1m4 0h1m8 0h1m1 0h1m1 0h1m1 0h3m2 0h1m2 0h1m2 0h1m3 0h1m4 0h1m1 0h1m2 0h1m4 0h1m9 0h1m16 0h1m5 0h2m5 0h4m2 0h2m1 0h23m1 0h1m1 0h2m3 0h1m383 0h1m14 0h1m3 0h2m6 0h1m6 0h1m2 0h2m-1414 1h1m58 0h1m17 0h3m7 0h1m1 0h1m1 0h1m3 0h1m2 0h1m12 0h1m1 0h1m2 0h1m2 0h1m3 0h2m1 0h1m6 0h1m17 0h1m11 0h1m8 0h1m233 0h1m1 0h2m4 0h1m1 0h2m1 0h1m1 0h2m2 0h1m385 0h1m7 0h1m12 0h1m1 0h1m5 0h1m2 0h2m3 0h1m2 0h1m2 0h1m4 0h1m3 0h1m1 0h1m2 0h1m1 0h1m4 0h3m2 0h1m1 0h1m3 0h1m3 0h1m2 0h1m11 0h1m6 0h1m4 0h1m5 0h1m6 0h1m15 0h3m1 0h1m1 0h28m1 0h4m1 0h5m392 0h1m3 0h2m1 0h1m2 0h1m2 0h1m6 0h4m2 0h1m6 0h2m-1406 1h1m40 0h1m6 0h1m15 0h1m1 0h2m4 0h1m1 0h1m1 0h2m7 0h1m1 0h2m1 0h1m2 0h3m13 0h1m4 0h1m3 0h1m2 0h1m17 0h1m4 0h1m13 0h2m2 0h1m229 0h1m1 0h1m4 0h1m1 0h1m2 0h1m4 0h2m1 0h2m1 0h1m84 0h1m292 0h1m2 0h1m1 0h1m31 0h1m2 0h1m1 0h1m2 0h2m4 0h1m4 0h1m1 0h2m5 0h1m2 0h2m4 0h3m5 0h1m1 0h1m1 0h1m1 0h1m1 0h1m8 0h1m2 0h1m1 0h2m6 0h1m3 0h1m1 0h1m2 0h1m16 0h2m2 0h3m1 0h2m1 0h2m1 0h5m1 0h13m1 0h11m5 0h1m3 0h1m4 0h1m371 0h1m3 0h1m3 0h3m2 0h1m10 0h1m4 0h1m2 0h1m5 0h1m-1382 1h1m4 0h1m11 0h1m3 0h1m10 0h1m6 0h2m5 0h1m2 0h1m4 0h2m14 0h1m3 0h1m1 0h2m2 0h1m2 0h1m1 0h1m1 0h1m10 0h1m4 0h1m28 0h1m9 0h2m5 0h2m12 0h1m210 0h3m3 0h1m2 0h3m2 0h1m1 0h1m3 0h1m2 0h1m1 0h1m1 0h1m1 0h1m2 0h1m54 0h1m32 0h1m260 0h1m30 0h1m4 0h1m17 0h1m12 0h1m5 0h3m2 0h1m6 0h1m1 0h3m1 0h1m1 0h2m1 0h1m1 0h1m1 0h3m2 0h1m1 0h1m1 0h2m6 0h1m6 0h1m5 0h1m5 0h1m8 0h1m7 0h2m8 0h1m2 0h2m1 0h4m1 0h22m3 0h1m1 0h1m4 0h1m1 0h1m376 0h1m10 0h1m12 0h1m1 0h1m10 0h1m10 0h1m1 0h1m4 0h1m-1402 1h1m3 0h1m4 0h1m8 0h1m10 0h2m1 0h1m19 0h1m3 0h1m1 0h1m2 0h1m1 0h1m11 0h3m2 0h1m7 0h1m2 0h1m4 0h1m1 0h2m1 0h1m3 0h1m1 0h1m6 0h1m16 0h1m2 0h1m2 0h1m11 0h1m2 0h1m3 0h1m7 0h1m9 0h1m194 0h1m11 0h1m5 0h1m2 0h1m1 0h1m1 0h1m1 0h3m4 0h1m3 0h2m388 0h1m4 0h1m6 0h1m9 0h2m7 0h1m1 0h1m6 0h1m1 0h1m1 0h1m2 0h1m2 0h1m6 0h5m2 0h1m1 0h1m1 0h1m1 0h2m1 0h1m1 0h1m1 0h1m1 0h4m9 0h1m12 0h1m3 0h1m5 0h1m2 0h2m1 0h1m1 0h1m1 0h4m2 0h25m2 0h3m2 0h1m1 0h1m2 0h1m3 0h2m391 0h1m4 0h1m2 0h1m2 0h1m1 0h2m7 0h3m14 0h1m-1390 1h1m7 0h1m10 0h1m7 0h1m2 0h1m1 0h2m2 0h2m7 0h1m6 0h2m11 0h1m3 0h1m1 0h1m1 0h1m3 0h1m8 0h1m11 0h1m2 0h1m10 0h1m10 0h2m4 0h1m2 0h1m7 0h1m2 0h1m3 0h1m1 0h1m219 0h2m3 0h1m1 0h3m1 0h2m1 0h4m1 0h2m1 0h1m1 0h1m406 0h1m2 0h1m3 0h2m6 0h1m1 0h1m1 0h1m4 0h1m2 0h1m2 0h1m7 0h1m1 0h1m1 0h1m11 0h1m1 0h1m3 0h1m4 0h1m13 0h1m13 0h1m6 0h1m3 0h1m5 0h1m1 0h1m2 0h6m1 0h3m1 0h10m1 0h3m1 0h5m4 0h2m2 0h1m375 0h2m1 0h1m2 0h1m6 0h1m4 0h1m3 0h1m6 0h2m3 0h1m8 0h1m1 0h2m3 0h1m5 0h1m-1396 1h1m4 0h2m16 0h1m10 0h1m6 0h2m1 0h1m3 0h1m3 0h2m2 0h1m1 0h1m1 0h1m1 0h1m3 0h1m5 0h2m3 0h1m3 0h1m1 0h1m5 0h2m3 0h1m1 0h1m6 0h1m1 0h1m8 0h1m11 0h1m9 0h1m6 0h1m7 0h2m6 0h1m214 0h2m1 0h1m2 0h2m1 0h2m2 0h4m3 0h1m6 0h1m380 0h1m6 0h1m9 0h1m10 0h1m4 0h1m4 0h3m1 0h1m2 0h1m5 0h1m1 0h1m10 0h3m1 0h1m2 0h1m5 0h2m1 0h1m2 0h1m3 0h1m3 0h4m2 0h1m1 0h1m11 0h1m2 0h1m5 0h1m6 0h1m3 0h1m1 0h3m4 0h1m2 0h1m1 0h2m1 0h21m1 0h1m7 0h2m5 0h1m15 0h1m355 0h1m2 0h1m8 0h3m24 0h1m5 0h1m-1393 1h1m24 0h1m3 0h1m5 0h1m15 0h1m2 0h1m3 0h1m1 0h1m1 0h2m7 0h1m2 0h1m3 0h1m1 0h1m2 0h1m4 0h2m5 0h2m1 0h1m1 0h1m7 0h1m3 0h2m3 0h1m24 0h1m11 0h1m231 0h2m3 0h2m6 0h1m1 0h3m3 0h1m3 0h1m74 0h1m336 0h1m7 0h1m3 0h1m6 0h1m4 0h1m3 0h1m3 0h1m1 0h1m6 0h1m1 0h1m2 0h1m2 0h1m4 0h1m7 0h1m1 0h1m3 0h1m2 0h1m2 0h2m6 0h1m3 0h1m15 0h2m1 0h4m1 0h3m1 0h7m1 0h14m2 0h2m2 0h1m3 0h1m2 0h1m378 0h1m6 0h2m2 0h2m3 0h1m6 0h1m6 0h3m3 0h2m11 0h1m-1380 1h1m5 0h1m6 0h1m2 0h2m4 0h1m1 0h1m3 0h1m2 0h2m4 0h1m3 0h1m1 0h1m1 0h1m1 0h1m8 0h1m4 0h1m11 0h1m2 0h1m1 0h2m1 0h2m1 0h1m2 0h2m7 0h1m25 0h1m1 0h1m10 0h2m19 0h1m14 0h1m194 0h1m1 0h1m2 0h2m2 0h4m1 0h2m3 0h1m3 0h1m378 0h1m10 0h1m13 0h1m4 0h2m1 0h1m7 0h1m1 0h1m1 0h1m2 0h1m2 0h1m8 0h1m2 0h2m3 0h1m1 0h1m1 0h1m3 0h1m5 0h1m8 0h1m2 0h1m15 0h1m1 0h2m12 0h1m4 0h4m3 0h1m1 0h4m1 0h1m1 0h19m1 0h3m2 0h8m381 0h1m2 0h1m4 0h1m5 0h1m2 0h1m6 0h1m3 0h1m1 0h1m7 0h1m3 0h2m3 0h1m-1407 1h1m23 0h1m8 0h1m3 0h1m11 0h1m4 0h2m2 0h1m2 0h1m5 0h1m5 0h3m5 0h1m4 0h1m1 0h1m2 0h1m2 0h1m1 0h1m1 0h2m3 0h1m1 0h2m2 0h2m5 0h1m3 0h2m21 0h1m6 0h1m1 0h1m6 0h1m4 0h1m7 0h2m220 0h2m1 0h1m2 0h1m1 0h2m2 0h1m3 0h1m2 0h2m3 0h1m11 0h1m379 0h1m14 0h1m12 0h2m3 0h1m1 0h1m1 0h2m5 0h1m3 0h1m2 0h1m4 0h2m1 0h1m2 0h2m1 0h1m1 0h1m3 0h1m7 0h2m4 0h2m2 0h1m17 0h2m8 0h1m6 0h1m2 0h1m4 0h1m1 0h27m1 0h5m1 0h1m1 0h2m382 0h2m10 0h1m4 0h1m3 0h1m1 0h1m5 0h1m6 0h1m-1357 1h1m14 0h1m8 0h1m3 0h1m1 0h1m9 0h1m5 0h1m1 0h1m7 0h2m4 0h1m2 0h1m2 0h2m1 0h1m5 0h2m2 0h1m7 0h1m6 0h1m3 0h1m7 0h1m29 0h1m216 0h2m1 0h2m1 0h2m5 0h4m2 0h1m10 0h1m349 0h1m35 0h2m8 0h1m2 0h1m11 0h1m3 0h1m3 0h1m1 0h2m3 0h1m8 0h1m5 0h1m1 0h1m5 0h1m2 0h2m1 0h2m2 0h1m5 0h4m3 0h3m1 0h1m17 0h1m8 0h1m3 0h3m4 0h21m2 0h9m11 0h1m383 0h1m2 0h1m4 0h1m2 0h1m1 0h2m1 0h1m1 0h1m3 0h2m4 0h1m9 0h1m-1399 1h1m12 0h1m24 0h2m4 0h1m4 0h1m13 0h1m3 0h3m3 0h2m1 0h1m2 0h1m1 0h1m2 0h1m2 0h1m1 0h1m2 0h1m5 0h2m5 0h2m5 0h1m1 0h1m4 0h1m1 0h1m2 0h1m29 0h1m1 0h1m224 0h1m1 0h1m3 0h1m6 0h3m1 0h2m1 0h2m3 0h1m1 0h1m4 0h1m3 0h1m1 0h2m85 0h1m285 0h1m8 0h1m11 0h2m2 0h1m3 0h1m1 0h1m2 0h6m2 0h1m1 0h2m4 0h3m7 0h3m1 0h1m2 0h3m1 0h1m1 0h2m4 0h1m3 0h3m1 0h1m1 0h1m2 0h1m1 0h1m12 0h1m6 0h1m3 0h1m1 0h1m2 0h1m3 0h3m3 0h2m1 0h5m1 0h4m1 0h14m1 0h4m3 0h1m2 0h2m379 0h1m12 0h1m2 0h1m4 0h1m4 0h2m1 0h1m2 0h1m3 0h1m1 0h1m11 0h1m-1459 1h1m52 0h1m16 0h1m2 0h1m2 0h1m17 0h2m1 0h1m6 0h3m6 0h2m1 0h1m7 0h2m1 0h1m1 0h1m1 0h1m4 0h1m10 0h2m1 0h1m2 0h1m4 0h1m5 0h1m5 0h1m2 0h1m5 0h1m26 0h1m15 0h1m222 0h1m3 0h2m1 0h1m1 0h1m4 0h1m2 0h1m1 0h4m1 0h1m8 0h1m363 0h2m27 0h1m3 0h1m1 0h1m4 0h1m16 0h2m4 0h2m4 0h1m1 0h1m1 0h1m5 0h1m1 0h1m1 0h1m4 0h4m3 0h3m1 0h1m3 0h1m2 0h1m6 0h1m3 0h2m15 0h3m3 0h1m3 0h1m3 0h1m1 0h3m1 0h4m1 0h3m1 0h2m1 0h16m1 0h1m1 0h1m3 0h1m2 0h3m384 0h1m3 0h1m2 0h1m4 0h1m2 0h1m1 0h2m1 0h2m6 0h3m2 0h1m4 0h1m7 0h1m2 0h1m-1407 1h1m8 0h1m11 0h1m6 0h1m6 0h1m2 0h3m6 0h1m5 0h1m2 0h1m1 0h1m2 0h1m4 0h2m2 0h4m1 0h1m2 0h1m6 0h2m1 0h1m1 0h1m5 0h1m3 0h2m4 0h5m1 0h1m11 0h1m9 0h2m29 0h1m218 0h1m1 0h1m3 0h2m1 0h3m2 0h1m3 0h5m62 0h1m308 0h1m21 0h1m11 0h1m1 0h1m2 0h1m7 0h1m4 0h1m5 0h1m3 0h1m6 0h1m2 0h2m3 0h2m1 0h4m1 0h1m1 0h1m3 0h1m4 0h1m6 0h1m1 0h2m4 0h1m5 0h1m1 0h1m3 0h1m1 0h1m9 0h1m8 0h1m1 0h1m3 0h3m1 0h1m1 0h4m1 0h20m1 0h1m2 0h1m2 0h1m2 0h3m5 0h1m378 0h1m4 0h1m3 0h1m9 0h1m1 0h1m6 0h2m6 0h1m-1381 1h1m6 0h1m16 0h1m4 0h1m1 0h2m5 0h1m1 0h1m2 0h1m2 0h1m6 0h1m3 0h1m2 0h3m1 0h1m1 0h1m3 0h2m2 0h1m19 0h2m4 0h1m2 0h1m2 0h2m5 0h1m21 0h1m6 0h1m229 0h2m3 0h1m2 0h1m3 0h1m5 0h1m3 0h1m3 0h1m3 0h1m4 0h1m362 0h1m11 0h1m2 0h1m9 0h2m23 0h1m1 0h2m4 0h1m2 0h2m1 0h1m1 0h2m2 0h1m6 0h1m4 0h1m4 0h1m1 0h1m4 0h1m2 0h2m1 0h1m2 0h1m2 0h1m1 0h1m8 0h1m4 0h2m21 0h4m1 0h10m1 0h7m1 0h2m1 0h1m1 0h1m2 0h2m1 0h2m1 0h1m384 0h1m2 0h1m1 0h1m1 0h1m10 0h1m4 0h2m6 0h1m3 0h1m2 0h1m3 0h1m-1377 1h1m13 0h1m5 0h1m4 0h2m2 0h1m21 0h1m3 0h1m7 0h2m1 0h1m3 0h1m1 0h1m2 0h1m4 0h1m1 0h1m8 0h1m2 0h1m5 0h1m16 0h1m8 0h1m3 0h1m1 0h1m8 0h1m7 0h1m220 0h3m1 0h1m1 0h2m3 0h1m3 0h1m3 0h2m1 0h1m8 0h1m370 0h1m1 0h1m14 0h1m8 0h1m6 0h1m7 0h1m1 0h1m2 0h1m2 0h3m1 0h2m1 0h3m1 0h2m1 0h1m1 0h1m1 0h4m3 0h2m3 0h1m1 0h2m2 0h1m1 0h1m1 0h1m1 0h1m7 0h1m5 0h1m1 0h2m10 0h1m11 0h2m7 0h1m3 0h2m1 0h2m2 0h1m1 0h1m1 0h9m1 0h2m2 0h4m3 0h3m391 0h2m2 0h2m5 0h1m5 0h2m1 0h1m1 0h1m6 0h4m5 0h1m3 0h1m-1385 1h1m4 0h1m22 0h1m2 0h1m1 0h1m3 0h1m1 0h5m3 0h2m1 0h1m2 0h2m8 0h1m2 0h1m1 0h2m9 0h1m3 0h2m4 0h2m8 0h1m3 0h1m2 0h1m17 0h1m3 0h1m11 0h1m9 0h1m213 0h1m7 0h2m1 0h1m1 0h1m2 0h1m2 0h1m5 0h3m384 0h1m11 0h2m4 0h1m14 0h2m2 0h2m1 0h1m5 0h1m5 0h1m1 0h3m2 0h1m1 0h1m1 0h1m1 0h1m1 0h1m1 0h1m2 0h1m2 0h1m2 0h2m2 0h1m1 0h1m3 0h2m1 0h2m3 0h3m6 0h1m2 0h2m1 0h1m5 0h2m2 0h2m8 0h1m1 0h1m1 0h1m2 0h3m1 0h4m1 0h5m1 0h7m2 0h4m4 0h1m20 0h1m367 0h2m1 0h1m3 0h1m1 0h1m3 0h1m2 0h1m1 0h1m3 0h2m10 0h2m6 0h1m20 0h1m-1412 1h1m13 0h1m2 0h1m2 0h1m10 0h1m6 0h1m1 0h2m11 0h2m5 0h1m6 0h1m1 0h1m4 0h1m7 0h1m7 0h1m4 0h1m5 0h1m1 0h1m8 0h1m5 0h1m260 0h1m6 0h5m2 0h1m2 0h4m4 0h1m2 0h2m6 0h1m37 0h1m338 0h1m9 0h1m4 0h1m8 0h1m3 0h1m3 0h1m3 0h1m1 0h1m3 0h3m2 0h1m4 0h3m1 0h1m7 0h1m1 0h2m5 0h1m1 0h2m3 0h1m1 0h4m1 0h1m1 0h1m3 0h1m1 0h1m3 0h1m8 0h3m1 0h1m3 0h2m9 0h2m4 0h3m1 0h1m1 0h1m1 0h1m1 0h1m1 0h8m1 0h3m1 0h1m3 0h1m2 0h1m7 0h1m1 0h1m377 0h1m1 0h1m6 0h1m7 0h1m6 0h1m13 0h1m3 0h1m7 0h1m-1382 1h1m1 0h1m14 0h1m1 0h1m1 0h1m5 0h1m3 0h1m9 0h1m3 0h2m6 0h1m2 0h3m5 0h1m3 0h1m16 0h1m3 0h1m5 0h1m3 0h1m14 0h1m1 0h1m16 0h1m20 0h1m9 0h1m206 0h1m1 0h2m1 0h1m2 0h4m2 0h1m388 0h1m7 0h1m9 0h1m1 0h1m11 0h1m4 0h1m1 0h4m1 0h1m2 0h1m1 0h3m5 0h2m1 0h1m1 0h5m1 0h2m1 0h4m1 0h2m1 0h2m5 0h1m1 0h2m2 0h1m4 0h1m4 0h2m3 0h1m1 0h1m9 0h1m2 0h1m1 0h3m6 0h7m1 0h1m1 0h3m1 0h1m1 0h12m3 0h7m391 0h1m10 0h1m9 0h1m4 0h2m4 0h1m6 0h1m3 0h1m-1396 1h1m17 0h1m2 0h1m7 0h2m1 0h1m3 0h1m4 0h2m2 0h1m2 0h1m7 0h1m8 0h1m1 0h1m2 0h1m3 0h1m4 0h1m4 0h1m1 0h3m2 0h1m2 0h1m1 0h2m4 0h2m2 0h2m3 0h1m1 0h1m16 0h1m5 0h1m1 0h1m2 0h1m234 0h1m7 0h1m2 0h7m1 0h3m1 0h1m1 0h1m6 0h1m4 0h1m390 0h1m4 0h1m4 0h1m1 0h3m4 0h1m1 0h1m2 0h2m2 0h2m1 0h2m5 0h2m2 0h1m1 0h1m1 0h2m2 0h4m1 0h2m1 0h2m3 0h1m4 0h1m5 0h1m1 0h1m1 0h1m3 0h1m11 0h1m1 0h1m5 0h3m11 0h2m2 0h1m2 0h5m1 0h6m1 0h1m1 0h4m1 0h6m1 0h2m1 0h2m1 0h2m5 0h1m3 0h2m378 0h1m8 0h1m2 0h1m2 0h1m3 0h1m1 0h2m1 0h4m4 0h2m6 0h1m-1401 1h1m15 0h1m6 0h1m1 0h3m11 0h2m12 0h1m2 0h2m7 0h1m2 0h1m2 0h1m2 0h1m6 0h1m2 0h1m3 0h1m9 0h2m2 0h2m2 0h1m1 0h1m4 0h1m3 0h3m4 0h1m23 0h1m39 0h1m201 0h1m1 0h1m2 0h3m1 0h3m1 0h5m2 0h1m2 0h3m1 0h1m102 0h1m277 0h1m3 0h1m11 0h2m1 0h1m4 0h1m7 0h1m2 0h2m4 0h4m5 0h1m1 0h1m1 0h1m4 0h1m3 0h1m1 0h4m1 0h4m2 0h5m2 0h2m1 0h1m3 0h1m1 0h3m1 0h1m2 0h1m1 0h2m3 0h1m1 0h1m4 0h2m1 0h2m9 0h1m2 0h1m3 0h1m1 0h1m2 0h1m2 0h4m1 0h2m1 0h3m1 0h11m1 0h1m2 0h2m1 0h4m1 0h1m3 0h1m3 0h1m384 0h1m2 0h2m9 0h3m1 0h2m4 0h1m7 0h1m6 0h1m-1403 1h1m6 0h1m5 0h1m2 0h1m8 0h1m1 0h2m4 0h2m1 0h5m1 0h1m9 0h1m1 0h1m3 0h1m9 0h2m3 0h1m9 0h2m1 0h2m4 0h4m1 0h1m4 0h1m9 0h1m1 0h1m3 0h1m3 0h1m17 0h1m3 0h1m5 0h1m229 0h1m6 0h1m3 0h3m1 0h2m2 0h1m2 0h1m1 0h4m2 0h1m5 0h1m45 0h1m309 0h1m32 0h1m7 0h1m2 0h1m1 0h2m3 0h1m1 0h1m1 0h1m5 0h1m1 0h2m1 0h3m3 0h3m1 0h8m2 0h1m1 0h2m3 0h1m2 0h4m4 0h4m1 0h1m1 0h3m1 0h3m5 0h2m1 0h1m3 0h1m2 0h1m4 0h1m10 0h2m1 0h3m1 0h1m2 0h15m1 0h11m16 0h1m397 0h1m1 0h2m1 0h2m2 0h1m4 0h1m2 0h1m13 0h1m-1418 1h1m11 0h1m1 0h1m13 0h1m9 0h1m1 0h2m1 0h1m1 0h2m7 0h1m3 0h1m3 0h2m1 0h1m1 0h2m5 0h2m8 0h1m2 0h1m2 0h1m2 0h1m4 0h1m11 0h2m7 0h1m9 0h1m1 0h1m7 0h2m1 0h1m15 0h1m9 0h1m18 0h1m2 0h1m211 0h1m4 0h1m1 0h2m1 0h3m1 0h7m7 0h1m390 0h1m14 0h1m6 0h1m5 0h2m3 0h1m1 0h4m3 0h1m1 0h1m1 0h1m1 0h4m2 0h4m1 0h1m1 0h1m7 0h1m1 0h3m1 0h1m2 0h1m2 0h1m2 0h6m7 0h1m2 0h1m13 0h1m6 0h1m1 0h4m2 0h5m1 0h4m2 0h5m1 0h3m1 0h2m1 0h1m1 0h1m386 0h1m2 0h1m9 0h1m5 0h1m6 0h1m1 0h2m1 0h1m2 0h1m5 0h1m6 0h1m-1409 1h1m14 0h1m1 0h1m3 0h1m4 0h1m4 0h1m3 0h1m1 0h1m3 0h1m4 0h1m7 0h2m10 0h1m3 0h1m1 0h1m1 0h1m1 0h1m1 0h1m8 0h2m1 0h1m1 0h1m1 0h1m5 0h1m1 0h1m1 0h1m1 0h1m2 0h2m5 0h1m2 0h1m5 0h3m11 0h1m1 0h2m18 0h1m238 0h1m2 0h2m1 0h2m2 0h2m2 0h1m1 0h4m3 0h2m1 0h1m43 0h1m334 0h1m15 0h3m11 0h1m1 0h1m3 0h2m1 0h1m3 0h1m1 0h1m2 0h4m5 0h3m2 0h1m1 0h2m3 0h7m1 0h1m1 0h2m3 0h2m1 0h2m1 0h1m1 0h1m2 0h4m1 0h1m5 0h1m5 0h1m2 0h1m8 0h1m6 0h2m1 0h1m1 0h1m1 0h1m3 0h7m2 0h2m2 0h2m1 0h3m3 0h1m1 0h2m2 0h1m4 0h1m377 0h1m19 0h2m1 0h2m1 0h1m2 0h2m1 0h1m7 0h2m13 0h1m-1406 1h1m8 0h1m5 0h1m23 0h1m1 0h1m4 0h4m7 0h1m2 0h3m4 0h1m11 0h1m4 0h1m3 0h2m5 0h1m4 0h2m10 0h1m5 0h1m19 0h1m35 0h1m198 0h1m4 0h1m10 0h1m2 0h2m1 0h1m3 0h1m2 0h1m1 0h1m2 0h4m2 0h2m2 0h1m4 0h1m89 0h1m7 0h1m288 0h1m9 0h1m7 0h2m1 0h5m9 0h1m2 0h1m1 0h5m1 0h7m1 0h1m1 0h1m2 0h2m1 0h1m1 0h1m1 0h3m1 0h1m3 0h1m1 0h2m3 0h2m1 0h1m2 0h3m2 0h1m9 0h2m9 0h1m2 0h2m4 0h3m1 0h7m2 0h7m1 0h2m1 0h2m1 0h2m1 0h1m1 0h3m8 0h1m1 0h1m4 0h1m373 0h1m4 0h1m9 0h3m2 0h1m3 0h2m4 0h1m4 0h3m19 0h1m-1420 1h2m11 0h1m7 0h2m4 0h1m5 0h1m1 0h1m3 0h1m2 0h2m1 0h1m2 0h2m6 0h1m1 0h3m3 0h1m9 0h2m26 0h2m3 0h2m4 0h1m7 0h2m7 0h1m4 0h1m3 0h1m2 0h1m15 0h1m20 0h1m210 0h1m6 0h1m1 0h3m1 0h1m4 0h1m1 0h1m3 0h2m1 0h2m4 0h1m4 0h1m360 0h1m10 0h1m10 0h1m8 0h1m2 0h1m2 0h1m2 0h3m2 0h2m2 0h2m3 0h1m3 0h2m1 0h1m1 0h1m1 0h2m1 0h1m1 0h2m2 0h2m5 0h7m2 0h3m1 0h1m1 0h2m1 0h1m1 0h1m2 0h1m1 0h1m4 0h2m9 0h2m1 0h1m2 0h1m6 0h1m1 0h1m1 0h1m3 0h2m5 0h1m1 0h3m1 0h4m2 0h3m1 0h7m1 0h2m2 0h1m1 0h2m5 0h2m18 0h1m382 0h1m5 0h1m3 0h3m1 0h1m1 0h1m6 0h2m-1406 1h1m16 0h1m6 0h1m12 0h1m2 0h1m6 0h1m1 0h1m8 0h2m5 0h1m5 0h1m7 0h1m9 0h1m7 0h2m5 0h2m2 0h2m3 0h1m1 0h1m2 0h2m6 0h1m7 0h2m4 0h1m20 0h1m11 0h1m233 0h2m1 0h2m2 0h1m2 0h1m2 0h1m2 0h2m1 0h1m1 0h1m3 0h1m364 0h1m4 0h1m15 0h1m1 0h1m8 0h2m1 0h1m3 0h1m7 0h1m3 0h3m2 0h2m1 0h6m1 0h3m1 0h5m2 0h2m3 0h2m1 0h10m3 0h5m1 0h2m4 0h2m2 0h2m8 0h4m1 0h1m8 0h2m3 0h3m2 0h4m1 0h1m2 0h1m1 0h5m2 0h2m1 0h1m1 0h2m3 0h3m1 0h1m2 0h2m376 0h1m12 0h1m11 0h1m8 0h1m4 0h1m8 0h1m1 0h1m-1399 1h1m6 0h2m3 0h1m2 0h1m16 0h2m1 0h1m6 0h1m1 0h1m2 0h1m1 0h1m4 0h1m5 0h1m4 0h2m3 0h1m3 0h1m1 0h2m6 0h1m2 0h1m1 0h1m3 0h1m2 0h1m1 0h1m5 0h3m1 0h2m11 0h1m10 0h1m5 0h1m10 0h2m10 0h1m5 0h1m217 0h1m5 0h1m2 0h1m3 0h1m1 0h1m1 0h2m4 0h1m3 0h1m5 0h2m4 0h1m51 0h1m313 0h1m17 0h1m3 0h1m5 0h1m2 0h1m5 0h3m2 0h1m4 0h1m2 0h1m1 0h1m1 0h2m2 0h2m1 0h2m1 0h5m1 0h1m2 0h3m3 0h3m4 0h5m2 0h2m4 0h2m1 0h4m1 0h1m6 0h1m3 0h3m11 0h1m1 0h1m1 0h2m2 0h2m2 0h2m2 0h2m2 0h1m1 0h4m4 0h4m1 0h5m6 0h2m8 0h1m391 0h1m1 0h2m3 0h1m2 0h1m5 0h1m4 0h1m3 0h1m1 0h2m-1395 1h2m8 0h1m4 0h1m5 0h1m3 0h2m1 0h1m10 0h1m2 0h5m4 0h1m4 0h1m1 0h1m2 0h1m3 0h1m1 0h1m9 0h1m1 0h2m6 0h1m3 0h1m2 0h1m2 0h1m3 0h1m5 0h1m5 0h1m3 0h1m1 0h1m1 0h1m3 0h1m10 0h1m8 0h1m2 0h1m3 0h1m2 0h1m5 0h1m13 0h1m202 0h1m3 0h1m5 0h1m1 0h3m1 0h3m1 0h1m2 0h3m376 0h1m15 0h1m3 0h1m5 0h2m2 0h1m1 0h1m3 0h1m2 0h2m4 0h1m2 0h2m2 0h2m1 0h7m1 0h1m1 0h4m1 0h2m1 0h6m2 0h3m1 0h1m1 0h1m2 0h6m1 0h1m2 0h3m2 0h1m1 0h2m1 0h1m2 0h5m4 0h1m1 0h1m4 0h1m3 0h2m1 0h2m3 0h1m7 0h3m1 0h3m1 0h2m2 0h6m1 0h7m1 0h3m1 0h3m5 0h1m12 0h1m362 0h1m8 0h1m10 0h2m13 0h1m-1367 1h2m1 0h2m3 0h1m3 0h2m7 0h1m11 0h1m7 0h1m6 0h1m1 0h1m4 0h2m5 0h3m4 0h3m1 0h2m4 0h2m9 0h1m2 0h2m1 0h1m4 0h1m1 0h1m2 0h2m40 0h1m222 0h1m2 0h1m5 0h8m1 0h1m3 0h3m7 0h1m3 0h1m349 0h1m5 0h1m18 0h1m9 0h1m13 0h4m2 0h1m2 0h1m2 0h2m1 0h1m1 0h1m1 0h1m1 0h1m1 0h1m1 0h2m1 0h1m3 0h1m1 0h5m1 0h3m5 0h1m1 0h1m3 0h3m5 0h1m3 0h1m1 0h1m3 0h1m1 0h1m2 0h1m3 0h1m1 0h2m1 0h1m3 0h1m3 0h1m6 0h1m1 0h1m2 0h1m2 0h1m1 0h1m2 0h2m1 0h7m1 0h6m1 0h2m1 0h3m4 0h1m3 0h1m18 0h1m386 0h1m4 0h1m8 0h1m12 0h1m-1405 1h1m17 0h1m1 0h1m5 0h3m2 0h1m3 0h2m4 0h1m2 0h1m6 0h1m1 0h2m1 0h2m4 0h1m7 0h1m2 0h1m1 0h1m2 0h1m1 0h1m3 0h1m1 0h1m3 0h1m7 0h1m3 0h1m2 0h1m7 0h1m1 0h1m57 0h1m12 0h1m199 0h1m10 0h1m1 0h1m1 0h1m1 0h2m1 0h4m1 0h1m7 0h1m88 0h1m275 0h1m7 0h1m3 0h1m4 0h1m12 0h1m4 0h2m2 0h2m2 0h1m1 0h2m2 0h2m1 0h2m2 0h1m3 0h2m3 0h9m1 0h1m1 0h3m1 0h9m1 0h2m1 0h1m1 0h4m2 0h6m1 0h1m3 0h3m4 0h1m2 0h2m1 0h4m3 0h1m5 0h1m2 0h2m3 0h1m4 0h2m1 0h1m4 0h1m1 0h3m2 0h4m1 0h2m4 0h3m2 0h1m3 0h1m379 0h1m17 0h2m1 0h1m5 0h1m10 0h1m3 0h1m1 0h2m5 0h1m13 0h1m-1464 1h1m52 0h1m7 0h1m2 0h2m2 0h1m3 0h1m3 0h3m2 0h1m7 0h1m1 0h2m1 0h1m4 0h1m1 0h1m7 0h1m2 0h1m4 0h1m3 0h1m1 0h2m5 0h2m5 0h1m3 0h2m3 0h2m2 0h1m1 0h2m1 0h1m4 0h1m2 0h2m10 0h1m7 0h2m12 0h1m2 0h1m1 0h1m16 0h1m211 0h1m2 0h1m3 0h1m3 0h2m1 0h2m1 0h1m1 0h3m2 0h3m9 0h1m377 0h1m14 0h1m4 0h1m1 0h1m2 0h1m1 0h1m2 0h1m2 0h1m3 0h2m2 0h1m1 0h2m1 0h4m1 0h1m1 0h3m1 0h1m3 0h3m3 0h9m4 0h1m1 0h3m1 0h1m2 0h2m2 0h2m1 0h1m3 0h2m3 0h1m2 0h1m2 0h1m3 0h1m1 0h1m7 0h1m1 0h1m5 0h3m4 0h5m1 0h3m1 0h1m1 0h1m1 0h1m1 0h1m1 0h2m1 0h2m3 0h2m405 0h1m2 0h1m22 0h1m-1393 1h1m11 0h1m2 0h1m2 0h1m11 0h1m5 0h2m2 0h1m1 0h1m1 0h1m2 0h1m4 0h1m1 0h1m3 0h1m1 0h1m6 0h1m1 0h2m1 0h1m1 0h1m2 0h2m3 0h1m4 0h1m2 0h1m7 0h2m2 0h1m2 0h4m1 0h2m2 0h1m4 0h2m45 0h1m218 0h1m5 0h2m1 0h2m3 0h1m1 0h2m1 0h1m1 0h1m2 0h1m381 0h1m5 0h1m1 0h1m3 0h1m4 0h3m4 0h1m2 0h1m6 0h3m3 0h2m1 0h3m1 0h4m3 0h4m4 0h1m1 0h1m1 0h1m1 0h1m1 0h4m1 0h2m1 0h1m2 0h2m2 0h1m1 0h4m2 0h1m1 0h1m2 0h1m4 0h1m1 0h1m1 0h2m1 0h1m1 0h2m7 0h1m2 0h2m1 0h1m9 0h1m3 0h1m1 0h3m6 0h6m3 0h6m3 0h1m2 0h1m388 0h1m19 0h1m23 0h1m-1403 1h1m2 0h1m4 0h1m6 0h2m2 0h1m1 0h1m8 0h1m24 0h1m3 0h1m4 0h1m3 0h1m1 0h1m1 0h2m1 0h1m1 0h1m6 0h1m5 0h1m6 0h1m1 0h1m2 0h2m1 0h1m3 0h1m4 0h1m11 0h1m2 0h1m11 0h1m7 0h1m2 0h1m2 0h1m1 0h1m3 0h1m2 0h1m15 0h1m6 0h1m198 0h1m2 0h1m2 0h1m1 0h1m1 0h2m1 0h1m1 0h3m3 0h1m6 0h1m4 0h2m361 0h1m26 0h1m11 0h2m6 0h4m2 0h1m3 0h1m4 0h3m1 0h1m2 0h1m2 0h8m1 0h1m3 0h3m1 0h1m2 0h4m1 0h1m3 0h1m1 0h1m1 0h1m1 0h2m3 0h3m2 0h3m3 0h2m5 0h1m4 0h3m4 0h2m2 0h2m3 0h1m2 0h1m1 0h2m4 0h2m2 0h7m2 0h2m3 0h3m1 0h2m380 0h1m13 0h1m12 0h1m3 0h1m8 0h1m8 0h1m-1397 1h1m3 0h2m1 0h1m3 0h1m7 0h2m2 0h1m1 0h2m4 0h3m2 0h1m2 0h1m1 0h1m6 0h1m4 0h2m2 0h2m2 0h1m2 0h2m7 0h1m3 0h1m4 0h2m1 0h2m2 0h1m8 0h1m4 0h2m2 0h1m9 0h1m14 0h1m29 0h2m219 0h1m7 0h1m7 0h1m1 0h4m1 0h1m4 0h1m12 0h1m374 0h1m11 0h1m4 0h1m3 0h1m2 0h1m4 0h1m1 0h1m4 0h1m4 0h1m1 0h2m1 0h2m1 0h5m3 0h1m3 0h2m1 0h4m1 0h1m2 0h2m3 0h1m3 0h3m1 0h1m1 0h2m1 0h2m1 0h1m1 0h1m1 0h3m1 0h1m1 0h1m1 0h2m1 0h1m16 0h1m1 0h1m2 0h1m2 0h2m4 0h1m2 0h1m4 0h1m1 0h1m2 0h3m3 0h1m1 0h1m7 0h2m421 0h1m-1392 1h1m18 0h2m2 0h1m3 0h2m2 0h1m10 0h4m11 0h1m1 0h1m1 0h2m2 0h1m2 0h2m3 0h1m3 0h1m1 0h1m3 0h1m2 0h1m2 0h1m2 0h1m2 0h1m6 0h1m4 0h1m3 0h1m2 0h1m2 0h1m4 0h1m4 0h1m24 0h1m4 0h1m11 0h1m12 0h1m211 0h1m2 0h1m1 0h6m2 0h1m2 0h1m2 0h1m2 0h2m10 0h1m371 0h1m7 0h1m3 0h1m3 0h1m3 0h1m5 0h2m1 0h1m1 0h1m1 0h1m3 0h1m1 0h2m1 0h3m4 0h1m1 0h1m1 0h2m1 0h1m1 0h2m1 0h1m1 0h1m2 0h3m2 0h1m1 0h4m3 0h3m1 0h2m1 0h1m1 0h2m1 0h3m6 0h1m1 0h1m3 0h1m1 0h1m3 0h1m9 0h1m10 0h1m2 0h6m1 0h5m7 0h1m3 0h1m1 0h1m3 0h1m1 0h1m391 0h1m4 0h1m6 0h1m2 0h1m-1397 1h1m13 0h1m7 0h1m4 0h1m4 0h1m4 0h1m6 0h1m1 0h1m5 0h1m5 0h2m10 0h5m3 0h1m4 0h1m4 0h1m2 0h2m2 0h2m1 0h1m1 0h2m8 0h1m4 0h1m2 0h1m4 0h1m6 0h1m3 0h1m3 0h1m4 0h1m2 0h2m11 0h1m2 0h1m24 0h1m233 0h1m3 0h3m2 0h1m2 0h1m2 0h1m1 0h2m1 0h1m2 0h1m371 0h1m10 0h1m6 0h2m3 0h2m1 0h1m4 0h1m2 0h1m1 0h2m5 0h2m1 0h1m2 0h1m1 0h2m3 0h1m1 0h5m1 0h1m1 0h2m1 0h3m3 0h3m2 0h4m1 0h2m1 0h1m4 0h1m1 0h1m2 0h2m2 0h2m1 0h3m2 0h1m1 0h2m1 0h1m7 0h1m8 0h1m5 0h1m1 0h1m1 0h2m2 0h1m1 0h4m3 0h1m1 0h1m2 0h3m2 0h3m1 0h1m397 0h1m4 0h1m3 0h1m12 0h1m4 0h1m12 0h1m7 0h1m-1429 1h1m20 0h2m4 0h1m3 0h1m3 0h1m1 0h1m3 0h1m3 0h1m2 0h1m1 0h1m2 0h2m1 0h2m2 0h1m6 0h3m2 0h1m3 0h2m8 0h1m4 0h1m2 0h1m16 0h1m1 0h1m1 0h1m5 0h1m3 0h1m2 0h1m4 0h2m4 0h1m5 0h2m3 0h1m1 0h1m12 0h1m239 0h1m2 0h1m6 0h1m5 0h2m6 0h1m1 0h1m1 0h1m3 0h1m389 0h1m1 0h1m2 0h1m6 0h2m6 0h2m1 0h2m3 0h1m4 0h1m1 0h2m2 0h8m1 0h1m2 0h5m1 0h9m1 0h5m2 0h3m5 0h2m1 0h1m2 0h1m1 0h1m1 0h1m2 0h2m8 0h1m1 0h3m1 0h2m3 0h1m4 0h3m2 0h2m4 0h4m2 0h1m1 0h1m6 0h2m1 0h2m7 0h1m1 0h1m7 0h1m3 0h1m385 0h1m16 0h1m8 0h1m2 0h2m1 0h1m-1419 1h1m7 0h1m12 0h1m2 0h1m2 0h1m4 0h1m2 0h1m11 0h3m7 0h1m3 0h1m5 0h1m1 0h1m1 0h4m1 0h2m1 0h2m13 0h1m2 0h1m2 0h1m5 0h1m11 0h1m3 0h1m4 0h1m1 0h5m7 0h2m34 0h1m3 0h1m3 0h1m218 0h1m2 0h1m1 0h2m5 0h1m1 0h2m5 0h3m2 0h2m4 0h1m373 0h1m8 0h1m15 0h1m1 0h1m1 0h3m2 0h1m1 0h1m1 0h1m1 0h4m4 0h2m1 0h2m1 0h2m1 0h1m1 0h1m4 0h2m1 0h3m3 0h1m1 0h2m1 0h3m1 0h1m1 0h7m2 0h1m1 0h1m1 0h3m3 0h1m1 0h1m5 0h1m2 0h1m8 0h1m4 0h3m8 0h1m2 0h1m2 0h2m1 0h1m1 0h1m2 0h2m2 0h1m4 0h1m2 0h1m1 0h2m4 0h1m5 0h1m391 0h1m4 0h1m11 0h1m9 0h1m29 0h1m-1428 1h1m3 0h1m5 0h1m6 0h2m2 0h3m2 0h1m1 0h1m2 0h1m5 0h1m4 0h1m3 0h2m4 0h2m3 0h1m8 0h2m2 0h1m17 0h1m1 0h4m18 0h1m1 0h1m2 0h2m1 0h2m1 0h1m6 0h3m2 0h1m14 0h1m12 0h1m233 0h1m3 0h1m1 0h1m5 0h2m1 0h2m2 0h2m3 0h2m385 0h1m11 0h1m1 0h3m2 0h1m5 0h2m2 0h1m3 0h1m4 0h1m3 0h1m2 0h5m2 0h2m1 0h1m1 0h3m2 0h3m1 0h4m1 0h5m2 0h5m2 0h1m3 0h5m2 0h2m3 0h1m4 0h1m3 0h1m2 0h2m2 0h1m1 0h4m2 0h1m2 0h2m1 0h1m5 0h1m4 0h1m4 0h1m1 0h1m1 0h3m2 0h1m410 0h1m10 0h1m3 0h1m1 0h2m4 0h2m4 0h1m17 0h1m-1419 1h1m6 0h2m3 0h1m6 0h1m1 0h1m7 0h1m2 0h1m4 0h1m3 0h1m7 0h1m1 0h1m11 0h1m5 0h1m1 0h1m2 0h1m1 0h1m10 0h3m7 0h2m1 0h3m8 0h1m1 0h3m1 0h3m14 0h2m27 0h1m5 0h1m5 0h1m13 0h1m198 0h1m7 0h1m5 0h1m4 0h3m5 0h2m4 0h1m351 0h1m29 0h1m13 0h1m4 0h1m4 0h1m1 0h1m4 0h1m1 0h1m7 0h1m3 0h1m5 0h1m1 0h1m1 0h3m3 0h1m1 0h1m1 0h4m2 0h1m1 0h5m1 0h4m8 0h4m1 0h3m1 0h2m2 0h2m5 0h1m4 0h2m3 0h1m2 0h2m1 0h2m10 0h1m2 0h2m3 0h2m1 0h2m1 0h1m2 0h4m2 0h1m7 0h1m398 0h1m7 0h1m5 0h1m5 0h2m9 0h1m7 0h1m-1412 1h1m3 0h1m5 0h1m9 0h1m3 0h3m2 0h2m5 0h1m2 0h1m4 0h1m4 0h1m1 0h1m1 0h1m1 0h1m2 0h1m4 0h1m3 0h2m9 0h4m2 0h1m18 0h1m2 0h1m1 0h1m1 0h1m3 0h1m1 0h1m1 0h2m1 0h1m266 0h1m1 0h1m2 0h1m2 0h1m1 0h1m1 0h2m1 0h2m2 0h4m1 0h1m4 0h3m38 0h1m344 0h1m15 0h1m3 0h1m8 0h1m7 0h2m1 0h3m2 0h3m2 0h6m4 0h5m1 0h1m4 0h1m2 0h2m1 0h6m1 0h3m1 0h3m1 0h3m5 0h1m1 0h2m1 0h1m1 0h1m3 0h3m1 0h1m2 0h1m2 0h4m2 0h1m6 0h1m3 0h1m8 0h1m12 0h2m416 0h1m4 0h1m12 0h1m-1419 1h1m12 0h1m2 0h1m6 0h2m9 0h1m2 0h1m1 0h1m12 0h2m3 0h1m1 0h2m1 0h2m1 0h1m3 0h1m1 0h1m5 0h1m6 0h1m2 0h2m6 0h2m3 0h1m6 0h1m2 0h1m7 0h2m4 0h1m3 0h1m2 0h2m1 0h1m1 0h4m1 0h2m6 0h1m1 0h1m1 0h1m2 0h1m16 0h1m2 0h1m3 0h1m10 0h1m1 0h1m209 0h1m14 0h2m2 0h2m2 0h1m1 0h1m3 0h1m1 0h1m84 0h1m296 0h1m12 0h1m9 0h1m1 0h1m7 0h1m1 0h2m2 0h1m2 0h3m1 0h2m2 0h3m1 0h2m1 0h1m3 0h1m1 0h7m2 0h2m2 0h5m1 0h1m1 0h1m3 0h4m1 0h1m2 0h2m3 0h4m3 0h2m2 0h2m16 0h1m3 0h1m7 0h1m2 0h3m1 0h1m1 0h1m1 0h1m1 0h1m3 0h1m3 0h1m1 0h1m2 0h1m4 0h1m-976 1h2m2 0h1m2 0h1m4 0h1m5 0h1m1 0h1m2 0h1m5 0h1m1 0h1m3 0h1m2 0h1m10 0h1m3 0h1m3 0h1m1 0h1m2 0h1m4 0h4m4 0h1m2 0h1m2 0h1m3 0h1m4 0h2m8 0h1m2 0h1m7 0h1m2 0h1m4 0h1m1 0h1m1 0h2m1 0h1m1 0h1m1 0h1m1 0h1m16 0h1m15 0h1m236 0h1m1 0h1m2 0h4m1 0h1m1 0h1m1 0h2m11 0h2m379 0h1m11 0h3m2 0h1m5 0h1m5 0h1m1 0h2m4 0h2m5 0h1m2 0h1m1 0h2m1 0h1m1 0h4m1 0h2m1 0h2m2 0h1m1 0h2m3 0h2m1 0h4m1 0h3m1 0h1m4 0h1m4 0h1m2 0h1m1 0h1m1 0h2m2 0h1m1 0h1m1 0h1m2 0h1m1 0h1m3 0h2m2 0h1m6 0h1m6 0h1m1 0h3m3 0h1m1 0h1m4 0h1m1 0h2m1 0h2m428 0h1m8 0h2m-1406 1h1m4 0h1m8 0h1m10 0h2m1 0h1m1 0h2m11 0h4m2 0h2m2 0h1m3 0h2m14 0h1m2 0h1m5 0h1m2 0h2m4 0h1m3 0h1m7 0h1m6 0h1m2 0h1m3 0h13m30 0h1m235 0h1m3 0h1m1 0h3m1 0h1m5 0h1m2 0h1m2 0h1m1 0h1m1 0h1m393 0h3m8 0h1m2 0h1m5 0h2m4 0h2m2 0h1m1 0h3m1 0h1m3 0h2m1 0h1m2 0h1m3 0h6m1 0h2m1 0h1m1 0h5m2 0h2m7 0h1m3 0h1m2 0h1m2 0h1m2 0h1m4 0h1m1 0h1m1 0h1m7 0h1m4 0h2m5 0h1m2 0h2m2 0h1m8 0h1m7 0h2m1 0h1m421 0h1m-1398 1h1m26 0h2m2 0h2m1 0h1m2 0h1m7 0h1m3 0h1m8 0h2m1 0h1m2 0h2m1 0h1m16 0h1m5 0h2m3 0h2m1 0h1m3 0h1m5 0h1m2 0h2m5 0h2m3 0h2m1 0h1m2 0h2m2 0h11m1 0h1m19 0h1m6 0h2m227 0h1m12 0h1m3 0h1m2 0h3m2 0h1m2 0h1m1 0h1m1 0h1m62 0h1m318 0h1m1 0h1m5 0h1m3 0h1m17 0h1m1 0h1m2 0h1m2 0h1m3 0h2m1 0h1m1 0h1m3 0h1m4 0h1m1 0h1m5 0h2m1 0h1m1 0h2m1 0h4m1 0h1m2 0h2m1 0h1m3 0h1m3 0h1m3 0h1m1 0h3m1 0h1m1 0h1m1 0h2m8 0h2m12 0h1m1 0h1m2 0h1m1 0h1m5 0h1m3 0h1m9 0h1m2 0h1m11 0h1m1 0h1m406 0h1m-1397 1h1m7 0h1m2 0h1m2 0h4m1 0h1m6 0h1m2 0h3m7 0h9m2 0h2m3 0h1m8 0h2m1 0h1m2 0h1m2 0h1m5 0h1m4 0h1m1 0h1m2 0h1m7 0h1m7 0h1m3 0h1m1 0h1m6 0h2m1 0h1m2 0h4m1 0h3m1 0h11m37 0h1m240 0h1m2 0h1m1 0h1m363 0h1m31 0h1m10 0h1m10 0h1m3 0h2m5 0h1m3 0h3m1 0h2m1 0h6m1 0h5m1 0h2m3 0h1m1 0h2m2 0h2m5 0h1m2 0h2m4 0h2m1 0h4m2 0h1m5 0h3m3 0h1m11 0h1m1 0h1m1 0h1m1 0h1m24 0h3m2 0h1m4 0h1m2 0h1m1 0h1m418 0h1m15 0h1m-1416 1h1m9 0h1m8 0h1m1 0h2m1 0h2m9 0h1m8 0h1m2 0h1m4 0h1m1 0h1m9 0h5m3 0h1m4 0h1m5 0h1m4 0h1m2 0h1m1 0h2m3 0h1m1 0h1m4 0h1m2 0h1m2 0h1m2 0h1m1 0h4m4 0h11m1 0h1m270 0h1m9 0h1m2 0h1m2 0h1m398 0h1m23 0h2m2 0h1m1 0h3m2 0h1m1 0h2m1 0h1m4 0h1m1 0h1m1 0h2m1 0h1m2 0h2m1 0h1m1 0h1m3 0h1m1 0h1m1 0h2m4 0h4m6 0h1m3 0h1m1 0h1m5 0h1m2 0h1m6 0h1m3 0h1m8 0h2m3 0h2m2 0h1m7 0h1m1 0h2m1 0h1m7 0h1m2 0h1m402 0h1m3 0h1m11 0h1m2 0h1m11 0h1m-1402 1h1m2 0h1m2 0h1m6 0h1m1 0h1m8 0h4m2 0h3m7 0h1m3 0h1m10 0h1m1 0h1m4 0h2m3 0h2m4 0h1m3 0h1m1 0h1m1 0h1m2 0h1m9 0h2m4 0h1m5 0h1m6 0h4m1 0h6m1 0h4m8 0h1m4 0h2m20 0h1m1 0h1m17 0h1m214 0h1m7 0h1m399 0h1m13 0h1m10 0h1m4 0h1m1 0h1m1 0h1m1 0h1m1 0h1m7 0h1m3 0h3m3 0h1m2 0h1m1 0h3m1 0h1m1 0h1m2 0h3m4 0h5m1 0h1m1 0h1m2 0h2m1 0h1m4 0h3m2 0h2m5 0h1m9 0h1m3 0h1m2 0h2m10 0h1m1 0h1m3 0h1m1 0h1m4 0h1m2 0h1m7 0h1m415 0h1m11 0h1m2 0h1m-1401 1h1m6 0h2m5 0h1m1 0h1m1 0h1m1 0h1m2 0h2m1 0h1m5 0h1m1 0h2m1 0h1m7 0h2m1 0h1m1 0h1m4 0h1m2 0h1m1 0h1m6 0h1m2 0h1m4 0h6m2 0h1m5 0h3m3 0h3m6 0h1m2 0h1m1 0h1m2 0h1m1 0h16m1 0h1m38 0h1m240 0h2m2 0h1m2 0h1m2 0h1m5 0h1m90 0h1m291 0h1m3 0h1m12 0h1m2 0h1m3 0h1m3 0h1m1 0h1m2 0h1m1 0h1m4 0h1m7 0h1m1 0h3m2 0h5m2 0h3m2 0h1m6 0h3m5 0h3m2 0h1m1 0h1m1 0h2m4 0h1m11 0h1m6 0h1m10 0h1m1 0h1m5 0h1m4 0h1m3 0h1m1 0h2m1 0h1m435 0h1m9 0h1m1 0h1m-1418 1h1m3 0h2m3 0h3m1 0h1m2 0h2m1 0h2m8 0h3m2 0h1m1 0h2m2 0h1m6 0h1m1 0h1m1 0h2m1 0h1m1 0h1m3 0h1m1 0h1m4 0h4m1 0h1m7 0h2m2 0h1m2 0h1m4 0h1m4 0h1m3 0h3m3 0h2m2 0h1m2 0h16m1 0h2m3 0h1m1 0h1m1 0h1m3 0h1m266 0h1m3 0h1m2 0h1m5 0h1m5 0h1m371 0h1m12 0h1m19 0h1m10 0h1m1 0h1m1 0h1m2 0h1m7 0h1m1 0h2m5 0h1m3 0h1m1 0h1m2 0h2m1 0h6m3 0h4m1 0h2m1 0h1m4 0h3m1 0h1m5 0h1m1 0h1m4 0h1m1 0h1m3 0h2m3 0h1m6 0h1m2 0h1m2 0h1m3 0h1m11 0h2m3 0h1m3 0h1m425 0h1m12 0h1m-1397 1h2m5 0h1m2 0h1m1 0h1m3 0h2m4 0h1m2 0h1m4 0h1m1 0h1m16 0h2m6 0h3m6 0h1m7 0h1m1 0h1m2 0h1m2 0h1m1 0h2m4 0h2m1 0h2m3 0h1m1 0h1m1 0h1m2 0h1m1 0h1m1 0h13m2 0h5m15 0h1m251 0h1m4 0h1m1 0h1m2 0h1m1 0h1m1 0h2m3 0h1m1 0h1m370 0h1m21 0h1m4 0h1m6 0h1m3 0h2m2 0h1m13 0h1m1 0h1m7 0h1m1 0h2m1 0h1m4 0h1m4 0h2m4 0h1m2 0h4m3 0h1m1 0h2m1 0h2m1 0h1m1 0h1m2 0h1m2 0h1m5 0h2m1 0h3m3 0h3m26 0h2m20 0h1m396 0h1m19 0h1m-1396 1h1m3 0h1m6 0h4m6 0h1m3 0h1m6 0h4m2 0h2m2 0h1m3 0h1m2 0h1m6 0h1m14 0h1m6 0h3m2 0h1m1 0h1m3 0h1m7 0h1m1 0h1m3 0h1m2 0h3m4 0h2m1 0h5m1 0h8m1 0h5m1 0h1m2 0h1m11 0h1m10 0h1m8 0h1m5 0h1m223 0h1m12 0h1m1 0h1m2 0h1m3 0h1m1 0h1m1 0h2m2 0h1m373 0h1m9 0h1m25 0h2m9 0h1m3 0h1m3 0h4m2 0h2m9 0h1m2 0h2m1 0h1m1 0h1m2 0h1m1 0h3m4 0h1m1 0h1m1 0h1m1 0h1m1 0h2m1 0h1m2 0h3m8 0h1m3 0h1m7 0h1m13 0h1m3 0h1m2 0h1m2 0h1m4 0h1m410 0h1m22 0h1m-1435 1h1m40 0h1m13 0h1m3 0h2m3 0h1m2 0h3m4 0h2m4 0h1m5 0h1m3 0h2m2 0h2m2 0h1m1 0h1m4 0h1m1 0h1m1 0h1m6 0h1m3 0h1m5 0h4m2 0h2m3 0h2m3 0h3m3 0h8m1 0h2m1 0h5m2 0h5m1 0h1m265 0h1m6 0h1m2 0h2m2 0h1m8 0h1m2 0h1m3 0h1m90 0h1m306 0h2m2 0h1m1 0h1m4 0h1m7 0h3m3 0h2m5 0h2m6 0h2m1 0h1m3 0h1m1 0h4m3 0h1m1 0h1m2 0h1m8 0h3m4 0h1m5 0h1m2 0h1m1 0h2m2 0h2m12 0h1m3 0h1m3 0h1m6 0h1m6 0h1m2 0h2m5 0h1m9 0h1m394 0h1m25 0h1m24 0h1m-1424 1h1m17 0h1m1 0h4m10 0h3m1 0h1m3 0h1m3 0h1m1 0h1m4 0h1m4 0h1m4 0h1m6 0h2m3 0h1m3 0h1m2 0h1m2 0h4m3 0h1m1 0h1m2 0h1m4 0h3m1 0h1m1 0h3m2 0h2m1 0h15m1 0h1m1 0h1m8 0h1m16 0h1m13 0h1m231 0h1m3 0h1m1 0h2m1 0h1m3 0h1m3 0h2m422 0h1m1 0h2m1 0h2m1 0h1m1 0h1m1 0h2m1 0h2m3 0h1m2 0h2m2 0h1m1 0h4m6 0h2m1 0h1m5 0h1m4 0h1m4 0h1m2 0h3m7 0h1m1 0h1m2 0h2m8 0h1m2 0h1m5 0h1m15 0h1m430 0h1m21 0h1m-1427 1h1m18 0h2m2 0h1m7 0h1m2 0h2m1 0h1m3 0h1m4 0h1m1 0h3m4 0h2m1 0h1m2 0h1m2 0h2m2 0h1m3 0h1m4 0h1m9 0h1m1 0h1m3 0h1m3 0h1m1 0h1m1 0h1m1 0h2m2 0h1m2 0h1m2 0h5m1 0h7m1 0h4m2 0h12m1 0h2m2 0h1m276 0h1m1 0h1m1 0h1m4 0h1m5 0h2m1 0h2m54 0h1m307 0h1m3 0h1m21 0h1m1 0h1m1 0h1m5 0h1m9 0h1m1 0h1m2 0h1m1 0h1m1 0h1m2 0h1m5 0h1m4 0h1m1 0h1m2 0h2m1 0h1m1 0h1m1 0h1m4 0h2m1 0h1m1 0h1m1 0h1m5 0h1m4 0h2m4 0h1m8 0h2m1 0h1m1 0h1m1 0h1m16 0h1m5 0h1m17 0h1m2 0h1m417 0h1m6 0h1m-1408 1h1m9 0h1m1 0h1m3 0h1m4 0h1m5 0h1m2 0h1m3 0h2m1 0h2m1 0h1m2 0h1m1 0h1m1 0h1m1 0h1m4 0h1m4 0h1m6 0h4m3 0h1m3 0h1m4 0h1m8 0h2m3 0h2m2 0h2m2 0h1m1 0h1m2 0h1m3 0h1m1 0h8m2 0h2m1 0h2m1 0h5m1 0h2m1 0h2m1 0h2m1 0h1m1 0h1m1 0h1m2 0h2m3 0h1m18 0h1m4 0h1m238 0h2m4 0h1m2 0h1m1 0h3m5 0h2m4 0h2m390 0h1m5 0h1m3 0h1m7 0h2m15 0h1m1 0h3m9 0h1m2 0h1m1 0h1m2 0h1m1 0h1m1 0h3m1 0h2m1 0h1m1 0h1m1 0h2m1 0h1m3 0h1m2 0h2m1 0h2m5 0h1m2 0h2m2 0h1m4 0h1m5 0h1m6 0h1m21 0h1m7 0h1m22 0h1m390 0h1m27 0h1m2 0h1m11 0h1m-1434 1h1m4 0h2m12 0h1m2 0h1m2 0h3m4 0h1m7 0h1m1 0h2m5 0h1m1 0h1m3 0h4m2 0h1m1 0h2m1 0h1m5 0h1m5 0h1m1 0h1m2 0h1m3 0h1m2 0h2m1 0h3m2 0h3m1 0h1m1 0h5m1 0h1m1 0h21m1 0h2m1 0h3m1 0h1m1 0h1m4 0h1m12 0h1m20 0h1m233 0h1m1 0h1m1 0h3m3 0h5m2 0h3m2 0h1m3 0h1m396 0h1m3 0h1m1 0h1m5 0h1m1 0h1m5 0h3m3 0h1m1 0h1m5 0h3m3 0h3m3 0h1m1 0h1m1 0h4m1 0h3m3 0h1m9 0h2m6 0h3m5 0h2m2 0h1m6 0h1m2 0h3m3 0h1m2 0h2m8 0h1m6 0h2m11 0h1m392 0h1m10 0h2m4 0h1m4 0h1m1 0h1m7 0h1m1 0h1m2 0h4m1 0h1m9 0h1m2 0h1m-1450 1h1m21 0h1m3 0h1m1 0h1m6 0h1m2 0h2m9 0h1m2 0h1m2 0h2m1 0h3m1 0h1m2 0h1m5 0h1m4 0h1m1 0h1m8 0h1m1 0h1m7 0h1m2 0h2m2 0h1m1 0h3m8 0h1m1 0h3m1 0h1m1 0h5m2 0h4m1 0h9m1 0h5m1 0h2m1 0h2m1 0h1m1 0h1m2 0h1m7 0h1m259 0h1m5 0h2m4 0h2m1 0h2m1 0h2m2 0h1m1 0h2m1 0h3m3 0h1m79 0h1m5 0h1m297 0h1m8 0h1m8 0h1m6 0h1m1 0h1m2 0h1m5 0h1m5 0h1m3 0h1m10 0h1m2 0h3m1 0h2m2 0h1m2 0h1m2 0h4m1 0h1m2 0h3m4 0h1m6 0h1m9 0h1m7 0h1m12 0h1m3 0h1m47 0h1m366 0h1m10 0h1m1 0h1m5 0h1m1 0h1m2 0h1m2 0h1m2 0h1m13 0h1m20 0h1m-1440 1h1m6 0h1m3 0h1m11 0h2m4 0h1m1 0h1m7 0h1m1 0h1m1 0h1m11 0h2m2 0h2m2 0h1m1 0h1m2 0h3m2 0h1m1 0h1m7 0h6m1 0h5m2 0h1m1 0h1m1 0h2m1 0h1m2 0h25m1 0h1m4 0h2m2 0h2m271 0h3m1 0h12m2 0h1m1 0h1m6 0h1m1 0h1m1 0h1m76 0h1m319 0h1m1 0h1m13 0h2m5 0h1m1 0h1m2 0h2m3 0h2m9 0h1m1 0h2m1 0h2m2 0h1m7 0h1m3 0h2m9 0h1m3 0h2m2 0h1m4 0h1m2 0h1m3 0h1m7 0h1m15 0h1m1 0h1m21 0h1m386 0h1m4 0h1m11 0h3m5 0h1m2 0h1m2 0h2m1 0h1m5 0h1m-1412 1h1m4 0h3m2 0h1m1 0h1m1 0h1m1 0h2m3 0h1m2 0h1m2 0h3m7 0h2m1 0h1m2 0h1m1 0h1m1 0h1m5 0h1m4 0h1m9 0h1m1 0h1m2 0h1m4 0h2m1 0h1m1 0h1m1 0h1m5 0h2m1 0h2m1 0h9m1 0h16m1 0h2m2 0h3m3 0h1m2 0h1m1 0h2m1 0h1m9 0h1m1 0h1m3 0h1m246 0h1m1 0h1m4 0h1m1 0h1m2 0h1m2 0h5m1 0h6m10 0h1m89 0h1m269 0h1m30 0h1m8 0h1m3 0h1m7 0h1m9 0h2m6 0h1m2 0h2m2 0h1m2 0h1m1 0h2m3 0h1m1 0h1m6 0h1m4 0h1m8 0h1m1 0h1m17 0h1m9 0h1m3 0h1m3 0h1m4 0h1m415 0h1m3 0h1m2 0h1m1 0h1m1 0h1m1 0h1m1 0h2m12 0h1m8 0h1m1 0h1m4 0h1m2 0h1m-1424 1h2m2 0h1m3 0h3m2 0h2m1 0h1m3 0h2m3 0h1m5 0h1m4 0h1m2 0h1m1 0h1m2 0h1m3 0h2m5 0h2m1 0h4m3 0h4m2 0h2m3 0h2m1 0h1m5 0h2m1 0h7m1 0h5m2 0h7m1 0h1m1 0h1m1 0h2m2 0h4m1 0h1m1 0h7m1 0h1m2 0h1m1 0h1m1 0h1m2 0h1m12 0h1m17 0h1m237 0h1m5 0h2m1 0h1m1 0h2m1 0h5m1 0h3m1 0h1m1 0h1m7 0h1m69 0h1m330 0h1m1 0h2m24 0h1m1 0h1m1 0h1m3 0h2m2 0h1m1 0h1m2 0h2m5 0h1m3 0h1m14 0h2m3 0h1m3 0h2m3 0h1m15 0h1m8 0h1m19 0h1m395 0h1m4 0h3m3 0h1m2 0h2m3 0h5m1 0h1m6 0h5m2 0h2m1 0h1m2 0h1m8 0h2m20 0h1m-1454 1h1m9 0h2m1 0h1m3 0h1m1 0h1m5 0h2m1 0h2m2 0h1m3 0h2m4 0h1m4 0h1m5 0h1m1 0h4m4 0h1m1 0h1m3 0h2m1 0h1m2 0h4m2 0h1m6 0h1m1 0h3m1 0h2m1 0h1m1 0h11m1 0h8m1 0h4m1 0h5m1 0h8m2 0h2m5 0h2m25 0h1m20 0h1m216 0h1m2 0h1m2 0h1m2 0h3m1 0h4m2 0h9m3 0h2m411 0h1m7 0h1m8 0h2m1 0h1m6 0h1m4 0h2m2 0h1m1 0h1m2 0h2m9 0h1m9 0h1m3 0h1m26 0h1m32 0h1m12 0h1m378 0h1m2 0h1m2 0h1m3 0h1m3 0h1m4 0h3m1 0h1m1 0h1m1 0h2m1 0h1m2 0h2m1 0h2m1 0h2m2 0h1m1 0h1m14 0h1m-1432 1h1m4 0h3m3 0h1m1 0h1m1 0h1m1 0h3m5 0h2m2 0h2m3 0h1m2 0h3m1 0h1m4 0h1m1 0h1m3 0h5m1 0h2m3 0h1m1 0h6m1 0h3m1 0h5m3 0h2m1 0h4m1 0h3m1 0h4m1 0h4m2 0h20m1 0h3m1 0h3m2 0h1m2 0h1m37 0h1m6 0h1m3 0h1m13 0h1m206 0h1m1 0h1m1 0h1m2 0h5m1 0h3m1 0h1m1 0h1m1 0h2m1 0h1m1 0h1m3 0h1m13 0h1m382 0h1m13 0h1m19 0h1m1 0h1m1 0h1m3 0h1m2 0h1m2 0h1m4 0h3m4 0h1m2 0h1m3 0h1m11 0h1m5 0h2m1 0h1m4 0h1m9 0h1m36 0h1m392 0h2m1 0h1m1 0h1m4 0h3m1 0h1m2 0h2m1 0h4m1 0h5m1 0h1m1 0h2m1 0h5m4 0h2m4 0h1m7 0h1m-1433 1h1m1 0h2m3 0h1m2 0h1m2 0h2m1 0h4m2 0h5m5 0h2m5 0h1m1 0h1m2 0h1m3 0h1m2 0h1m1 0h1m3 0h1m2 0h2m2 0h7m2 0h1m1 0h1m3 0h2m2 0h5m1 0h1m1 0h2m1 0h6m1 0h2m1 0h1m1 0h17m3 0h1m1 0h4m2 0h2m4 0h1m4 0h1m15 0h1m9 0h1m239 0h1m3 0h2m1 0h5m2 0h3m1 0h2m1 0h7m1 0h3m3 0h1m6 0h1m64 0h1m315 0h1m11 0h1m5 0h1m1 0h1m9 0h1m13 0h1m13 0h1m1 0h1m9 0h2m2 0h2m1 0h1m10 0h1m4 0h1m1 0h1m3 0h1m12 0h1m26 0h1m33 0h1m365 0h1m3 0h2m2 0h3m1 0h1m2 0h1m1 0h1m1 0h3m1 0h4m2 0h2m1 0h2m1 0h2m2 0h2m3 0h2m1 0h1m2 0h2m3 0h4m-1434 1h1m1 0h1m5 0h1m2 0h1m1 0h1m2 0h2m1 0h4m1 0h4m3 0h2m4 0h3m6 0h2m3 0h3m2 0h1m1 0h5m1 0h10m1 0h2m1 0h9m1 0h4m2 0h1m1 0h2m1 0h1m1 0h13m1 0h1m1 0h4m3 0h3m3 0h6m1 0h1m279 0h1m1 0h2m2 0h3m1 0h6m1 0h4m1 0h4m4 0h1m44 0h1m352 0h1m17 0h1m6 0h2m3 0h1m3 0h2m18 0h2m6 0h1m16 0h1m4 0h1m5 0h1m2 0h1m65 0h1m369 0h1m2 0h1m9 0h3m1 0h1m1 0h4m3 0h2m1 0h3m1 0h1m1 0h6m9 0h1m5 0h1m7 0h1m1 0h1m4 0h1m-1444 1h1m3 0h1m2 0h8m1 0h6m1 0h1m3 0h1m2 0h1m1 0h3m1 0h1m4 0h3m1 0h8m2 0h2m1 0h12m1 0h14m1 0h12m1 0h5m2 0h6m2 0h1m1 0h2m1 0h1m1 0h2m1 0h3m2 0h1m1 0h3m1 0h1m3 0h1m7 0h1m40 0h1m3 0h2m218 0h1m2 0h1m2 0h1m1 0h11m1 0h7m2 0h4m362 0h1m18 0h1m47 0h2m7 0h2m7 0h1m4 0h1m1 0h1m1 0h1m4 0h1m2 0h1m1 0h1m4 0h1m17 0h1m1 0h3m10 0h1m9 0h1m5 0h1m14 0h1m392 0h1m2 0h3m1 0h1m1 0h1m2 0h1m2 0h1m1 0h2m1 0h1m1 0h6m2 0h13m1 0h5m1 0h4m9 0h1m-1437 1h1m4 0h18m1 0h2m2 0h2m1 0h3m1 0h6m2 0h1m1 0h4m2 0h6m3 0h10m1 0h4m1 0h4m2 0h4m1 0h12m1 0h3m1 0h1m1 0h2m1 0h1m3 0h5m2 0h1m1 0h3m2 0h1m1 0h1m5 0h1m31 0h1m31 0h1m213 0h1m4 0h7m1 0h3m1 0h15m5 0h1m3 0h1m50 0h1m347 0h1m6 0h1m5 0h1m16 0h1m3 0h1m8 0h2m16 0h1m2 0h1m2 0h1m4 0h2m2 0h1m9 0h1m38 0h1m395 0h1m3 0h2m3 0h3m1 0h2m1 0h2m1 0h3m2 0h3m1 0h3m1 0h3m1 0h4m1 0h1m1 0h6m3 0h1m4 0h3m-1437 1h1m1 0h3m1 0h28m1 0h4m1 0h3m2 0h1m4 0h2m1 0h1m1 0h6m2 0h2m1 0h8m1 0h7m1 0h1m1 0h3m1 0h4m2 0h3m1 0h1m1 0h5m1 0h10m1 0h4m1 0h1m1 0h1m1 0h1m1 0h1m2 0h1m2 0h1m33 0h1m246 0h3m1 0h3m1 0h19m2 0h3m408 0h1m1 0h1m21 0h1m12 0h1m4 0h1m1 0h1m1 0h1m1 0h1m8 0h1m10 0h1m6 0h1m6 0h1m10 0h1m10 0h2m413 0h1m3 0h2m2 0h1m1 0h1m1 0h1m3 0h1m1 0h11m7 0h7m1 0h1m2 0h1m3 0h1m2 0h1m1 0h2m2 0h1m1 0h1m4 0h1m-1445 1h1m3 0h1m1 0h24m1 0h4m1 0h3m1 0h7m2 0h11m1 0h2m1 0h7m1 0h6m1 0h14m1 0h1m1 0h17m1 0h1m2 0h1m1 0h4m1 0h4m1 0h4m1 0h1m1 0h2m1 0h2m3 0h1m32 0h1m245 0h1m1 0h2m1 0h19m4 0h1m413 0h1m10 0h1m4 0h2m7 0h1m10 0h1m1 0h1m15 0h1m5 0h1m21 0h1m24 0h1m404 0h1m2 0h2m1 0h2m1 0h1m1 0h3m2 0h5m2 0h5m2 0h1m1 0h3m1 0h3m1 0h4m1 0h7m1 0h3m1 0h1m2 0h3m1 0h2m10 0h1m-1459 1h1m9 0h1m1 0h33m2 0h2m1 0h1m1 0h17m1 0h10m3 0h3m2 0h1m3 0h2m1 0h1m1 0h3m1 0h2m1 0h3m2 0h4m1 0h2m2 0h4m2 0h1m7 0h1m2 0h2m2 0h1m2 0h1m4 0h1m81 0h1m194 0h1m3 0h1m1 0h10m1 0h7m1 0h4m1 0h1m1 0h1m1 0h2m1 0h1m416 0h1m18 0h1m5 0h1m4 0h2m3 0h1m4 0h1m3 0h2m49 0h1m410 0h1m3 0h2m3 0h4m1 0h2m2 0h9m1 0h2m1 0h4m1 0h15m1 0h2m2 0h1m2 0h3m-1440 1h3m1 0h5m1 0h25m1 0h8m1 0h7m1 0h3m1 0h10m1 0h8m1 0h1m1 0h2m1 0h4m3 0h1m1 0h2m1 0h3m1 0h2m1 0h1m3 0h4m2 0h2m1 0h1m1 0h3m2 0h1m1 0h3m6 0h1m14 0h1m30 0h1m16 0h1m6 0h1m4 0h1m18 0h1m184 0h1m2 0h1m2 0h1m3 0h5m2 0h15m1 0h3m1 0h2m383 0h1m17 0h1m29 0h2m4 0h1m13 0h1m3 0h1m24 0h1m18 0h1m43 0h1m385 0h1m1 0h3m1 0h1m1 0h1m1 0h4m1 0h5m1 0h1m1 0h11m1 0h4m1 0h4m1 0h1m1 0h3m1 0h1m10 0h1m8 0h1m-1453 1h1m1 0h1m4 0h41m1 0h1m1 0h2m1 0h11m1 0h9m2 0h6m1 0h12m1 0h7m1 0h1m2 0h3m1 0h1m2 0h2m1 0h3m2 0h1m1 0h3m65 0h1m23 0h1m5 0h1m196 0h3m1 0h24m1 0h1m2 0h1m386 0h1m20 0h1m4 0h1m16 0h1m3 0h1m14 0h2m5 0h1m3 0h1m19 0h1m5 0h1m7 0h1m5 0h1m22 0h1m403 0h2m2 0h7m1 0h1m1 0h2m1 0h2m3 0h2m1 0h17m1 0h1m3 0h1m1 0h1m1 0h1m6 0h1m4 0h1m-1438 1h1m1 0h30m1 0h16m1 0h6m1 0h1m1 0h1m1 0h3m1 0h5m1 0h6m1 0h3m1 0h1m1 0h4m1 0h3m1 0h5m7 0h1m3 0h2m3 0h1m1 0h1m13 0h1m12 0h1m20 0h1m39 0h1m8 0h1m200 0h2m3 0h2m2 0h14m1 0h2m3 0h1m2 0h1m1 0h1m2 0h1m381 0h1m57 0h1m3 0h2m8 0h1m10 0h1m460 0h2m6 0h1m2 0h1m2 0h3m1 0h7m1 0h1m2 0h6m1 0h1m3 0h2m1 0h1m5 0h2m2 0h1m1 0h1m9 0h1m-1445 1h43m1 0h1m1 0h10m1 0h1m1 0h8m1 0h3m1 0h1m1 0h5m1 0h10m2 0h2m2 0h1m4 0h1m5 0h1m1 0h1m3 0h1m5 0h2m10 0h1m29 0h1m8 0h1m9 0h1m7 0h1m23 0h1m2 0h1m6 0h1m196 0h1m1 0h2m2 0h4m1 0h5m1 0h8m2 0h2m2 0h1m1 0h1m414 0h1m5 0h1m9 0h1m4 0h1m6 0h1m13 0h1m4 0h1m6 0h1m9 0h1m47 0h1m407 0h3m2 0h2m1 0h1m3 0h4m1 0h11m1 0h1m3 0h6m2 0h2m1 0h1m4 0h1m4 0h1m3 0h1m-1449 1h3m1 0h1m1 0h30m1 0h8m1 0h13m1 0h4m1 0h2m1 0h5m1 0h3m1 0h7m1 0h2m2 0h2m4 0h1m1 0h1m2 0h2m7 0h1m1 0h2m4 0h1m1 0h1m8 0h1m35 0h1m15 0h1m8 0h1m15 0h2m209 0h6m1 0h3m1 0h8m1 0h3m1 0h5m1 0h1m1 0h2m2 0h1m414 0h1m1 0h1m15 0h1m6 0h1m13 0h1m1 0h1m5 0h1m4 0h1m458 0h1m3 0h1m5 0h2m3 0h1m2 0h1m1 0h1m2 0h2m1 0h1m1 0h1m1 0h4m1 0h2m4 0h2m2 0h1m1 0h3m1 0h2m1 0h1m10 0h2m8 0h1m-1451 1h2m1 0h32m1 0h4m1 0h1m1 0h3m1 0h1m2 0h9m1 0h7m1 0h2m2 0h2m1 0h4m5 0h1m2 0h1m1 0h1m1 0h1m2 0h1m4 0h1m2 0h1m2 0h1m67 0h1m26 0h1m5 0h2m206 0h1m4 0h2m1 0h4m1 0h9m2 0h6m1 0h1m390 0h1m27 0h1m30 0h1m33 0h1m448 0h3m5 0h1m1 0h2m1 0h1m3 0h1m1 0h4m1 0h1m1 0h2m1 0h1m2 0h2m3 0h3m1 0h1m3 0h4m1 0h1m3 0h1m3 0h3m-1440 1h1m1 0h36m2 0h10m2 0h1m1 0h1m1 0h2m7 0h2m1 0h1m1 0h1m1 0h1m1 0h1m3 0h3m1 0h2m2 0h2m3 0h1m1 0h1m4 0h1m6 0h1m14 0h1m4 0h1m51 0h1m5 0h1m24 0h1m198 0h1m9 0h1m5 0h13m1 0h10m1 0h1m7 0h1m45 0h1m364 0h1m86 0h1m422 0h1m3 0h2m2 0h1m1 0h1m4 0h2m1 0h2m2 0h3m1 0h9m1 0h3m1 0h2m4 0h1m3 0h2m2 0h1m4 0h1m-1432 1h20m1 0h7m3 0h1m1 0h2m1 0h4m1 0h3m1 0h2m1 0h2m4 0h2m2 0h4m2 0h1m1 0h3m3 0h2m3 0h2m1 0h1m2 0h1m5 0h1m1 0h1m5 0h1m1 0h2m66 0h1m4 0h1m3 0h1m2 0h2m9 0h1m2 0h2m219 0h1m3 0h2m1 0h9m1 0h6m1 0h5m1 0h1m57 0h1m382 0h1m9 0h1m67 0h1m12 0h1m401 0h1m2 0h1m2 0h1m1 0h1m2 0h2m1 0h1m1 0h1m4 0h2m1 0h1m3 0h1m1 0h2m3 0h1m4 0h1m6 0h1m1 0h2m16 0h1m-1449 1h36m3 0h6m1 0h3m1 0h3m2 0h1m1 0h5m2 0h1m1 0h1m1 0h2m3 0h2m2 0h1m5 0h2m4 0h1m1 0h1m12 0h1m76 0h1m3 0h1m23 0h1m210 0h10m2 0h5m1 0h4m1 0h1m2 0h1m6 0h1m489 0h2m18 0h1m416 0h1m3 0h1m3 0h1m2 0h1m4 0h3m3 0h2m1 0h1m2 0h1m1 0h2m5 0h1m15 0h1m5 0h1m12 0h1m-1456 1h1m1 0h1m2 0h30m1 0h3m1 0h8m1 0h1m2 0h2m2 0h1m2 0h6m2 0h1m3 0h1m2 0h2m2 0h4m2 0h1m2 0h1m2 0h1m9 0h1m5 0h1m15 0h1m58 0h1m1 0h1m2 0h1m9 0h1m8 0h1m14 0h1m190 0h1m6 0h5m3 0h15m1 0h2m1 0h1m3 0h1m395 0h1m15 0h1m25 0h1m2 0h1m31 0h1m7 0h1m6 0h1m443 0h1m3 0h1m3 0h1m2 0h1m1 0h1m3 0h1m3 0h1m6 0h1m3 0h1m2 0h1m2 0h1m1 0h1m3 0h1m15 0h1m-1441 1h3m4 0h17m1 0h4m1 0h3m1 0h2m4 0h2m2 0h3m1 0h1m8 0h1m1 0h1m3 0h1m3 0h2m1 0h1m2 0h1m9 0h1m1 0h1m2 0h1m2 0h1m98 0h1m228 0h1m2 0h1m5 0h1m1 0h10m1 0h1m2 0h1m5 0h1m417 0h1m16 0h1m495 0h1m6 0h2m3 0h3m4 0h1m2 0h1m3 0h1m7 0h1m1 0h1m22 0h1m-1440 1h2m1 0h2m2 0h6m1 0h11m1 0h1m2 0h3m4 0h1m1 0h3m3 0h1m1 0h2m9 0h1m4 0h2m1 0h1m1 0h1m1 0h1m2 0h1m2 0h1m93 0h1m15 0h1m12 0h1m3 0h1m1 0h1m14 0h1m195 0h1m4 0h1m1 0h3m1 0h3m1 0h4m2 0h7m1 0h1m2 0h1m3 0h1m10 0h1m416 0h1m35 0h1m40 0h1m428 0h1m12 0h1m1 0h1m5 0h1m5 0h1m3 0h2m2 0h1m1 0h1m4 0h1m3 0h1m-1438 1h1m8 0h1m2 0h8m1 0h6m1 0h2m1 0h1m2 0h4m3 0h3m6 0h1m2 0h1m6 0h1m11 0h1m6 0h1m81 0h1m30 0h1m25 0h2m7 0h1m189 0h1m5 0h1m2 0h2m2 0h1m2 0h2m1 0h1m2 0h8m6 0h2m5 0h1m923 0h1m23 0h3m11 0h1m-1412 1h1m2 0h1m1 0h1m1 0h7m2 0h1m1 0h2m2 0h2m1 0h1m2 0h1m1 0h2m8 0h2m1 0h1m2 0h1m24 0h1m13 0h1m66 0h1m24 0h1m43 0h1m188 0h1m3 0h2m1 0h4m1 0h10m1 0h1m2 0h1m2 0h1m11 0h1m471 0h1m43 0h1m407 0h1m1 0h1m5 0h1m1 0h1m5 0h1m10 0h2m8 0h1m-1411 1h3m1 0h1m2 0h1m6 0h1m6 0h1m16 0h1m1 0h1m10 0h1m14 0h1m1 0h1m329 0h1m7 0h1m3 0h3m1 0h2m3 0h5m1 0h1m1 0h3m2 0h1m1 0h1m1 0h1m2 0h1m3 0h1m71 0h1m372 0h1m17 0h1m33 0h1m453 0h1m8 0h1m9 0h1m-1407 1h1m6 0h1m1 0h3m1 0h4m3 0h1m7 0h1m3 0h1m9 0h1m19 0h1m5 0h1m335 0h1m4 0h7m1 0h1m1 0h2m2 0h4m1 0h1m3 0h1m447 0h1m505 0h1m3 0h1m-1400 1h1m6 0h1m3 0h1m10 0h1m14 0h2m3 0h1m7 0h1m362 0h2m1 0h2m1 0h1m1 0h4m2 0h1m1 0h1m2 0h1m1 0h1m489 0h1m473 0h1m12 0h1m-1413 1h1m6 0h1m5 0h1m1 0h1m35 0h1m105 0h1m3 0h1m250 0h1m5 0h1m1 0h1m2 0h1m1 0h1m1 0h2m1 0h1m6 0h1m-439 1h1m13 0h3m1 0h1m31 0h1m9 0h1m361 0h2m1 0h2m2 0h1m1 0h2m2 0h1m1 0h1m2 0h1m501 0h1m-930 1h1m175 0h1m216 0h1m12 0h2m1 0h1m1 0h1m2 0h1m1 0h4m1 0h1m1 0h1m2 0h1m-422 1h1m151 0h1m241 0h1m2 0h1m5 0h1m1 0h3m6 0h3m2 0h1m-16 1h2m5 0h2m1 0h5m974 0h1m-1007 1h1m2 0h1m6 0h1m5 0h1m2 0h1m2 0h2m2 0h2m11 0h1m448 0h1m-476 1h1m1 0h1m5 0h1m1 0h1m2 0h2m2 0h1m-15 1h1m2 0h1m5 0h1m2 0h1m3 0h1m6 0h1m-30 1h1m12 0h2m3 0h1m3 0h2m-21 1h1m11 0h1m5 0h1m-18 1h1m3 0h1m2 0h1m1 0h2m11 0h1m6 0h1m501 0h1m-532 1h1m1 0h1m10 0h1m1 0h1m-15 1h1m18 0h1m-11 2h1m1 2h1m3 0h1m-6 1h1m-275 2h1m263 0h1m14 0h1m-256 1h1m255 0h1m-220 4h1m-72 2h1m11 0h1m17 2h1m-44 16h1" stroke="#000" stroke-width="1" fill="none" shape-rendering="crispEdges"/>
<rect x="322.3" y="0.5" width="288" height="287.5" fill="none" stroke="#111" stroke-width="1.5"/>
<path d="M314.7 269.3H322.3M339.4 288V295.6M314.7 174.7H322.3M434 288V295.6M314.7 96.3H322.3M512.4 288V295.6M314.7 27.6H322.3M581.1 288V295.6" stroke="#111" stroke-width="2" fill="none"/>
<path d="M380 288h13.3v3.6h-13.3zM380.05 288h2.1v7.5h-2.1zM383 288h1.4v5.2h-1.4zM385.1 288h2.6v7.3h-2.6zM388.8 288h1.4v5h-1.4zM390.9 288h2.2v7.5h-2.2zM322.3 215.6v12.9h-3.6v-12.9zM322.3 215.55v2.1h-7.8v-2.1zM322.3 218.5v1.4h-5.2v-1.4zM322.3 220.9v2.6h-7.6v-2.6zM322.3 224.3v1.4h-5v-1.4zM322.3 226.35v2.1h-7.8v-2.1z" fill="#111"/>
<path d="M318.7 265.8H322.3M342.9 288V291.6M318.7 262H322.3M346.7 288V291.6M318.7 257.5H322.3M351.2 288V291.6M318.7 253H322.3M355.7 288V291.6M316.7 248.3H322.3M360.4 288V293.6M318.7 243.9H322.3M364.8 288V291.6M318.7 238.6H322.3M370.1 288V291.6M318.7 233H322.3M375.7 288V291.6M318.7 227.6H322.3M381.1 288V291.6M318.7 216.4H322.3M392.3 288V291.6M318.7 211H322.3M397.7 288V291.6M318.7 205.4H322.3M403.3 288V291.6M318.7 200.1H322.3M408.6 288V291.6M316.7 195.7H322.3M413 288V293.6M318.7 191H322.3M417.7 288V291.6M318.7 186.5H322.3M422.2 288V291.6M318.7 182H322.3M426.7 288V291.6M318.7 178.2H322.3M430.5 288V291.6M318.7 149.7H322.3M459 288V291.6M318.7 135.4H322.3M473.3 288V291.6M318.7 125H322.3M483.7 288V291.6M316.7 117.5H322.3M491.2 288V293.6M318.7 111.5H322.3M497.2 288V291.6M318.7 106.3H322.3M502.4 288V291.6M318.7 102H322.3M506.7 288V291.6M318.7 98.9H322.3M509.8 288V291.6M318.7 75.62H322.3M533.08 288V291.6M318.7 63.52H322.3M545.18 288V291.6M318.7 54.94H322.3M553.76 288V291.6M316.7 48.28H322.3M560.42 288V293.6M318.7 42.84H322.3M565.86 288V291.6M318.7 38.24H322.3M570.46 288V291.6M318.7 34.26H322.3M574.44 288V291.6M318.7 30.74H322.3M577.96 288V291.6M318.7 6.92H322.3M601.78 288V291.6" stroke="#1a1a1a" stroke-width="1.3" fill="none"/>
<g fill="#111" stroke="#111" stroke-width="0.35"><text x="282.29" y="37.1" font-size="15.8" textLength="17.52" lengthAdjust="spacingAndGlyphs" fill="#111">10</text><text x="300.43" y="27" font-size="15.8" textLength="8.76" lengthAdjust="spacingAndGlyphs" fill="#111">5</text><text x="282.29" y="105.8" font-size="15.8" textLength="17.52" lengthAdjust="spacingAndGlyphs" fill="#111">10</text><text x="300.74" y="95.7" font-size="15.8" textLength="8.76" lengthAdjust="spacingAndGlyphs" fill="#111">4</text><text x="282.29" y="184.2" font-size="15.8" textLength="17.52" lengthAdjust="spacingAndGlyphs" fill="#111">10</text><text x="300.59" y="174.1" font-size="15.8" textLength="8.76" lengthAdjust="spacingAndGlyphs" fill="#111">3</text><text x="277.09" y="278.8" font-size="15.8" textLength="22.76" lengthAdjust="spacingAndGlyphs" fill="#111">-10</text><text x="300.59" y="268.7" font-size="15.8" textLength="8.76" lengthAdjust="spacingAndGlyphs" fill="#111">3</text><text x="291.31" y="228" font-size="15.8" textLength="8.76" lengthAdjust="spacingAndGlyphs" fill="#111">0</text><text x="430.76" y="317.6" font-size="15.8" textLength="17.52" lengthAdjust="spacingAndGlyphs" fill="#111">10</text><text x="448.69" y="307.6" font-size="15.8" textLength="8.76" lengthAdjust="spacingAndGlyphs" fill="#111">3</text><text x="509.16" y="317.6" font-size="15.8" textLength="17.52" lengthAdjust="spacingAndGlyphs" fill="#111">10</text><text x="527.24" y="307.6" font-size="15.8" textLength="8.76" lengthAdjust="spacingAndGlyphs" fill="#111">4</text><text x="577.86" y="317.6" font-size="15.8" textLength="17.52" lengthAdjust="spacingAndGlyphs" fill="#111">10</text><text x="595.63" y="307.6" font-size="15.8" textLength="8.76" lengthAdjust="spacingAndGlyphs" fill="#111">5</text><text x="333.92" y="317.6" font-size="15.8" textLength="22.76" lengthAdjust="spacingAndGlyphs" fill="#111">-10</text><text x="357.89" y="307.6" font-size="15.8" textLength="8.76" lengthAdjust="spacingAndGlyphs" fill="#111">3</text><text x="386.57" y="317.6" font-size="15.8" textLength="8.76" lengthAdjust="spacingAndGlyphs" fill="#111">0</text></g>
<rect x="735.6" y="0.5" width="288" height="287.5" fill="none" stroke="#111" stroke-width="1.5"/>
<path d="M728 269.3H735.6M752.7 288V295.6M728 174.7H735.6M847.3 288V295.6M728 96.3H735.6M925.7 288V295.6M728 27.6H735.6M994.4 288V295.6" stroke="#111" stroke-width="2" fill="none"/>
<path d="M793.3 288h13.3v3.6h-13.3zM793.35 288h2.1v7.5h-2.1zM796.3 288h1.4v5.2h-1.4zM798.4 288h2.6v7.3h-2.6zM802.1 288h1.4v5h-1.4zM804.2 288h2.2v7.5h-2.2zM735.6 215.6v12.9h-3.6v-12.9zM735.6 215.55v2.1h-7.8v-2.1zM735.6 218.5v1.4h-5.2v-1.4zM735.6 220.9v2.6h-7.6v-2.6zM735.6 224.3v1.4h-5v-1.4zM735.6 226.35v2.1h-7.8v-2.1z" fill="#111"/>
<path d="M732 265.8H735.6M756.2 288V291.6M732 262H735.6M760 288V291.6M732 257.5H735.6M764.5 288V291.6M732 253H735.6M769 288V291.6M730 248.3H735.6M773.7 288V293.6M732 243.9H735.6M778.1 288V291.6M732 238.6H735.6M783.4 288V291.6M732 233H735.6M789 288V291.6M732 227.6H735.6M794.4 288V291.6M732 216.4H735.6M805.6 288V291.6M732 211H735.6M811 288V291.6M732 205.4H735.6M816.6 288V291.6M732 200.1H735.6M821.9 288V291.6M730 195.7H735.6M826.3 288V293.6M732 191H735.6M831 288V291.6M732 186.5H735.6M835.5 288V291.6M732 182H735.6M840 288V291.6M732 178.2H735.6M843.8 288V291.6M732 149.7H735.6M872.3 288V291.6M732 135.4H735.6M886.6 288V291.6M732 125H735.6M897 288V291.6M730 117.5H735.6M904.5 288V293.6M732 111.5H735.6M910.5 288V291.6M732 106.3H735.6M915.7 288V291.6M732 102H735.6M920 288V291.6M732 98.9H735.6M923.1 288V291.6M732 75.62H735.6M946.38 288V291.6M732 63.52H735.6M958.48 288V291.6M732 54.94H735.6M967.06 288V291.6M730 48.28H735.6M973.72 288V293.6M732 42.84H735.6M979.16 288V291.6M732 38.24H735.6M983.76 288V291.6M732 34.26H735.6M987.74 288V291.6M732 30.74H735.6M991.26 288V291.6M732 6.92H735.6M1015.08 288V291.6" stroke="#1a1a1a" stroke-width="1.3" fill="none"/>
<g fill="#111" stroke="#111" stroke-width="0.35"><text x="695.59" y="37.1" font-size="15.8" textLength="17.52" lengthAdjust="spacingAndGlyphs" fill="#111">10</text><text x="713.73" y="27" font-size="15.8" textLength="8.76" lengthAdjust="spacingAndGlyphs" fill="#111">5</text><text x="695.59" y="105.8" font-size="15.8" textLength="17.52" lengthAdjust="spacingAndGlyphs" fill="#111">10</text><text x="714.04" y="95.7" font-size="15.8" textLength="8.76" lengthAdjust="spacingAndGlyphs" fill="#111">4</text><text x="695.59" y="184.2" font-size="15.8" textLength="17.52" lengthAdjust="spacingAndGlyphs" fill="#111">10</text><text x="713.88" y="174.1" font-size="15.8" textLength="8.76" lengthAdjust="spacingAndGlyphs" fill="#111">3</text><text x="690.39" y="278.8" font-size="15.8" textLength="22.76" lengthAdjust="spacingAndGlyphs" fill="#111">-10</text><text x="713.88" y="268.7" font-size="15.8" textLength="8.76" lengthAdjust="spacingAndGlyphs" fill="#111">3</text><text x="704.61" y="228" font-size="15.8" textLength="8.76" lengthAdjust="spacingAndGlyphs" fill="#111">0</text><text x="844.05" y="317.6" font-size="15.8" textLength="17.52" lengthAdjust="spacingAndGlyphs" fill="#111">10</text><text x="861.98" y="307.6" font-size="15.8" textLength="8.76" lengthAdjust="spacingAndGlyphs" fill="#111">3</text><text x="922.46" y="317.6" font-size="15.8" textLength="17.52" lengthAdjust="spacingAndGlyphs" fill="#111">10</text><text x="940.54" y="307.6" font-size="15.8" textLength="8.76" lengthAdjust="spacingAndGlyphs" fill="#111">4</text><text x="991.15" y="317.6" font-size="15.8" textLength="17.52" lengthAdjust="spacingAndGlyphs" fill="#111">10</text><text x="1008.93" y="307.6" font-size="15.8" textLength="8.76" lengthAdjust="spacingAndGlyphs" fill="#111">5</text><text x="747.22" y="317.6" font-size="15.8" textLength="22.76" lengthAdjust="spacingAndGlyphs" fill="#111">-10</text><text x="771.18" y="307.6" font-size="15.8" textLength="8.76" lengthAdjust="spacingAndGlyphs" fill="#111">3</text><text x="799.87" y="317.6" font-size="15.8" textLength="8.76" lengthAdjust="spacingAndGlyphs" fill="#111">0</text></g>
<rect x="1151" y="0.5" width="288" height="287.5" fill="none" stroke="#111" stroke-width="1.5"/>
<path d="M1143.4 269.3H1151M1168.1 288V295.6M1143.4 174.7H1151M1262.7 288V295.6M1143.4 96.3H1151M1341.1 288V295.6M1143.4 27.6H1151M1409.8 288V295.6" stroke="#111" stroke-width="2" fill="none"/>
<path d="M1208.7 288h13.3v3.6h-13.3zM1208.75 288h2.1v7.5h-2.1zM1211.7 288h1.4v5.2h-1.4zM1213.8 288h2.6v7.3h-2.6zM1217.5 288h1.4v5h-1.4zM1219.6 288h2.2v7.5h-2.2zM1151 215.6v12.9h-3.6v-12.9zM1151 215.55v2.1h-7.8v-2.1zM1151 218.5v1.4h-5.2v-1.4zM1151 220.9v2.6h-7.6v-2.6zM1151 224.3v1.4h-5v-1.4zM1151 226.35v2.1h-7.8v-2.1z" fill="#111"/>
<path d="M1147.4 265.8H1151M1171.6 288V291.6M1147.4 262H1151M1175.4 288V291.6M1147.4 257.5H1151M1179.9 288V291.6M1147.4 253H1151M1184.4 288V291.6M1145.4 248.3H1151M1189.1 288V293.6M1147.4 243.9H1151M1193.5 288V291.6M1147.4 238.6H1151M1198.8 288V291.6M1147.4 233H1151M1204.4 288V291.6M1147.4 227.6H1151M1209.8 288V291.6M1147.4 216.4H1151M1221 288V291.6M1147.4 211H1151M1226.4 288V291.6M1147.4 205.4H1151M1232 288V291.6M1147.4 200.1H1151M1237.3 288V291.6M1145.4 195.7H1151M1241.7 288V293.6M1147.4 191H1151M1246.4 288V291.6M1147.4 186.5H1151M1250.9 288V291.6M1147.4 182H1151M1255.4 288V291.6M1147.4 178.2H1151M1259.2 288V291.6M1147.4 149.7H1151M1287.7 288V291.6M1147.4 135.4H1151M1302 288V291.6M1147.4 125H1151M1312.4 288V291.6M1145.4 117.5H1151M1319.9 288V293.6M1147.4 111.5H1151M1325.9 288V291.6M1147.4 106.3H1151M1331.1 288V291.6M1147.4 102H1151M1335.4 288V291.6M1147.4 98.9H1151M1338.5 288V291.6M1147.4 75.62H1151M1361.78 288V291.6M1147.4 63.52H1151M1373.88 288V291.6M1147.4 54.94H1151M1382.46 288V291.6M1145.4 48.28H1151M1389.12 288V293.6M1147.4 42.84H1151M1394.56 288V291.6M1147.4 38.24H1151M1399.16 288V291.6M1147.4 34.26H1151M1403.14 288V291.6M1147.4 30.74H1151M1406.66 288V291.6M1147.4 6.92H1151M1430.48 288V291.6" stroke="#1a1a1a" stroke-width="1.3" fill="none"/>
<g fill="#111" stroke="#111" stroke-width="0.35"><text x="1110.99" y="37.1" font-size="15.8" textLength="17.52" lengthAdjust="spacingAndGlyphs" fill="#111">10</text><text x="1129.13" y="27" font-size="15.8" textLength="8.76" lengthAdjust="spacingAndGlyphs" fill="#111">5</text><text x="1110.99" y="105.8" font-size="15.8" textLength="17.52" lengthAdjust="spacingAndGlyphs" fill="#111">10</text><text x="1129.44" y="95.7" font-size="15.8" textLength="8.76" lengthAdjust="spacingAndGlyphs" fill="#111">4</text><text x="1110.99" y="184.2" font-size="15.8" textLength="17.52" lengthAdjust="spacingAndGlyphs" fill="#111">10</text><text x="1129.28" y="174.1" font-size="15.8" textLength="8.76" lengthAdjust="spacingAndGlyphs" fill="#111">3</text><text x="1105.79" y="278.8" font-size="15.8" textLength="22.76" lengthAdjust="spacingAndGlyphs" fill="#111">-10</text><text x="1129.28" y="268.7" font-size="15.8" textLength="8.76" lengthAdjust="spacingAndGlyphs" fill="#111">3</text><text x="1120.01" y="228" font-size="15.8" textLength="8.76" lengthAdjust="spacingAndGlyphs" fill="#111">0</text><text x="1259.46" y="317.6" font-size="15.8" textLength="17.52" lengthAdjust="spacingAndGlyphs" fill="#111">10</text><text x="1277.38" y="307.6" font-size="15.8" textLength="8.76" lengthAdjust="spacingAndGlyphs" fill="#111">3</text><text x="1337.86" y="317.6" font-size="15.8" textLength="17.52" lengthAdjust="spacingAndGlyphs" fill="#111">10</text><text x="1355.94" y="307.6" font-size="15.8" textLength="8.76" lengthAdjust="spacingAndGlyphs" fill="#111">4</text><text x="1406.56" y="317.6" font-size="15.8" textLength="17.52" lengthAdjust="spacingAndGlyphs" fill="#111">10</text><text x="1424.33" y="307.6" font-size="15.8" textLength="8.76" lengthAdjust="spacingAndGlyphs" fill="#111">5</text><text x="1162.62" y="317.6" font-size="15.8" textLength="22.76" lengthAdjust="spacingAndGlyphs" fill="#111">-10</text><text x="1186.59" y="307.6" font-size="15.8" textLength="8.76" lengthAdjust="spacingAndGlyphs" fill="#111">3</text><text x="1215.27" y="317.6" font-size="15.8" textLength="8.76" lengthAdjust="spacingAndGlyphs" fill="#111">0</text></g>
<rect x="1548.3" y="0.5" width="288" height="287.5" fill="none" stroke="#111" stroke-width="1.5"/>
<path d="M1540.7 269.3H1548.3M1565.4 288V295.6M1540.7 174.7H1548.3M1660 288V295.6M1540.7 96.3H1548.3M1738.4 288V295.6M1540.7 27.6H1548.3M1807.1 288V295.6" stroke="#111" stroke-width="2" fill="none"/>
<path d="M1606 288h13.3v3.6h-13.3zM1606.05 288h2.1v7.5h-2.1zM1609 288h1.4v5.2h-1.4zM1611.1 288h2.6v7.3h-2.6zM1614.8 288h1.4v5h-1.4zM1616.9 288h2.2v7.5h-2.2zM1548.3 215.6v12.9h-3.6v-12.9zM1548.3 215.55v2.1h-7.8v-2.1zM1548.3 218.5v1.4h-5.2v-1.4zM1548.3 220.9v2.6h-7.6v-2.6zM1548.3 224.3v1.4h-5v-1.4zM1548.3 226.35v2.1h-7.8v-2.1z" fill="#111"/>
<path d="M1544.7 265.8H1548.3M1568.9 288V291.6M1544.7 262H1548.3M1572.7 288V291.6M1544.7 257.5H1548.3M1577.2 288V291.6M1544.7 253H1548.3M1581.7 288V291.6M1542.7 248.3H1548.3M1586.4 288V293.6M1544.7 243.9H1548.3M1590.8 288V291.6M1544.7 238.6H1548.3M1596.1 288V291.6M1544.7 233H1548.3M1601.7 288V291.6M1544.7 227.6H1548.3M1607.1 288V291.6M1544.7 216.4H1548.3M1618.3 288V291.6M1544.7 211H1548.3M1623.7 288V291.6M1544.7 205.4H1548.3M1629.3 288V291.6M1544.7 200.1H1548.3M1634.6 288V291.6M1542.7 195.7H1548.3M1639 288V293.6M1544.7 191H1548.3M1643.7 288V291.6M1544.7 186.5H1548.3M1648.2 288V291.6M1544.7 182H1548.3M1652.7 288V291.6M1544.7 178.2H1548.3M1656.5 288V291.6M1544.7 149.7H1548.3M1685 288V291.6M1544.7 135.4H1548.3M1699.3 288V291.6M1544.7 125H1548.3M1709.7 288V291.6M1542.7 117.5H1548.3M1717.2 288V293.6M1544.7 111.5H1548.3M1723.2 288V291.6M1544.7 106.3H1548.3M1728.4 288V291.6M1544.7 102H1548.3M1732.7 288V291.6M1544.7 98.9H1548.3M1735.8 288V291.6M1544.7 75.62H1548.3M1759.08 288V291.6M1544.7 63.52H1548.3M1771.18 288V291.6M1544.7 54.94H1548.3M1779.76 288V291.6M1542.7 48.28H1548.3M1786.42 288V293.6M1544.7 42.84H1548.3M1791.86 288V291.6M1544.7 38.24H1548.3M1796.46 288V291.6M1544.7 34.26H1548.3M1800.44 288V291.6M1544.7 30.74H1548.3M1803.96 288V291.6M1544.7 6.92H1548.3M1827.78 288V291.6" stroke="#1a1a1a" stroke-width="1.3" fill="none"/>
<g fill="#111" stroke="#111" stroke-width="0.35"><text x="1508.29" y="37.1" font-size="15.8" textLength="17.52" lengthAdjust="spacingAndGlyphs" fill="#111">10</text><text x="1526.43" y="27" font-size="15.8" textLength="8.76" lengthAdjust="spacingAndGlyphs" fill="#111">5</text><text x="1508.29" y="105.8" font-size="15.8" textLength="17.52" lengthAdjust="spacingAndGlyphs" fill="#111">10</text><text x="1526.74" y="95.7" font-size="15.8" textLength="8.76" lengthAdjust="spacingAndGlyphs" fill="#111">4</text><text x="1508.29" y="184.2" font-size="15.8" textLength="17.52" lengthAdjust="spacingAndGlyphs" fill="#111">10</text><text x="1526.58" y="174.1" font-size="15.8" textLength="8.76" lengthAdjust="spacingAndGlyphs" fill="#111">3</text><text x="1503.09" y="278.8" font-size="15.8" textLength="22.76" lengthAdjust="spacingAndGlyphs" fill="#111">-10</text><text x="1526.58" y="268.7" font-size="15.8" textLength="8.76" lengthAdjust="spacingAndGlyphs" fill="#111">3</text><text x="1517.31" y="228" font-size="15.8" textLength="8.76" lengthAdjust="spacingAndGlyphs" fill="#111">0</text><text x="1656.76" y="317.6" font-size="15.8" textLength="17.52" lengthAdjust="spacingAndGlyphs" fill="#111">10</text><text x="1674.68" y="307.6" font-size="15.8" textLength="8.76" lengthAdjust="spacingAndGlyphs" fill="#111">3</text><text x="1735.16" y="317.6" font-size="15.8" textLength="17.52" lengthAdjust="spacingAndGlyphs" fill="#111">10</text><text x="1753.24" y="307.6" font-size="15.8" textLength="8.76" lengthAdjust="spacingAndGlyphs" fill="#111">4</text><text x="1803.86" y="317.6" font-size="15.8" textLength="17.52" lengthAdjust="spacingAndGlyphs" fill="#111">10</text><text x="1821.63" y="307.6" font-size="15.8" textLength="8.76" lengthAdjust="spacingAndGlyphs" fill="#111">5</text><text x="1559.92" y="317.6" font-size="15.8" textLength="22.76" lengthAdjust="spacingAndGlyphs" fill="#111">-10</text><text x="1583.88" y="307.6" font-size="15.8" textLength="8.76" lengthAdjust="spacingAndGlyphs" fill="#111">3</text><text x="1612.57" y="317.6" font-size="15.8" textLength="8.76" lengthAdjust="spacingAndGlyphs" fill="#111">0</text></g>
<rect x="322.1" y="420.3" width="288" height="287.5" fill="none" stroke="#111" stroke-width="1.5"/>
<path d="M314.5 689.1H322.1M339.2 707.8V715.4M314.5 594.5H322.1M433.8 707.8V715.4M314.5 516.1H322.1M512.2 707.8V715.4M314.5 447.4H322.1M580.9 707.8V715.4" stroke="#111" stroke-width="2" fill="none"/>
<path d="M379.8 707.8h13.3v3.6h-13.3zM379.85 707.8h2.1v7.5h-2.1zM382.8 707.8h1.4v5.2h-1.4zM384.9 707.8h2.6v7.3h-2.6zM388.6 707.8h1.4v5h-1.4zM390.7 707.8h2.2v7.5h-2.2zM322.1 635.4v12.9h-3.6v-12.9zM322.1 635.35v2.1h-7.8v-2.1zM322.1 638.3v1.4h-5.2v-1.4zM322.1 640.7v2.6h-7.6v-2.6zM322.1 644.1v1.4h-5v-1.4zM322.1 646.15v2.1h-7.8v-2.1z" fill="#111"/>
<path d="M318.5 685.6H322.1M342.7 707.8V711.4M318.5 681.8H322.1M346.5 707.8V711.4M318.5 677.3H322.1M351 707.8V711.4M318.5 672.8H322.1M355.5 707.8V711.4M316.5 668.1H322.1M360.2 707.8V713.4M318.5 663.7H322.1M364.6 707.8V711.4M318.5 658.4H322.1M369.9 707.8V711.4M318.5 652.8H322.1M375.5 707.8V711.4M318.5 647.4H322.1M380.9 707.8V711.4M318.5 636.2H322.1M392.1 707.8V711.4M318.5 630.8H322.1M397.5 707.8V711.4M318.5 625.2H322.1M403.1 707.8V711.4M318.5 619.9H322.1M408.4 707.8V711.4M316.5 615.5H322.1M412.8 707.8V713.4M318.5 610.8H322.1M417.5 707.8V711.4M318.5 606.3H322.1M422 707.8V711.4M318.5 601.8H322.1M426.5 707.8V711.4M318.5 598H322.1M430.3 707.8V711.4M318.5 569.5H322.1M458.8 707.8V711.4M318.5 555.2H322.1M473.1 707.8V711.4M318.5 544.8H322.1M483.5 707.8V711.4M316.5 537.3H322.1M491 707.8V713.4M318.5 531.3H322.1M497 707.8V711.4M318.5 526.1H322.1M502.2 707.8V711.4M318.5 521.8H322.1M506.5 707.8V711.4M318.5 518.7H322.1M509.6 707.8V711.4M318.5 495.42H322.1M532.88 707.8V711.4M318.5 483.32H322.1M544.98 707.8V711.4M318.5 474.74H322.1M553.56 707.8V711.4M316.5 468.08H322.1M560.22 707.8V713.4M318.5 462.64H322.1M565.66 707.8V711.4M318.5 458.04H322.1M570.26 707.8V711.4M318.5 454.06H322.1M574.24 707.8V711.4M318.5 450.54H322.1M577.76 707.8V711.4M318.5 426.72H322.1M601.58 707.8V711.4" stroke="#1a1a1a" stroke-width="1.3" fill="none"/>
<g fill="#111" stroke="#111" stroke-width="0.35"><text x="282.09" y="456.9" font-size="15.8" textLength="17.52" lengthAdjust="spacingAndGlyphs" fill="#111">10</text><text x="300.23" y="446.8" font-size="15.8" textLength="8.76" lengthAdjust="spacingAndGlyphs" fill="#111">5</text><text x="282.09" y="525.6" font-size="15.8" textLength="17.52" lengthAdjust="spacingAndGlyphs" fill="#111">10</text><text x="300.54" y="515.5" font-size="15.8" textLength="8.76" lengthAdjust="spacingAndGlyphs" fill="#111">4</text><text x="282.09" y="604" font-size="15.8" textLength="17.52" lengthAdjust="spacingAndGlyphs" fill="#111">10</text><text x="300.39" y="593.9" font-size="15.8" textLength="8.76" lengthAdjust="spacingAndGlyphs" fill="#111">3</text><text x="276.89" y="698.6" font-size="15.8" textLength="22.76" lengthAdjust="spacingAndGlyphs" fill="#111">-10</text><text x="300.39" y="688.5" font-size="15.8" textLength="8.76" lengthAdjust="spacingAndGlyphs" fill="#111">3</text><text x="291.11" y="647.8" font-size="15.8" textLength="8.76" lengthAdjust="spacingAndGlyphs" fill="#111">0</text><text x="430.56" y="737.4" font-size="15.8" textLength="17.52" lengthAdjust="spacingAndGlyphs" fill="#111">10</text><text x="448.49" y="727.4" font-size="15.8" textLength="8.76" lengthAdjust="spacingAndGlyphs" fill="#111">3</text><text x="508.96" y="737.4" font-size="15.8" textLength="17.52" lengthAdjust="spacingAndGlyphs" fill="#111">10</text><text x="527.04" y="727.4" font-size="15.8" textLength="8.76" lengthAdjust="spacingAndGlyphs" fill="#111">4</text><text x="577.65" y="737.4" font-size="15.8" textLength="17.52" lengthAdjust="spacingAndGlyphs" fill="#111">10</text><text x="595.43" y="727.4" font-size="15.8" textLength="8.76" lengthAdjust="spacingAndGlyphs" fill="#111">5</text><text x="333.72" y="737.4" font-size="15.8" textLength="22.76" lengthAdjust="spacingAndGlyphs" fill="#111">-10</text><text x="357.69" y="727.4" font-size="15.8" textLength="8.76" lengthAdjust="spacingAndGlyphs" fill="#111">3</text><text x="386.37" y="737.4" font-size="15.8" textLength="8.76" lengthAdjust="spacingAndGlyphs" fill="#111">0</text></g>
<rect x="734.4" y="422.3" width="288" height="287.5" fill="none" stroke="#111" stroke-width="1.5"/>
<path d="M726.8 691.1H734.4M751.5 709.8V717.4M726.8 596.5H734.4M846.1 709.8V717.4M726.8 518.1H734.4M924.5 709.8V717.4M726.8 449.4H734.4M993.2 709.8V717.4" stroke="#111" stroke-width="2" fill="none"/>
<path d="M792.1 709.8h13.3v3.6h-13.3zM792.15 709.8h2.1v7.5h-2.1zM795.1 709.8h1.4v5.2h-1.4zM797.2 709.8h2.6v7.3h-2.6zM800.9 709.8h1.4v5h-1.4zM803 709.8h2.2v7.5h-2.2zM734.4 637.4v12.9h-3.6v-12.9zM734.4 637.35v2.1h-7.8v-2.1zM734.4 640.3v1.4h-5.2v-1.4zM734.4 642.7v2.6h-7.6v-2.6zM734.4 646.1v1.4h-5v-1.4zM734.4 648.15v2.1h-7.8v-2.1z" fill="#111"/>
<path d="M730.8 687.6H734.4M755 709.8V713.4M730.8 683.8H734.4M758.8 709.8V713.4M730.8 679.3H734.4M763.3 709.8V713.4M730.8 674.8H734.4M767.8 709.8V713.4M728.8 670.1H734.4M772.5 709.8V715.4M730.8 665.7H734.4M776.9 709.8V713.4M730.8 660.4H734.4M782.2 709.8V713.4M730.8 654.8H734.4M787.8 709.8V713.4M730.8 649.4H734.4M793.2 709.8V713.4M730.8 638.2H734.4M804.4 709.8V713.4M730.8 632.8H734.4M809.8 709.8V713.4M730.8 627.2H734.4M815.4 709.8V713.4M730.8 621.9H734.4M820.7 709.8V713.4M728.8 617.5H734.4M825.1 709.8V715.4M730.8 612.8H734.4M829.8 709.8V713.4M730.8 608.3H734.4M834.3 709.8V713.4M730.8 603.8H734.4M838.8 709.8V713.4M730.8 600H734.4M842.6 709.8V713.4M730.8 571.5H734.4M871.1 709.8V713.4M730.8 557.2H734.4M885.4 709.8V713.4M730.8 546.8H734.4M895.8 709.8V713.4M728.8 539.3H734.4M903.3 709.8V715.4M730.8 533.3H734.4M909.3 709.8V713.4M730.8 528.1H734.4M914.5 709.8V713.4M730.8 523.8H734.4M918.8 709.8V713.4M730.8 520.7H734.4M921.9 709.8V713.4M730.8 497.42H734.4M945.18 709.8V713.4M730.8 485.32H734.4M957.28 709.8V713.4M730.8 476.74H734.4M965.86 709.8V713.4M728.8 470.08H734.4M972.52 709.8V715.4M730.8 464.64H734.4M977.96 709.8V713.4M730.8 460.04H734.4M982.56 709.8V713.4M730.8 456.06H734.4M986.54 709.8V713.4M730.8 452.54H734.4M990.06 709.8V713.4M730.8 428.72H734.4M1013.88 709.8V713.4" stroke="#1a1a1a" stroke-width="1.3" fill="none"/>
<g fill="#111" stroke="#111" stroke-width="0.35"><text x="694.39" y="458.9" font-size="15.8" textLength="17.52" lengthAdjust="spacingAndGlyphs" fill="#111">10</text><text x="712.53" y="448.8" font-size="15.8" textLength="8.76" lengthAdjust="spacingAndGlyphs" fill="#111">5</text><text x="694.39" y="527.6" font-size="15.8" textLength="17.52" lengthAdjust="spacingAndGlyphs" fill="#111">10</text><text x="712.84" y="517.5" font-size="15.8" textLength="8.76" lengthAdjust="spacingAndGlyphs" fill="#111">4</text><text x="694.39" y="606" font-size="15.8" textLength="17.52" lengthAdjust="spacingAndGlyphs" fill="#111">10</text><text x="712.68" y="595.9" font-size="15.8" textLength="8.76" lengthAdjust="spacingAndGlyphs" fill="#111">3</text><text x="689.19" y="700.6" font-size="15.8" textLength="22.76" lengthAdjust="spacingAndGlyphs" fill="#111">-10</text><text x="712.68" y="690.5" font-size="15.8" textLength="8.76" lengthAdjust="spacingAndGlyphs" fill="#111">3</text><text x="703.41" y="649.8" font-size="15.8" textLength="8.76" lengthAdjust="spacingAndGlyphs" fill="#111">0</text><text x="842.85" y="739.4" font-size="15.8" textLength="17.52" lengthAdjust="spacingAndGlyphs" fill="#111">10</text><text x="860.78" y="729.4" font-size="15.8" textLength="8.76" lengthAdjust="spacingAndGlyphs" fill="#111">3</text><text x="921.25" y="739.4" font-size="15.8" textLength="17.52" lengthAdjust="spacingAndGlyphs" fill="#111">10</text><text x="939.34" y="729.4" font-size="15.8" textLength="8.76" lengthAdjust="spacingAndGlyphs" fill="#111">4</text><text x="989.95" y="739.4" font-size="15.8" textLength="17.52" lengthAdjust="spacingAndGlyphs" fill="#111">10</text><text x="1007.73" y="729.4" font-size="15.8" textLength="8.76" lengthAdjust="spacingAndGlyphs" fill="#111">5</text><text x="746.02" y="739.4" font-size="15.8" textLength="22.76" lengthAdjust="spacingAndGlyphs" fill="#111">-10</text><text x="769.98" y="729.4" font-size="15.8" textLength="8.76" lengthAdjust="spacingAndGlyphs" fill="#111">3</text><text x="798.67" y="739.4" font-size="15.8" textLength="8.76" lengthAdjust="spacingAndGlyphs" fill="#111">0</text></g>
<rect x="1152.2" y="422.3" width="288" height="287.5" fill="none" stroke="#111" stroke-width="1.5"/>
<path d="M1144.6 691.1H1152.2M1169.3 709.8V717.4M1144.6 596.5H1152.2M1263.9 709.8V717.4M1144.6 518.1H1152.2M1342.3 709.8V717.4M1144.6 449.4H1152.2M1411 709.8V717.4" stroke="#111" stroke-width="2" fill="none"/>
<path d="M1209.9 709.8h13.3v3.6h-13.3zM1209.95 709.8h2.1v7.5h-2.1zM1212.9 709.8h1.4v5.2h-1.4zM1215 709.8h2.6v7.3h-2.6zM1218.7 709.8h1.4v5h-1.4zM1220.8 709.8h2.2v7.5h-2.2zM1152.2 637.4v12.9h-3.6v-12.9zM1152.2 637.35v2.1h-7.8v-2.1zM1152.2 640.3v1.4h-5.2v-1.4zM1152.2 642.7v2.6h-7.6v-2.6zM1152.2 646.1v1.4h-5v-1.4zM1152.2 648.15v2.1h-7.8v-2.1z" fill="#111"/>
<path d="M1148.6 687.6H1152.2M1172.8 709.8V713.4M1148.6 683.8H1152.2M1176.6 709.8V713.4M1148.6 679.3H1152.2M1181.1 709.8V713.4M1148.6 674.8H1152.2M1185.6 709.8V713.4M1146.6 670.1H1152.2M1190.3 709.8V715.4M1148.6 665.7H1152.2M1194.7 709.8V713.4M1148.6 660.4H1152.2M1200 709.8V713.4M1148.6 654.8H1152.2M1205.6 709.8V713.4M1148.6 649.4H1152.2M1211 709.8V713.4M1148.6 638.2H1152.2M1222.2 709.8V713.4M1148.6 632.8H1152.2M1227.6 709.8V713.4M1148.6 627.2H1152.2M1233.2 709.8V713.4M1148.6 621.9H1152.2M1238.5 709.8V713.4M1146.6 617.5H1152.2M1242.9 709.8V715.4M1148.6 612.8H1152.2M1247.6 709.8V713.4M1148.6 608.3H1152.2M1252.1 709.8V713.4M1148.6 603.8H1152.2M1256.6 709.8V713.4M1148.6 600H1152.2M1260.4 709.8V713.4M1148.6 571.5H1152.2M1288.9 709.8V713.4M1148.6 557.2H1152.2M1303.2 709.8V713.4M1148.6 546.8H1152.2M1313.6 709.8V713.4M1146.6 539.3H1152.2M1321.1 709.8V715.4M1148.6 533.3H1152.2M1327.1 709.8V713.4M1148.6 528.1H1152.2M1332.3 709.8V713.4M1148.6 523.8H1152.2M1336.6 709.8V713.4M1148.6 520.7H1152.2M1339.7 709.8V713.4M1148.6 497.42H1152.2M1362.98 709.8V713.4M1148.6 485.32H1152.2M1375.08 709.8V713.4M1148.6 476.74H1152.2M1383.66 709.8V713.4M1146.6 470.08H1152.2M1390.32 709.8V715.4M1148.6 464.64H1152.2M1395.76 709.8V713.4M1148.6 460.04H1152.2M1400.36 709.8V713.4M1148.6 456.06H1152.2M1404.34 709.8V713.4M1148.6 452.54H1152.2M1407.86 709.8V713.4M1148.6 428.72H1152.2M1431.68 709.8V713.4" stroke="#1a1a1a" stroke-width="1.3" fill="none"/>
<g fill="#111" stroke="#111" stroke-width="0.35"><text x="1112.19" y="458.9" font-size="15.8" textLength="17.52" lengthAdjust="spacingAndGlyphs" fill="#111">10</text><text x="1130.33" y="448.8" font-size="15.8" textLength="8.76" lengthAdjust="spacingAndGlyphs" fill="#111">5</text><text x="1112.19" y="527.6" font-size="15.8" textLength="17.52" lengthAdjust="spacingAndGlyphs" fill="#111">10</text><text x="1130.64" y="517.5" font-size="15.8" textLength="8.76" lengthAdjust="spacingAndGlyphs" fill="#111">4</text><text x="1112.19" y="606" font-size="15.8" textLength="17.52" lengthAdjust="spacingAndGlyphs" fill="#111">10</text><text x="1130.48" y="595.9" font-size="15.8" textLength="8.76" lengthAdjust="spacingAndGlyphs" fill="#111">3</text><text x="1106.99" y="700.6" font-size="15.8" textLength="22.76" lengthAdjust="spacingAndGlyphs" fill="#111">-10</text><text x="1130.48" y="690.5" font-size="15.8" textLength="8.76" lengthAdjust="spacingAndGlyphs" fill="#111">3</text><text x="1121.21" y="649.8" font-size="15.8" textLength="8.76" lengthAdjust="spacingAndGlyphs" fill="#111">0</text><text x="1260.66" y="739.4" font-size="15.8" textLength="17.52" lengthAdjust="spacingAndGlyphs" fill="#111">10</text><text x="1278.59" y="729.4" font-size="15.8" textLength="8.76" lengthAdjust="spacingAndGlyphs" fill="#111">3</text><text x="1339.06" y="739.4" font-size="15.8" textLength="17.52" lengthAdjust="spacingAndGlyphs" fill="#111">10</text><text x="1357.14" y="729.4" font-size="15.8" textLength="8.76" lengthAdjust="spacingAndGlyphs" fill="#111">4</text><text x="1407.76" y="739.4" font-size="15.8" textLength="17.52" lengthAdjust="spacingAndGlyphs" fill="#111">10</text><text x="1425.53" y="729.4" font-size="15.8" textLength="8.76" lengthAdjust="spacingAndGlyphs" fill="#111">5</text><text x="1163.82" y="739.4" font-size="15.8" textLength="22.76" lengthAdjust="spacingAndGlyphs" fill="#111">-10</text><text x="1187.79" y="729.4" font-size="15.8" textLength="8.76" lengthAdjust="spacingAndGlyphs" fill="#111">3</text><text x="1216.47" y="739.4" font-size="15.8" textLength="8.76" lengthAdjust="spacingAndGlyphs" fill="#111">0</text></g>
<rect x="1548.2" y="423.4" width="288" height="287.5" fill="none" stroke="#111" stroke-width="1.5"/>
<path d="M1540.6 692.2H1548.2M1565.3 710.9V718.5M1540.6 597.6H1548.2M1659.9 710.9V718.5M1540.6 519.2H1548.2M1738.3 710.9V718.5M1540.6 450.5H1548.2M1807 710.9V718.5" stroke="#111" stroke-width="2" fill="none"/>
<path d="M1605.9 710.9h13.3v3.6h-13.3zM1605.95 710.9h2.1v7.5h-2.1zM1608.9 710.9h1.4v5.2h-1.4zM1611 710.9h2.6v7.3h-2.6zM1614.7 710.9h1.4v5h-1.4zM1616.8 710.9h2.2v7.5h-2.2zM1548.2 638.5v12.9h-3.6v-12.9zM1548.2 638.45v2.1h-7.8v-2.1zM1548.2 641.4v1.4h-5.2v-1.4zM1548.2 643.8v2.6h-7.6v-2.6zM1548.2 647.2v1.4h-5v-1.4zM1548.2 649.25v2.1h-7.8v-2.1z" fill="#111"/>
<path d="M1544.6 688.7H1548.2M1568.8 710.9V714.5M1544.6 684.9H1548.2M1572.6 710.9V714.5M1544.6 680.4H1548.2M1577.1 710.9V714.5M1544.6 675.9H1548.2M1581.6 710.9V714.5M1542.6 671.2H1548.2M1586.3 710.9V716.5M1544.6 666.8H1548.2M1590.7 710.9V714.5M1544.6 661.5H1548.2M1596 710.9V714.5M1544.6 655.9H1548.2M1601.6 710.9V714.5M1544.6 650.5H1548.2M1607 710.9V714.5M1544.6 639.3H1548.2M1618.2 710.9V714.5M1544.6 633.9H1548.2M1623.6 710.9V714.5M1544.6 628.3H1548.2M1629.2 710.9V714.5M1544.6 623H1548.2M1634.5 710.9V714.5M1542.6 618.6H1548.2M1638.9 710.9V716.5M1544.6 613.9H1548.2M1643.6 710.9V714.5M1544.6 609.4H1548.2M1648.1 710.9V714.5M1544.6 604.9H1548.2M1652.6 710.9V714.5M1544.6 601.1H1548.2M1656.4 710.9V714.5M1544.6 572.6H1548.2M1684.9 710.9V714.5M1544.6 558.3H1548.2M1699.2 710.9V714.5M1544.6 547.9H1548.2M1709.6 710.9V714.5M1542.6 540.4H1548.2M1717.1 710.9V716.5M1544.6 534.4H1548.2M1723.1 710.9V714.5M1544.6 529.2H1548.2M1728.3 710.9V714.5M1544.6 524.9H1548.2M1732.6 710.9V714.5M1544.6 521.8H1548.2M1735.7 710.9V714.5M1544.6 498.52H1548.2M1758.98 710.9V714.5M1544.6 486.42H1548.2M1771.08 710.9V714.5M1544.6 477.84H1548.2M1779.66 710.9V714.5M1542.6 471.18H1548.2M1786.32 710.9V716.5M1544.6 465.74H1548.2M1791.76 710.9V714.5M1544.6 461.14H1548.2M1796.36 710.9V714.5M1544.6 457.16H1548.2M1800.34 710.9V714.5M1544.6 453.64H1548.2M1803.86 710.9V714.5M1544.6 429.82H1548.2M1827.68 710.9V714.5" stroke="#1a1a1a" stroke-width="1.3" fill="none"/>
<g fill="#111" stroke="#111" stroke-width="0.35"><text x="1508.19" y="460" font-size="15.8" textLength="17.52" lengthAdjust="spacingAndGlyphs" fill="#111">10</text><text x="1526.33" y="449.9" font-size="15.8" textLength="8.76" lengthAdjust="spacingAndGlyphs" fill="#111">5</text><text x="1508.19" y="528.7" font-size="15.8" textLength="17.52" lengthAdjust="spacingAndGlyphs" fill="#111">10</text><text x="1526.64" y="518.6" font-size="15.8" textLength="8.76" lengthAdjust="spacingAndGlyphs" fill="#111">4</text><text x="1508.19" y="607.1" font-size="15.8" textLength="17.52" lengthAdjust="spacingAndGlyphs" fill="#111">10</text><text x="1526.48" y="597" font-size="15.8" textLength="8.76" lengthAdjust="spacingAndGlyphs" fill="#111">3</text><text x="1502.99" y="701.7" font-size="15.8" textLength="22.76" lengthAdjust="spacingAndGlyphs" fill="#111">-10</text><text x="1526.48" y="691.6" font-size="15.8" textLength="8.76" lengthAdjust="spacingAndGlyphs" fill="#111">3</text><text x="1517.21" y="650.9" font-size="15.8" textLength="8.76" lengthAdjust="spacingAndGlyphs" fill="#111">0</text><text x="1656.66" y="740.5" font-size="15.8" textLength="17.52" lengthAdjust="spacingAndGlyphs" fill="#111">10</text><text x="1674.59" y="730.5" font-size="15.8" textLength="8.76" lengthAdjust="spacingAndGlyphs" fill="#111">3</text><text x="1735.06" y="740.5" font-size="15.8" textLength="17.52" lengthAdjust="spacingAndGlyphs" fill="#111">10</text><text x="1753.14" y="730.5" font-size="15.8" textLength="8.76" lengthAdjust="spacingAndGlyphs" fill="#111">4</text><text x="1803.76" y="740.5" font-size="15.8" textLength="17.52" lengthAdjust="spacingAndGlyphs" fill="#111">10</text><text x="1821.53" y="730.5" font-size="15.8" textLength="8.76" lengthAdjust="spacingAndGlyphs" fill="#111">5</text><text x="1559.82" y="740.5" font-size="15.8" textLength="22.76" lengthAdjust="spacingAndGlyphs" fill="#111">-10</text><text x="1583.79" y="730.5" font-size="15.8" textLength="8.76" lengthAdjust="spacingAndGlyphs" fill="#111">3</text><text x="1612.47" y="740.5" font-size="15.8" textLength="8.76" lengthAdjust="spacingAndGlyphs" fill="#111">0</text></g>
<text x="3.49" y="37.5" font-size="48.5" textLength="36.43" lengthAdjust="spacingAndGlyphs" fill="#1c1c1c">A</text>
<text x="74.55" y="150.6" font-size="37.8" textLength="71.92" lengthAdjust="spacingAndGlyphs" fill="#1c1c1c">PBS</text>
<text x="75.21" y="560.3" font-size="37.8" textLength="67.12" lengthAdjust="spacingAndGlyphs" fill="#1c1c1c">Lpl1</text>
<text x="4.67" y="886.3" font-size="47.8" textLength="34.33" lengthAdjust="spacingAndGlyphs" fill="#1c1c1c">B</text>
<text x="418.45" y="886.3" font-size="47.8" textLength="33.44" lengthAdjust="spacingAndGlyphs" fill="#1c1c1c">C</text>
<text x="809.67" y="886.3" font-size="47.8" textLength="34.33" lengthAdjust="spacingAndGlyphs" fill="#1c1c1c">D</text>
<text x="1234.62" y="886.3" font-size="47.8" textLength="32.16" lengthAdjust="spacingAndGlyphs" fill="#1c1c1c">E</text>
<text x="1638.45" y="886.3" font-size="47.8" textLength="29.22" lengthAdjust="spacingAndGlyphs" fill="#1c1c1c">F</text>
<text transform="translate(261.3,185.29) rotate(-90)" x="0" y="0" font-size="30" textLength="92.95" lengthAdjust="spacingAndGlyphs" fill="#1c1c1c">CD11b</text>
<text transform="translate(669.6,165.88) rotate(-90)" x="0" y="0" font-size="30" textLength="73.18" lengthAdjust="spacingAndGlyphs" fill="#1c1c1c">Ly6G</text>
<text transform="translate(1101.1,168.69) rotate(-90)" x="0" y="0" font-size="30" textLength="76.18" lengthAdjust="spacingAndGlyphs" fill="#1c1c1c">F4/80</text>
<text transform="translate(1499.2,152.2) rotate(-90)" x="0" y="0" font-size="30" textLength="59.81" lengthAdjust="spacingAndGlyphs" fill="#1c1c1c">CD3</text>
<text transform="translate(261.3,600.2) rotate(-90)" x="0" y="0" font-size="30" textLength="93.26" lengthAdjust="spacingAndGlyphs" fill="#1c1c1c">CD11b</text>
<text transform="translate(669.6,580.48) rotate(-90)" x="0" y="0" font-size="30" textLength="73.18" lengthAdjust="spacingAndGlyphs" fill="#1c1c1c">Ly6G</text>
<text transform="translate(1101.1,583.69) rotate(-90)" x="0" y="0" font-size="30" textLength="76.18" lengthAdjust="spacingAndGlyphs" fill="#1c1c1c">F4/80</text>
<text transform="translate(1499.2,566.89) rotate(-90)" x="0" y="0" font-size="30" textLength="59.49" lengthAdjust="spacingAndGlyphs" fill="#1c1c1c">CD3</text>
<text x="420.8" y="359.5" font-size="32.3" textLength="77" lengthAdjust="spacingAndGlyphs" fill="#1c1c1c">CD45</text>
<text x="839.31" y="359.5" font-size="32.3" textLength="92.87" lengthAdjust="spacingAndGlyphs" fill="#1c1c1c">CD335</text>
<text x="1266.93" y="359.5" font-size="32.3" textLength="71.2" lengthAdjust="spacingAndGlyphs" fill="#1c1c1c">Ly6C</text>
<text x="1653.52" y="359.5" font-size="32.3" textLength="75.67" lengthAdjust="spacingAndGlyphs" fill="#1c1c1c">CD45</text>
<text x="420.8" y="783.2" font-size="32.3" textLength="77" lengthAdjust="spacingAndGlyphs" fill="#1c1c1c">CD45</text>
<text x="839.31" y="783.2" font-size="32.3" textLength="92.87" lengthAdjust="spacingAndGlyphs" fill="#1c1c1c">CD335</text>
<text x="1266.93" y="783.2" font-size="32.3" textLength="71.2" lengthAdjust="spacingAndGlyphs" fill="#1c1c1c">Ly6C</text>
<text x="1653.52" y="783.2" font-size="32.3" textLength="75.67" lengthAdjust="spacingAndGlyphs" fill="#1c1c1c">CD45</text>
<path d="M527.5 1.2V202.8H609.8M527.5 1.2H610M528.3 203.2H608.6V239.8H528.3ZM527.5 421V622.6H609.8M527.5 421H610M528.3 623H608.6V659.6H528.3Z" stroke="#111" stroke-width="1.6" fill="none"/>
<path d="M862 0.5V288M735.6 93.4H1023.6M854 422.3V709.8M734.4 514.6H1022.4M1738.4 0.5V288M1548.3 185.1H1836.3M1738.4 423.4V710.9M1548.2 607.9H1836.2" stroke="#111" stroke-width="1.9" fill="none"/>
<ellipse cx="1280.3" cy="120.2" rx="59.9" ry="29.8" transform="rotate(-4.5 1280.3 120.2)" fill="none" stroke="#111" stroke-width="1.9"/>
<ellipse cx="1362" cy="149.3" rx="33" ry="70.5" transform="rotate(22 1362 149.3)" fill="none" stroke="#111" stroke-width="1.9"/>
<ellipse cx="1280.3" cy="541.5" rx="59.9" ry="29.8" transform="rotate(-4.5 1280.3 541.5)" fill="none" stroke="#111" stroke-width="1.9"/>
<ellipse cx="1362" cy="570.6" rx="33" ry="70.5" transform="rotate(22 1362 570.6)" fill="none" stroke="#111" stroke-width="1.9"/>
<g stroke="#111" stroke-width="0.35">
<text x="533.23" y="24.6" font-size="16.3" textLength="31.35" lengthAdjust="spacingAndGlyphs" fill="#111">13.0</text>
<text x="572.23" y="232" font-size="16.3" textLength="31.56" lengthAdjust="spacingAndGlyphs" fill="#111">1.09</text>
<text x="740.44" y="24.2" font-size="16.3" textLength="30.87" lengthAdjust="spacingAndGlyphs" fill="#111">42.1</text>
<text x="969.74" y="24.2" font-size="16.3" textLength="31.16" lengthAdjust="spacingAndGlyphs" fill="#111">48.4</text>
<text x="740.11" y="272.2" font-size="16.3" textLength="31.69" lengthAdjust="spacingAndGlyphs" fill="#111">9.04</text>
<text x="969.24" y="272.2" font-size="16.3" textLength="31.99" lengthAdjust="spacingAndGlyphs" fill="#111">0.48</text>
<text x="1194.65" y="98.2" font-size="16.3" textLength="29.96" lengthAdjust="spacingAndGlyphs" fill="#111">47.1</text>
<text x="1376.42" y="218.4" font-size="16.3" textLength="31.26" lengthAdjust="spacingAndGlyphs" fill="#111">23.2</text>
<text x="1782.55" y="24.2" font-size="16.3" textLength="31.43" lengthAdjust="spacingAndGlyphs" fill="#111">77.6</text>
<text x="1782.73" y="272.2" font-size="16.3" textLength="30.77" lengthAdjust="spacingAndGlyphs" fill="#111">22.4</text>
<text x="533.53" y="443.2" font-size="16.3" textLength="30.48" lengthAdjust="spacingAndGlyphs" fill="#111">28.1</text>
<text x="572.05" y="650.9" font-size="16.3" textLength="30.82" lengthAdjust="spacingAndGlyphs" fill="#111">1.26</text>
<text x="738.74" y="445.2" font-size="16.3" textLength="31.99" lengthAdjust="spacingAndGlyphs" fill="#111">64.5</text>
<text x="968.95" y="445.2" font-size="16.3" textLength="30.82" lengthAdjust="spacingAndGlyphs" fill="#111">10.6</text>
<text x="738.91" y="693.6" font-size="16.3" textLength="31.99" lengthAdjust="spacingAndGlyphs" fill="#111">24.2</text>
<text x="968.67" y="693.6" font-size="16.3" textLength="30.63" lengthAdjust="spacingAndGlyphs" fill="#111">0.64</text>
<text x="1192.15" y="515.8" font-size="16.3" textLength="29.85" lengthAdjust="spacingAndGlyphs" fill="#111">46.1</text>
<text x="1381.34" y="638.8" font-size="16.3" textLength="30.77" lengthAdjust="spacingAndGlyphs" fill="#111">40.5</text>
<text x="1782.55" y="446.2" font-size="16.3" textLength="31.43" lengthAdjust="spacingAndGlyphs" fill="#111">68.2</text>
<text x="1782.88" y="694.3" font-size="16.3" textLength="30.93" lengthAdjust="spacingAndGlyphs" fill="#111">31.8</text>
<text x="1553.8" y="24.4" font-size="16.3" fill="#111">0</text>
<text x="1553.8" y="272.3" font-size="16.3" fill="#111">0</text>
<text x="1553.8" y="444.4" font-size="16.3" fill="#111">0</text>
<text x="1553.8" y="692.3" font-size="16.3" fill="#111">0</text>
</g>
<path d="M685 32L664 20V44Z" fill="#1c1c1c"/>
<path d="M1083.1 241.4L1062.1 229.4V253.4Z" fill="#1c1c1c"/>
<path d="M1578.7 334.1L1566.7 355.1H1590.7Z" fill="#1c1c1c"/>
<path d="M685 440.4L664 428.4V452.4Z" fill="#1c1c1c"/>
<path d="M1083.1 664.5L1062.1 652.5V676.5Z" fill="#1c1c1c"/>
<path d="M1578.7 759.8L1566.7 780.8H1590.7Z" fill="#1c1c1c"/>
<path d="M580.7 32H666M835.2 244L1064 241.6M550.5 230V376.5H1578.7V352.5M580.7 440.4H666M835.2 667.2L1064 664.7M550.5 649.2V802.2H1578.7V778.2" stroke="#111" stroke-width="2.1" fill="none"/>
<path d="M77.5 1090V1378.2H364.5M66 1091H77.5M66 1162.6H77.5M66 1234.5H77.5M66 1306.3H77.5M66 1378.2H77.5M121.2 1378.2V1389.7M187 1378.2V1389.7M253.7 1378.2V1389.7M319.7 1378.2V1389.7" stroke="#000" stroke-width="2.35" fill="none"/>
<path d="M113 1401.3H196.5M247.2 1401.3H331.1" stroke="#000" stroke-width="5.2" stroke-linecap="round" fill="none"/>
<text x="37.54" y="1098.1" font-size="25.6" textLength="27.25" lengthAdjust="spacingAndGlyphs" fill="#000">20</text>
<text x="37.3" y="1169.7" font-size="25.6" textLength="27.25" lengthAdjust="spacingAndGlyphs" fill="#000">15</text>
<text x="37.54" y="1241.6" font-size="25.6" textLength="27.25" lengthAdjust="spacingAndGlyphs" fill="#000">10</text>
<text x="51.02" y="1313.4" font-size="25.6" textLength="13.62" lengthAdjust="spacingAndGlyphs" fill="#000">5</text>
<text x="51.26" y="1385.3" font-size="25.6" textLength="13.62" lengthAdjust="spacingAndGlyphs" fill="#000">0</text>
<text x="129.7" y="1437" font-size="30.5" textLength="45.33" lengthAdjust="spacingAndGlyphs" fill="#000">WT</text>
<text x="246.01" y="1437" font-size="30.5" textLength="72.55" lengthAdjust="spacingAndGlyphs" fill="#000">TLR2</text>
<text x="317.69" y="1427" font-size="17" textLength="19.2" lengthAdjust="spacingAndGlyphs" fill="#000">-/-</text>
<text x="104.2" y="955" font-size="32" textLength="162.33" lengthAdjust="spacingAndGlyphs" fill="#000">Neutrophils</text>
<text x="88.76" y="977.5" font-size="20" textLength="193.99" lengthAdjust="spacingAndGlyphs" fill="#000">CD45+ CD11b+ Ly6G+</text>
<circle cx="271" cy="1028.3" r="11.9" fill="none" stroke="#000" stroke-width="3.1"/>
<circle cx="272" cy="1064" r="10.3" fill="#151515" stroke="#000" stroke-width="2.6"/>
<text x="290.37" y="1036" font-size="28.5" textLength="56.84" lengthAdjust="spacingAndGlyphs" fill="#000">PBS</text>
<text x="292" y="1072.2" font-size="28.5" textLength="52.75" lengthAdjust="spacingAndGlyphs" fill="#000">Lpl1</text>
<path d="M120.3 1088.75V1076.5H185.7V1088.75" stroke="#000" stroke-width="2.35" fill="none"/>
<text x="131" y="1085.62" font-size="53.51" textLength="43.91" lengthAdjust="spacingAndGlyphs" fill="#000">**</text>
<text transform="translate(22.4,1378.59) rotate(-90)" x="0" y="0" font-size="31" textLength="298.13" lengthAdjust="spacingAndGlyphs" fill="#000">Viable cells in skin, %</text>
<circle cx="121.2" cy="1234.5" r="9.8" fill="none" stroke="#000" stroke-width="2.35"/>
<circle cx="110.2" cy="1289.9" r="9.8" fill="none" stroke="#000" stroke-width="2.35"/>
<circle cx="134" cy="1298.4" r="9.8" fill="none" stroke="#000" stroke-width="2.35"/>
<circle cx="121.2" cy="1308.2" r="9.8" fill="none" stroke="#000" stroke-width="2.35"/>
<circle cx="109.6" cy="1326.4" r="9.8" fill="none" stroke="#000" stroke-width="2.35"/>
<circle cx="133" cy="1320.3" r="9.8" fill="none" stroke="#000" stroke-width="2.35"/>
<circle cx="187.9" cy="1108.7" r="8.75" fill="#151515" stroke="#000" stroke-width="2.3"/>
<circle cx="176" cy="1149.8" r="8.75" fill="#151515" stroke="#000" stroke-width="2.3"/>
<circle cx="199.8" cy="1165.3" r="8.75" fill="#151515" stroke="#000" stroke-width="2.3"/>
<circle cx="187.9" cy="1198.2" r="8.75" fill="#151515" stroke="#000" stroke-width="2.3"/>
<circle cx="199.8" cy="1219.9" r="8.75" fill="#151515" stroke="#000" stroke-width="2.3"/>
<circle cx="176" cy="1232.6" r="8.75" fill="#151515" stroke="#000" stroke-width="2.3"/>
<circle cx="254.3" cy="1117.5" r="9.8" fill="none" stroke="#000" stroke-width="2.35"/>
<circle cx="254.3" cy="1224.7" r="9.8" fill="none" stroke="#000" stroke-width="2.35"/>
<circle cx="254.3" cy="1280.1" r="9.8" fill="none" stroke="#000" stroke-width="2.35"/>
<circle cx="266.4" cy="1286.2" r="9.8" fill="none" stroke="#000" stroke-width="2.35"/>
<circle cx="242.1" cy="1294.8" r="9.8" fill="none" stroke="#000" stroke-width="2.35"/>
<circle cx="308.5" cy="1174.5" r="8.75" fill="#151515" stroke="#000" stroke-width="2.3"/>
<circle cx="332.8" cy="1183" r="8.75" fill="#151515" stroke="#000" stroke-width="2.3"/>
<circle cx="308.5" cy="1249.1" r="8.75" fill="#151515" stroke="#000" stroke-width="2.3"/>
<circle cx="332.8" cy="1263.7" r="8.75" fill="#151515" stroke="#000" stroke-width="2.3"/>
<circle cx="320.6" cy="1288.7" r="8.75" fill="#151515" stroke="#000" stroke-width="2.3"/>
<path d="M94.4 1303.6H149.2M160.8 1182.1H215.6M226.9 1282H281.7M293 1249H347.7" stroke="#000" stroke-width="2.35" fill="none"/>
<path d="M487.4 1088.8V1376.7H774M475.9 1089.8H487.4M475.9 1161.4H487.4M475.9 1233H487.4M475.9 1304.5H487.4M475.9 1376.7H487.4M531 1376.7V1388.2M597 1376.7V1388.2M662.8 1376.7V1388.2M728.9 1376.7V1388.2" stroke="#000" stroke-width="2.35" fill="none"/>
<path d="M525.3 1399.8H606.3M659.3 1399.8H740.9" stroke="#000" stroke-width="5.2" stroke-linecap="round" fill="none"/>
<text x="460.52" y="1096.9" font-size="25.6" textLength="13.62" lengthAdjust="spacingAndGlyphs" fill="#000">4</text>
<text x="461.26" y="1168.5" font-size="25.6" textLength="13.62" lengthAdjust="spacingAndGlyphs" fill="#000">3</text>
<text x="461.26" y="1240.1" font-size="25.6" textLength="13.62" lengthAdjust="spacingAndGlyphs" fill="#000">2</text>
<text x="461.02" y="1311.6" font-size="25.6" textLength="13.62" lengthAdjust="spacingAndGlyphs" fill="#000">1</text>
<text x="461.26" y="1383.8" font-size="25.6" textLength="13.62" lengthAdjust="spacingAndGlyphs" fill="#000">0</text>
<text x="540.75" y="1437" font-size="30.5" textLength="45.33" lengthAdjust="spacingAndGlyphs" fill="#000">WT</text>
<text x="656.96" y="1437" font-size="30.5" textLength="72.55" lengthAdjust="spacingAndGlyphs" fill="#000">TLR2</text>
<text x="728.64" y="1427" font-size="17" textLength="19.2" lengthAdjust="spacingAndGlyphs" fill="#000">-/-</text>
<text x="437.97" y="954.5" font-size="32" textLength="303.03" lengthAdjust="spacingAndGlyphs" fill="#000">Infiltrating monocytes</text>
<text x="441.26" y="976.25" font-size="20" textLength="301.37" lengthAdjust="spacingAndGlyphs" fill="#000">CD45+ CD11b+ Ly6G- F4/80+ Ly6C</text>
<text x="746.48" y="967" font-size="15.5" textLength="30.64" lengthAdjust="spacingAndGlyphs" fill="#000">high</text>
<circle cx="680.8" cy="1028.3" r="11.9" fill="none" stroke="#000" stroke-width="3.1"/>
<circle cx="681.7" cy="1064" r="10.3" fill="#151515" stroke="#000" stroke-width="2.6"/>
<text x="700.49" y="1036" font-size="28.5" textLength="56.2" lengthAdjust="spacingAndGlyphs" fill="#000">PBS</text>
<text x="701.77" y="1072" font-size="28.5" textLength="53.59" lengthAdjust="spacingAndGlyphs" fill="#000">Lpl1</text>
<path d="M531 1086V1074H597V1086" stroke="#000" stroke-width="2.35" fill="none"/>
<text x="543" y="1084.33" font-size="49.46" textLength="42.91" lengthAdjust="spacingAndGlyphs" fill="#000">**</text>
<text transform="translate(444.6,1379.39) rotate(-90)" x="0" y="0" font-size="31" textLength="298.03" lengthAdjust="spacingAndGlyphs" fill="#000">Viable cells in skin, %</text>
<circle cx="506" cy="1360.8" r="9.8" fill="none" stroke="#000" stroke-width="2.35"/>
<circle cx="515.7" cy="1351.1" r="9.8" fill="none" stroke="#000" stroke-width="2.35"/>
<circle cx="527.9" cy="1360.8" r="9.8" fill="none" stroke="#000" stroke-width="2.35"/>
<circle cx="538.5" cy="1368.5" r="9.8" fill="none" stroke="#000" stroke-width="2.35"/>
<circle cx="547.1" cy="1355.4" r="9.8" fill="none" stroke="#000" stroke-width="2.35"/>
<circle cx="558" cy="1359.3" r="9.8" fill="none" stroke="#000" stroke-width="2.35"/>
<circle cx="597" cy="1110" r="8.75" fill="#151515" stroke="#000" stroke-width="2.3"/>
<circle cx="584.8" cy="1259.7" r="8.75" fill="#151515" stroke="#000" stroke-width="2.3"/>
<circle cx="608.9" cy="1267" r="8.75" fill="#151515" stroke="#000" stroke-width="2.3"/>
<circle cx="592.1" cy="1278.6" r="8.75" fill="#151515" stroke="#000" stroke-width="2.3"/>
<circle cx="597" cy="1303" r="8.75" fill="#151515" stroke="#000" stroke-width="2.3"/>
<circle cx="597" cy="1358.4" r="8.75" fill="#151515" stroke="#000" stroke-width="2.3"/>
<circle cx="647.6" cy="1355.4" r="9.8" fill="none" stroke="#000" stroke-width="2.35"/>
<circle cx="641.5" cy="1370" r="9.8" fill="none" stroke="#000" stroke-width="2.35"/>
<circle cx="663.7" cy="1366.3" r="9.8" fill="none" stroke="#000" stroke-width="2.35"/>
<circle cx="678.6" cy="1366.9" r="9.8" fill="none" stroke="#000" stroke-width="2.35"/>
<circle cx="687.8" cy="1372.1" r="9.8" fill="none" stroke="#000" stroke-width="2.35"/>
<circle cx="729.5" cy="1276.5" r="8.75" fill="#151515" stroke="#000" stroke-width="2.3"/>
<circle cx="741.7" cy="1318.8" r="8.75" fill="#151515" stroke="#000" stroke-width="2.3"/>
<circle cx="717.3" cy="1331" r="8.75" fill="#151515" stroke="#000" stroke-width="2.3"/>
<circle cx="741.7" cy="1354.7" r="8.75" fill="#151515" stroke="#000" stroke-width="2.3"/>
<circle cx="717.3" cy="1370" r="8.75" fill="#151515" stroke="#000" stroke-width="2.3"/>
<path d="M503.5 1360H558.3M569.9 1273.1H624.7M636 1366.3H690.8M702 1329.8H756.9" stroke="#000" stroke-width="2.35" fill="none"/>
<path d="M898.4 1087.3V1375.5H1185.4M886.9 1088.3H898.4M886.9 1160.5H898.4M886.9 1232H898.4M886.9 1303.6H898.4M886.9 1375.5H898.4M941.6 1375.5V1387M1008 1375.5V1387M1074 1375.5V1387M1140.4 1375.5V1387" stroke="#000" stroke-width="2.35" fill="none"/>
<path d="M933.6 1399.8H1013.6M1067.6 1399.8H1148.2" stroke="#000" stroke-width="5.2" stroke-linecap="round" fill="none"/>
<text x="851.92" y="1095.4" font-size="25.6" textLength="34.06" lengthAdjust="spacingAndGlyphs" fill="#000">2.0</text>
<text x="851.68" y="1167.6" font-size="25.6" textLength="34.06" lengthAdjust="spacingAndGlyphs" fill="#000">1.5</text>
<text x="851.92" y="1239.1" font-size="25.6" textLength="34.06" lengthAdjust="spacingAndGlyphs" fill="#000">1.0</text>
<text x="851.68" y="1310.7" font-size="25.6" textLength="34.06" lengthAdjust="spacingAndGlyphs" fill="#000">0.5</text>
<text x="851.92" y="1382.6" font-size="25.6" textLength="34.06" lengthAdjust="spacingAndGlyphs" fill="#000">0.0</text>
<text x="948.55" y="1437" font-size="30.5" textLength="45.33" lengthAdjust="spacingAndGlyphs" fill="#000">WT</text>
<text x="1064.76" y="1437" font-size="30.5" textLength="72.55" lengthAdjust="spacingAndGlyphs" fill="#000">TLR2</text>
<text x="1136.44" y="1427" font-size="17" textLength="19.2" lengthAdjust="spacingAndGlyphs" fill="#000">-/-</text>
<text x="888.63" y="954.5" font-size="32" textLength="259.3" lengthAdjust="spacingAndGlyphs" fill="#000">Skin macrophages</text>
<text x="873.01" y="976" font-size="20" textLength="297.66" lengthAdjust="spacingAndGlyphs" fill="#000">CD45+ CD11b+ Ly6G-F4/80+ Ly6C</text>
<text x="1173.5" y="967" font-size="15.5" textLength="85.01" lengthAdjust="spacingAndGlyphs" fill="#000">intermediate</text>
<circle cx="1060.4" cy="1023.8" r="11.9" fill="none" stroke="#000" stroke-width="3.1"/>
<circle cx="1060.4" cy="1058.8" r="10.3" fill="#151515" stroke="#000" stroke-width="2.6"/>
<text x="1079.79" y="1031.4" font-size="28.5" textLength="56.2" lengthAdjust="spacingAndGlyphs" fill="#000">PBS</text>
<text x="1080.79" y="1066.4" font-size="28.5" textLength="53.27" lengthAdjust="spacingAndGlyphs" fill="#000">Lpl1</text>
<path d="M941.6 1085.9V1073.7H1008V1085.9" stroke="#000" stroke-width="2.35" fill="none"/>
<text x="969.7" y="1080.15" font-size="41.08" textLength="19.96" lengthAdjust="spacingAndGlyphs" fill="#000">*</text>
<text transform="translate(838.6,1379.29) rotate(-90)" x="0" y="0" font-size="31" textLength="299.43" lengthAdjust="spacingAndGlyphs" fill="#000">Viable cells in skin, %</text>
<circle cx="930" cy="1309" r="9.8" fill="none" stroke="#000" stroke-width="2.35"/>
<circle cx="946.8" cy="1304.5" r="9.8" fill="none" stroke="#000" stroke-width="2.35"/>
<circle cx="958.3" cy="1315.8" r="9.8" fill="none" stroke="#000" stroke-width="2.35"/>
<circle cx="942.2" cy="1329.8" r="9.8" fill="none" stroke="#000" stroke-width="2.35"/>
<circle cx="954.4" cy="1346.2" r="9.8" fill="none" stroke="#000" stroke-width="2.35"/>
<circle cx="930" cy="1351.1" r="9.8" fill="none" stroke="#000" stroke-width="2.35"/>
<circle cx="1008" cy="1110.5" r="8.75" fill="#151515" stroke="#000" stroke-width="2.3"/>
<circle cx="1008" cy="1219.2" r="8.75" fill="#151515" stroke="#000" stroke-width="2.3"/>
<circle cx="996.4" cy="1255.2" r="8.75" fill="#151515" stroke="#000" stroke-width="2.3"/>
<circle cx="1019.9" cy="1250.3" r="8.75" fill="#151515" stroke="#000" stroke-width="2.3"/>
<circle cx="1019.9" cy="1271.9" r="8.75" fill="#151515" stroke="#000" stroke-width="2.3"/>
<circle cx="1008" cy="1341" r="8.75" fill="#151515" stroke="#000" stroke-width="2.3"/>
<circle cx="1074" cy="1231.4" r="9.8" fill="none" stroke="#000" stroke-width="2.35"/>
<circle cx="1060.4" cy="1321.3" r="9.8" fill="none" stroke="#000" stroke-width="2.35"/>
<circle cx="1078.6" cy="1327.3" r="9.8" fill="none" stroke="#000" stroke-width="2.35"/>
<circle cx="1093.9" cy="1325.2" r="9.8" fill="none" stroke="#000" stroke-width="2.35"/>
<circle cx="1062.5" cy="1340.4" r="9.8" fill="none" stroke="#000" stroke-width="2.35"/>
<circle cx="1140.4" cy="1106" r="8.75" fill="#151515" stroke="#000" stroke-width="2.3"/>
<circle cx="1128.9" cy="1239.6" r="8.75" fill="#151515" stroke="#000" stroke-width="2.3"/>
<circle cx="1152.6" cy="1233.9" r="8.75" fill="#151515" stroke="#000" stroke-width="2.3"/>
<circle cx="1140.4" cy="1321.3" r="8.75" fill="#151515" stroke="#000" stroke-width="2.3"/>
<circle cx="1140.4" cy="1356.3" r="8.75" fill="#151515" stroke="#000" stroke-width="2.3"/>
<path d="M914.2 1322.8H969M981.2 1252.1H1036M1048.2 1325.8H1103M1113.6 1239H1168.5" stroke="#000" stroke-width="2.35" fill="none"/>
<path d="M1310.7 1085.8V1373.6H1597.6M1299.2 1086.8H1310.7M1299.2 1143.7H1310.7M1299.2 1201H1310.7M1299.2 1258.2H1310.7M1299.2 1315.8H1310.7M1299.2 1373.6H1310.7M1354.9 1373.6V1385.1M1421 1373.6V1385.1M1487 1373.6V1385.1M1553.4 1373.6V1385.1" stroke="#000" stroke-width="2.35" fill="none"/>
<path d="M1346.8 1399.8H1428.4M1481.4 1399.8H1563" stroke="#000" stroke-width="5.2" stroke-linecap="round" fill="none"/>
<text x="1271.54" y="1093.9" font-size="25.6" textLength="27.25" lengthAdjust="spacingAndGlyphs" fill="#000">10</text>
<text x="1285.02" y="1150.8" font-size="25.6" textLength="13.62" lengthAdjust="spacingAndGlyphs" fill="#000">8</text>
<text x="1285.26" y="1208.1" font-size="25.6" textLength="13.62" lengthAdjust="spacingAndGlyphs" fill="#000">6</text>
<text x="1284.53" y="1265.3" font-size="25.6" textLength="13.62" lengthAdjust="spacingAndGlyphs" fill="#000">4</text>
<text x="1285.26" y="1322.9" font-size="25.6" textLength="13.62" lengthAdjust="spacingAndGlyphs" fill="#000">2</text>
<text x="1285.26" y="1380.7" font-size="25.6" textLength="13.62" lengthAdjust="spacingAndGlyphs" fill="#000">0</text>
<text x="1362.55" y="1437" font-size="30.5" textLength="45.33" lengthAdjust="spacingAndGlyphs" fill="#000">WT</text>
<text x="1479.06" y="1437" font-size="30.5" textLength="72.55" lengthAdjust="spacingAndGlyphs" fill="#000">TLR2</text>
<text x="1550.74" y="1427" font-size="17" textLength="19.2" lengthAdjust="spacingAndGlyphs" fill="#000">-/-</text>
<text x="1391.55" y="954.4" font-size="32" textLength="115.61" lengthAdjust="spacingAndGlyphs" fill="#000">NK cells</text>
<text x="1317.86" y="977.6" font-size="20" textLength="263.02" lengthAdjust="spacingAndGlyphs" fill="#000">CD45+ CD11b+ Ly6G+CD335+</text>
<circle cx="1488.6" cy="1019.8" r="11.9" fill="none" stroke="#000" stroke-width="3.1"/>
<circle cx="1489.5" cy="1055.7" r="10.3" fill="#151515" stroke="#000" stroke-width="2.6"/>
<text x="1507.39" y="1027.4" font-size="28.5" textLength="56.2" lengthAdjust="spacingAndGlyphs" fill="#000">PBS</text>
<text x="1509.01" y="1063.3" font-size="28.5" textLength="52.65" lengthAdjust="spacingAndGlyphs" fill="#000">Lpl1</text>
<text transform="translate(1264.6,1379.29) rotate(-90)" x="0" y="0" font-size="31" textLength="299.43" lengthAdjust="spacingAndGlyphs" fill="#000">Viable cells in skin, %</text>
<circle cx="1354.9" cy="1140.7" r="9.8" fill="none" stroke="#000" stroke-width="2.35"/>
<circle cx="1354.9" cy="1252.7" r="9.8" fill="none" stroke="#000" stroke-width="2.35"/>
<circle cx="1367.1" cy="1279.2" r="9.8" fill="none" stroke="#000" stroke-width="2.35"/>
<circle cx="1342.7" cy="1300" r="9.8" fill="none" stroke="#000" stroke-width="2.35"/>
<circle cx="1367.1" cy="1332.8" r="9.8" fill="none" stroke="#000" stroke-width="2.35"/>
<circle cx="1342.7" cy="1345" r="9.8" fill="none" stroke="#000" stroke-width="2.35"/>
<circle cx="1433.2" cy="1268.9" r="8.75" fill="#151515" stroke="#000" stroke-width="2.3"/>
<circle cx="1408.8" cy="1286.2" r="8.75" fill="#151515" stroke="#000" stroke-width="2.3"/>
<circle cx="1433.2" cy="1305.4" r="8.75" fill="#151515" stroke="#000" stroke-width="2.3"/>
<circle cx="1408.8" cy="1315.2" r="8.75" fill="#151515" stroke="#000" stroke-width="2.3"/>
<circle cx="1433.2" cy="1358.4" r="8.75" fill="#151515" stroke="#000" stroke-width="2.3"/>
<circle cx="1408.8" cy="1369.4" r="8.75" fill="#151515" stroke="#000" stroke-width="2.3"/>
<circle cx="1487.4" cy="1179.7" r="9.8" fill="none" stroke="#000" stroke-width="2.35"/>
<circle cx="1499.5" cy="1247.6" r="9.8" fill="none" stroke="#000" stroke-width="2.35"/>
<circle cx="1475.8" cy="1263.4" r="9.8" fill="none" stroke="#000" stroke-width="2.35"/>
<circle cx="1499.5" cy="1278" r="9.8" fill="none" stroke="#000" stroke-width="2.35"/>
<circle cx="1487.4" cy="1307.6" r="9.8" fill="none" stroke="#000" stroke-width="2.35"/>
<circle cx="1565.6" cy="1259.7" r="8.75" fill="#151515" stroke="#000" stroke-width="2.3"/>
<circle cx="1541.9" cy="1267" r="8.75" fill="#151515" stroke="#000" stroke-width="2.3"/>
<circle cx="1541.9" cy="1317.6" r="8.75" fill="#151515" stroke="#000" stroke-width="2.3"/>
<circle cx="1565.6" cy="1337.1" r="8.75" fill="#151515" stroke="#000" stroke-width="2.3"/>
<circle cx="1541.9" cy="1340.1" r="8.75" fill="#151515" stroke="#000" stroke-width="2.3"/>
<path d="M1328.1 1289.9H1381.4M1395.1 1310H1448.4M1460.6 1262.8H1514.8M1526 1317.6H1580.8" stroke="#000" stroke-width="2.35" fill="none"/>
<path d="M1712 1085.2V1373.6H2000M1700.5 1086.2H1712M1700.5 1182.1H1712M1700.5 1278H1712M1700.5 1373.6H1712M1755.5 1373.6V1385.1M1822.5 1373.6V1385.1M1888.6 1373.6V1385.1M1955 1373.6V1385.1" stroke="#000" stroke-width="2.35" fill="none"/>
<path d="M1747.4 1401.3H1828.1M1881.4 1401.3H1963" stroke="#000" stroke-width="5.2" stroke-linecap="round" fill="none"/>
<text x="1686.26" y="1093.3" font-size="25.6" textLength="13.62" lengthAdjust="spacingAndGlyphs" fill="#000">6</text>
<text x="1685.53" y="1189.2" font-size="25.6" textLength="13.62" lengthAdjust="spacingAndGlyphs" fill="#000">4</text>
<text x="1686.26" y="1285.1" font-size="25.6" textLength="13.62" lengthAdjust="spacingAndGlyphs" fill="#000">2</text>
<text x="1686.26" y="1380.7" font-size="25.6" textLength="13.62" lengthAdjust="spacingAndGlyphs" fill="#000">0</text>
<text x="1762.7" y="1437" font-size="30.5" textLength="45.33" lengthAdjust="spacingAndGlyphs" fill="#000">WT</text>
<text x="1879.06" y="1437" font-size="30.5" textLength="72.55" lengthAdjust="spacingAndGlyphs" fill="#000">TLR2</text>
<text x="1950.74" y="1427" font-size="17" textLength="19.2" lengthAdjust="spacingAndGlyphs" fill="#000">-/-</text>
<text x="1779.11" y="954.4" font-size="32" textLength="89.83" lengthAdjust="spacingAndGlyphs" fill="#000">T cells</text>
<text x="1736.65" y="977.6" font-size="20" textLength="181.6" lengthAdjust="spacingAndGlyphs" fill="#000">CD45+ CD11b- CD3+</text>
<circle cx="1889.5" cy="1017.4" r="11.9" fill="none" stroke="#000" stroke-width="3.1"/>
<circle cx="1889.5" cy="1052.4" r="10.3" fill="#151515" stroke="#000" stroke-width="2.6"/>
<text x="1907.95" y="1024.4" font-size="28.5" textLength="57.15" lengthAdjust="spacingAndGlyphs" fill="#000">PBS</text>
<text x="1909.88" y="1060.3" font-size="28.5" textLength="53.38" lengthAdjust="spacingAndGlyphs" fill="#000">Lpl1</text>
<text transform="translate(1665.2,1373.29) rotate(-90)" x="0" y="0" font-size="31" textLength="298.13" lengthAdjust="spacingAndGlyphs" fill="#000">Viable cells in skin, %</text>
<circle cx="1743.3" cy="1310.6" r="9.8" fill="none" stroke="#000" stroke-width="2.35"/>
<circle cx="1769.2" cy="1318.2" r="9.8" fill="none" stroke="#000" stroke-width="2.35"/>
<circle cx="1756.1" cy="1323.4" r="9.8" fill="none" stroke="#000" stroke-width="2.35"/>
<circle cx="1741.8" cy="1347.1" r="9.8" fill="none" stroke="#000" stroke-width="2.35"/>
<circle cx="1756.1" cy="1345.6" r="9.8" fill="none" stroke="#000" stroke-width="2.35"/>
<circle cx="1769.2" cy="1346.2" r="9.8" fill="none" stroke="#000" stroke-width="2.35"/>
<circle cx="1826.2" cy="1315.8" r="8.75" fill="#151515" stroke="#000" stroke-width="2.3"/>
<circle cx="1808.8" cy="1321.3" r="8.75" fill="#151515" stroke="#000" stroke-width="2.3"/>
<circle cx="1814.9" cy="1338" r="8.75" fill="#151515" stroke="#000" stroke-width="2.3"/>
<circle cx="1829.2" cy="1347.1" r="8.75" fill="#151515" stroke="#000" stroke-width="2.3"/>
<circle cx="1843.8" cy="1344.1" r="8.75" fill="#151515" stroke="#000" stroke-width="2.3"/>
<circle cx="1807.3" cy="1353.2" r="8.75" fill="#151515" stroke="#000" stroke-width="2.3"/>
<circle cx="1888.6" cy="1132.5" r="9.8" fill="none" stroke="#000" stroke-width="2.35"/>
<circle cx="1888.6" cy="1200" r="9.8" fill="none" stroke="#000" stroke-width="2.35"/>
<circle cx="1877.3" cy="1322.2" r="9.8" fill="none" stroke="#000" stroke-width="2.35"/>
<circle cx="1900.8" cy="1338" r="9.8" fill="none" stroke="#000" stroke-width="2.35"/>
<circle cx="1877.3" cy="1347.1" r="9.8" fill="none" stroke="#000" stroke-width="2.35"/>
<circle cx="1955.6" cy="1304.5" r="8.75" fill="#151515" stroke="#000" stroke-width="2.3"/>
<circle cx="1943.4" cy="1334.3" r="8.75" fill="#151515" stroke="#000" stroke-width="2.3"/>
<circle cx="1967.1" cy="1328.9" r="8.75" fill="#151515" stroke="#000" stroke-width="2.3"/>
<circle cx="1943.4" cy="1353.2" r="8.75" fill="#151515" stroke="#000" stroke-width="2.3"/>
<circle cx="1967.1" cy="1352.3" r="8.75" fill="#151515" stroke="#000" stroke-width="2.3"/>
<path d="M1729 1334H1783.8M1795.1 1342.6H1849.9M1860.6 1321.9H1916M1928.2 1334H1983" stroke="#000" stroke-width="2.35" fill="none"/>
</svg>
</body></html>
